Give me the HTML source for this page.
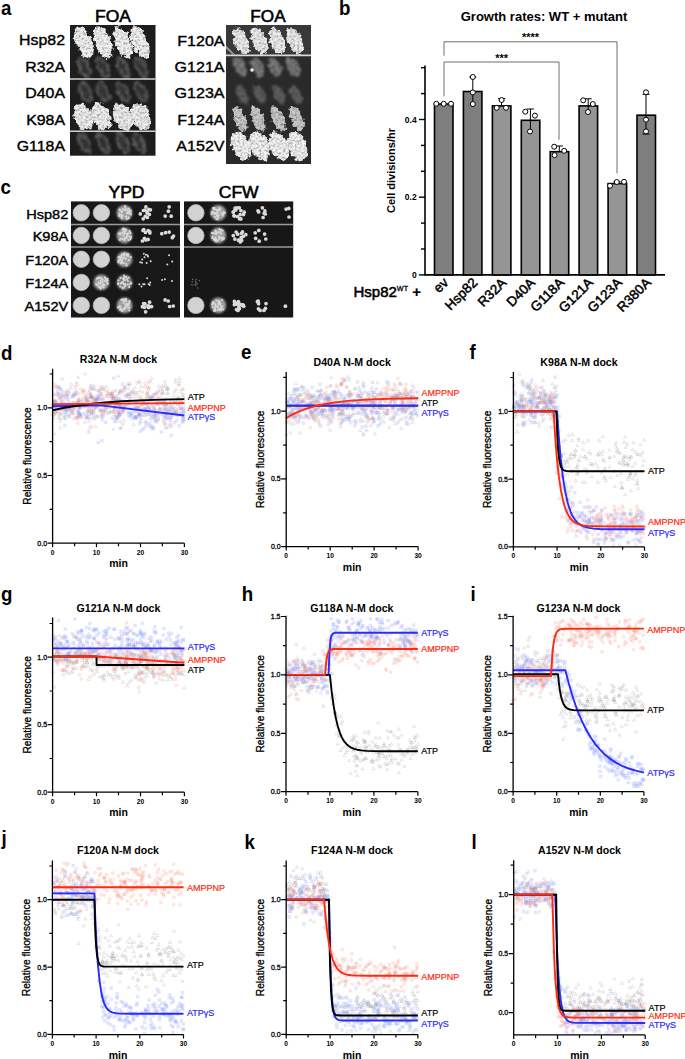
<!DOCTYPE html>
<html><head><meta charset="utf-8"><style>
html,body{margin:0;padding:0;background:#fff;}
svg{display:block;}
text{font-family:"Liberation Sans",sans-serif;}
</style></head><body>
<svg width="685" height="1059" viewBox="0 0 685 1059">
<defs><filter id="bl" x="-20%" y="-20%" width="140%" height="140%"><feGaussianBlur stdDeviation="0.8"/></filter>
<filter id="tex" x="-5%" y="-5%" width="110%" height="110%">
<feTurbulence type="fractalNoise" baseFrequency="0.22" numOctaves="2" seed="4" result="n"/>
<feDisplacementMap in="SourceGraphic" in2="n" scale="7" xChannelSelector="R" yChannelSelector="G" result="d"/>
<feTurbulence type="fractalNoise" baseFrequency="0.42" numOctaves="3" seed="11" result="n2"/>
<feColorMatrix in="n2" type="matrix" values="1.4 0 0 0 0.16  1.4 0 0 0 0.16  1.4 0 0 0 0.16  0 0 0 0 1" result="m"/>
<feComposite in="d" in2="m" operator="arithmetic" k1="1" k2="0" k3="0" k4="0" result="t"/>
<feGaussianBlur in="t" stdDeviation="0.45"/>
</filter>
<filter id="tex2" x="-5%" y="-5%" width="110%" height="110%">
<feTurbulence type="fractalNoise" baseFrequency="0.2" numOctaves="2" seed="8" result="n"/>
<feDisplacementMap in="SourceGraphic" in2="n" scale="6" xChannelSelector="R" yChannelSelector="G" result="d"/>
<feTurbulence type="fractalNoise" baseFrequency="0.55" numOctaves="2" seed="13" result="n2"/>
<feColorMatrix in="n2" type="matrix" values="0 0 0 0 1  0 0 0 0 1  0 0 0 0 1  1.8 0 0 0 -0.3" result="m"/>
<feComposite in="d" in2="m" operator="arithmetic" k1="1" k2="0" k3="0" k4="0" result="t"/>
<feGaussianBlur in="t" stdDeviation="0.9"/>
</filter></defs>
<text transform="translate(1 15) scale(0.96 1)" font-size="19.5" font-weight="bold" text-anchor="start" fill="#000" >a</text>
<text transform="translate(339 14.9) scale(0.96 1)" font-size="19.5" font-weight="bold" text-anchor="start" fill="#000" >b</text>
<text transform="translate(0.5 193.8) scale(0.96 1)" font-size="19.5" font-weight="bold" text-anchor="start" fill="#000" >c</text>
<text transform="translate(1 359.6) scale(0.96 1)" font-size="19.5" font-weight="bold" text-anchor="start" fill="#000" >d</text>
<text transform="translate(241 359.3) scale(0.96 1)" font-size="19.5" font-weight="bold" text-anchor="start" fill="#000" >e</text>
<text transform="translate(469.5 359.3) scale(0.96 1)" font-size="19.5" font-weight="bold" text-anchor="start" fill="#000" >f</text>
<text transform="translate(1 601) scale(0.96 1)" font-size="19.5" font-weight="bold" text-anchor="start" fill="#000" >g</text>
<text transform="translate(241.8 600.8) scale(0.96 1)" font-size="19.5" font-weight="bold" text-anchor="start" fill="#000" >h</text>
<text transform="translate(470.5 600.8) scale(0.96 1)" font-size="19.5" font-weight="bold" text-anchor="start" fill="#000" >i</text>
<text transform="translate(1.5 844.7) scale(0.96 1)" font-size="19.5" font-weight="bold" text-anchor="start" fill="#000" >j</text>
<text transform="translate(244.5 848.5) scale(0.96 1)" font-size="19.5" font-weight="bold" text-anchor="start" fill="#000" >k</text>
<text transform="translate(471.5 848.5) scale(0.96 1)" font-size="19.5" font-weight="bold" text-anchor="start" fill="#000" >l</text>
<rect x="70" y="25" width="85.5" height="130.7" fill="#1d1d1d"/>
<rect x="226" y="25" width="85" height="139" fill="#2a2a2a"/>
<rect x="226" y="25" width="85" height="30.4" fill="#383838"/>
<g filter="url(#tex)">
<ellipse cx="84" cy="42.3" rx="7.8" ry="17" transform="rotate(-22 84 42.3)" fill="#f2f2f2" opacity="1.0"/>
<ellipse cx="103" cy="42.3" rx="7.8" ry="17" transform="rotate(-22 103 42.3)" fill="#f2f2f2" opacity="1.0"/>
<ellipse cx="123" cy="42.3" rx="7.8" ry="17" transform="rotate(-22 123 42.3)" fill="#f2f2f2" opacity="1.0"/>
<ellipse cx="140" cy="42.3" rx="7.8" ry="17" transform="rotate(-22 140 42.3)" fill="#f2f2f2" opacity="1.0"/>
<ellipse cx="83" cy="116.8" rx="9" ry="14.2" transform="rotate(-22 83 116.8)" fill="#eeeeee" opacity="1.0"/>
<ellipse cx="101" cy="116.8" rx="9" ry="14.2" transform="rotate(-22 101 116.8)" fill="#eeeeee" opacity="1.0"/>
<ellipse cx="122.6" cy="116.8" rx="9" ry="14.2" transform="rotate(-22 122.6 116.8)" fill="#eeeeee" opacity="1.0"/>
<ellipse cx="140.6" cy="116.8" rx="9" ry="14.2" transform="rotate(-22 140.6 116.8)" fill="#eeeeee" opacity="1.0"/>
</g><g filter="url(#tex2)">
<ellipse cx="84" cy="67.5" rx="4.5" ry="10.5" transform="rotate(-26 84 67.5)" fill="#404040" stroke="#7a7a7a" stroke-width="2.6"/>
<ellipse cx="103" cy="67.5" rx="4.5" ry="10.5" transform="rotate(-26 103 67.5)" fill="#404040" stroke="#7a7a7a" stroke-width="2.6"/>
<ellipse cx="123" cy="67.5" rx="4.5" ry="10.5" transform="rotate(-26 123 67.5)" fill="#404040" stroke="#7a7a7a" stroke-width="2.6"/>
<ellipse cx="141" cy="67.5" rx="4.5" ry="10.5" transform="rotate(-26 141 67.5)" fill="#404040" stroke="#7a7a7a" stroke-width="2.6"/>
<ellipse cx="85.5" cy="92" rx="4.5" ry="10.5" transform="rotate(-26 85.5 92)" fill="#404040" stroke="#767676" stroke-width="2.6"/>
<ellipse cx="103" cy="92" rx="4.5" ry="10.5" transform="rotate(-26 103 92)" fill="#404040" stroke="#767676" stroke-width="2.6"/>
<ellipse cx="123" cy="92" rx="4.5" ry="10.5" transform="rotate(-26 123 92)" fill="#404040" stroke="#767676" stroke-width="2.6"/>
<ellipse cx="141" cy="92" rx="4.5" ry="10.5" transform="rotate(-26 141 92)" fill="#404040" stroke="#767676" stroke-width="2.6"/>
<ellipse cx="84.5" cy="143" rx="4.5" ry="10.5" transform="rotate(-26 84.5 143)" fill="#404040" stroke="#7a7a7a" stroke-width="2.6"/>
<ellipse cx="103" cy="143" rx="4.5" ry="10.5" transform="rotate(-26 103 143)" fill="#404040" stroke="#7a7a7a" stroke-width="2.6"/>
<ellipse cx="123" cy="143" rx="4.5" ry="10.5" transform="rotate(-26 123 143)" fill="#404040" stroke="#7a7a7a" stroke-width="2.6"/>
<ellipse cx="139" cy="143" rx="4.5" ry="10.5" transform="rotate(-26 139 143)" fill="#404040" stroke="#7a7a7a" stroke-width="2.6"/>
</g>
<g filter="url(#tex)">
<ellipse cx="241" cy="40.8" rx="7" ry="14" transform="rotate(-22 241 40.8)" fill="#ececec" opacity="1.0"/>
<ellipse cx="259.5" cy="40.8" rx="7" ry="14" transform="rotate(-22 259.5 40.8)" fill="#ececec" opacity="1.0"/>
<ellipse cx="277" cy="40.8" rx="7" ry="14" transform="rotate(-22 277 40.8)" fill="#ececec" opacity="1.0"/>
<ellipse cx="295" cy="40.8" rx="7" ry="14" transform="rotate(-22 295 40.8)" fill="#ececec" opacity="1.0"/>
<ellipse cx="240" cy="118.8" rx="6" ry="13.5" transform="rotate(-22 240 118.8)" fill="#c8c8c8" opacity="1.0"/>
<ellipse cx="258" cy="118.8" rx="6" ry="13.5" transform="rotate(-22 258 118.8)" fill="#c8c8c8" opacity="1.0"/>
<ellipse cx="278" cy="118.8" rx="6" ry="13.5" transform="rotate(-22 278 118.8)" fill="#c8c8c8" opacity="1.0"/>
<ellipse cx="297" cy="118.8" rx="6" ry="13.5" transform="rotate(-22 297 118.8)" fill="#c8c8c8" opacity="1.0"/>
<ellipse cx="241" cy="146" rx="9.5" ry="15" transform="rotate(-22 241 146)" fill="#f2f2f2" opacity="1.0"/>
<ellipse cx="259.5" cy="146" rx="9.5" ry="15" transform="rotate(-22 259.5 146)" fill="#f2f2f2" opacity="1.0"/>
<ellipse cx="279" cy="146" rx="9.5" ry="15" transform="rotate(-22 279 146)" fill="#f2f2f2" opacity="1.0"/>
<ellipse cx="297" cy="146" rx="9.5" ry="15" transform="rotate(-22 297 146)" fill="#f2f2f2" opacity="1.0"/>
</g><g filter="url(#tex2)">
<ellipse cx="240.5" cy="67" rx="5.8" ry="11" transform="rotate(-28 240.5 67)" fill="#9a9a9a" opacity="1.0"/>
<ellipse cx="257" cy="67" rx="5.8" ry="11" transform="rotate(-28 257 67)" fill="#9a9a9a" opacity="1.0"/>
<ellipse cx="275" cy="67" rx="5.8" ry="11" transform="rotate(-28 275 67)" fill="#9a9a9a" opacity="1.0"/>
<ellipse cx="293" cy="67" rx="5.8" ry="11" transform="rotate(-28 293 67)" fill="#9a9a9a" opacity="1.0"/>
<ellipse cx="242" cy="94.5" rx="5.2" ry="10.5" transform="rotate(-28 242 94.5)" fill="#767676" opacity="1.0"/>
<ellipse cx="260" cy="94.5" rx="5.2" ry="10.5" transform="rotate(-28 260 94.5)" fill="#767676" opacity="1.0"/>
<ellipse cx="279" cy="94.5" rx="5.2" ry="10.5" transform="rotate(-28 279 94.5)" fill="#767676" opacity="1.0"/>
<ellipse cx="295.6" cy="94.5" rx="5.2" ry="10.5" transform="rotate(-28 295.6 94.5)" fill="#767676" opacity="1.0"/>
</g>
<circle cx="252" cy="70" r="1.8" fill="#eee"/>
<path d="M226,45.5L235,54.6H232.5L226,48.5Z" fill="#9a9a9a"/>
<line x1="70" x2="155.5" y1="79" y2="79" stroke="#d2d2d2" stroke-width="1.6"/>
<line x1="70" x2="155.5" y1="131.2" y2="131.2" stroke="#d2d2d2" stroke-width="1.6"/>
<line x1="226" x2="311" y1="55.4" y2="55.4" stroke="#d8d8d8" stroke-width="1.6"/>
<text transform="translate(65 45.3) scale(1.06 1)" font-size="15" text-anchor="end" fill="#000" stroke="#000" stroke-width="0.4">Hsp82</text>
<text transform="translate(65 71.7) scale(1.06 1)" font-size="15" text-anchor="end" fill="#000" stroke="#000" stroke-width="0.4">R32A</text>
<text transform="translate(65 98.4) scale(1.06 1)" font-size="15" text-anchor="end" fill="#000" stroke="#000" stroke-width="0.4">D40A</text>
<text transform="translate(65 125) scale(1.06 1)" font-size="15" text-anchor="end" fill="#000" stroke="#000" stroke-width="0.4">K98A</text>
<text transform="translate(65 151) scale(1.06 1)" font-size="15" text-anchor="end" fill="#000" stroke="#000" stroke-width="0.4">G118A</text>
<text transform="translate(224.5 45.9) scale(1.07 1)" font-size="15" text-anchor="end" fill="#000" stroke="#000" stroke-width="0.4">F120A</text>
<text transform="translate(224.5 72.4) scale(1.07 1)" font-size="15" text-anchor="end" fill="#000" stroke="#000" stroke-width="0.4">G121A</text>
<text transform="translate(224.5 98.4) scale(1.07 1)" font-size="15" text-anchor="end" fill="#000" stroke="#000" stroke-width="0.4">G123A</text>
<text transform="translate(224.5 124.5) scale(1.07 1)" font-size="15" text-anchor="end" fill="#000" stroke="#000" stroke-width="0.4">F124A</text>
<text transform="translate(224.5 150.7) scale(1.07 1)" font-size="15" text-anchor="end" fill="#000" stroke="#000" stroke-width="0.4">A152V</text>
<text transform="translate(113 21.7) scale(1.06 1)" font-size="16.5" text-anchor="middle" fill="#000" stroke="#000" stroke-width="0.6">FOA</text>
<text transform="translate(268 21.7) scale(1.04 1)" font-size="16.5" text-anchor="middle" fill="#000" stroke="#000" stroke-width="0.6">FOA</text>
<rect x="71" y="201.4" width="109" height="116.1" fill="#181818"/>
<rect x="184" y="201.4" width="109.2" height="116.1" fill="#171717"/>
<line x1="71" x2="180" y1="224.5" y2="224.5" stroke="#9a9a9a" stroke-width="1.4"/>
<line x1="184" x2="293.2" y1="224.5" y2="224.5" stroke="#9a9a9a" stroke-width="1.4"/>
<line x1="71" x2="180" y1="247" y2="247" stroke="#9a9a9a" stroke-width="1.4"/>
<line x1="184" x2="293.2" y1="247" y2="247" stroke="#9a9a9a" stroke-width="1.4"/>
<circle cx="81.3" cy="212.8" r="8.2" fill="#d2d2d2" stroke="#bbb" stroke-width="0.8"/>
<circle cx="195.9" cy="212.8" r="8.2" fill="#d2d2d2" stroke="#bbb" stroke-width="0.8"/>
<circle cx="101.4" cy="212.8" r="8.2" fill="#d2d2d2" stroke="#bbb" stroke-width="0.8"/>
<circle cx="218.3" cy="212.8" r="7.9" fill="#a0a0a0" filter="url(#bl)"/>
<circle cx="213.6" cy="208.1" r="1.1" fill="#d8d8d8"/>
<circle cx="218.8" cy="209.5" r="1.1" fill="#d8d8d8"/>
<circle cx="216.3" cy="219" r="1.1" fill="#d8d8d8"/>
<circle cx="224.6" cy="213" r="1.1" fill="#d8d8d8"/>
<circle cx="219.7" cy="208.2" r="1.1" fill="#d8d8d8"/>
<circle cx="217.1" cy="216.3" r="1.1" fill="#d8d8d8"/>
<circle cx="218.2" cy="217.5" r="1.1" fill="#d8d8d8"/>
<circle cx="213.1" cy="212.7" r="1.1" fill="#d8d8d8"/>
<circle cx="224.5" cy="212.6" r="1.1" fill="#d8d8d8"/>
<circle cx="213.3" cy="208" r="1.1" fill="#d8d8d8"/>
<circle cx="218.9" cy="215.5" r="1.1" fill="#d8d8d8"/>
<circle cx="217.2" cy="211.8" r="1.1" fill="#d8d8d8"/>
<circle cx="223.2" cy="213.9" r="1.1" fill="#d8d8d8"/>
<circle cx="211.7" cy="214.2" r="1.1" fill="#d8d8d8"/>
<circle cx="214.8" cy="209.2" r="1.1" fill="#d8d8d8"/>
<circle cx="214.8" cy="212.9" r="1.1" fill="#d8d8d8"/>
<circle cx="221.4" cy="213" r="1.1" fill="#d8d8d8"/>
<circle cx="217.2" cy="209.9" r="1.1" fill="#d8d8d8"/>
<circle cx="218" cy="213.1" r="1.1" fill="#d8d8d8"/>
<circle cx="219.6" cy="210.4" r="1.1" fill="#d8d8d8"/>
<circle cx="217.6" cy="219.3" r="1.1" fill="#d8d8d8"/>
<circle cx="211.9" cy="212.4" r="1.1" fill="#d8d8d8"/>
<circle cx="214.4" cy="208.2" r="1.1" fill="#d8d8d8"/>
<circle cx="222.6" cy="215.6" r="1.1" fill="#d8d8d8"/>
<circle cx="211.8" cy="212.5" r="1.1" fill="#d8d8d8"/>
<circle cx="214.8" cy="216.9" r="1.1" fill="#d8d8d8"/>
<circle cx="222.4" cy="214.4" r="1.1" fill="#d8d8d8"/>
<circle cx="217.1" cy="215.2" r="1.1" fill="#d8d8d8"/>
<circle cx="220" cy="208.9" r="1.1" fill="#d8d8d8"/>
<circle cx="223.6" cy="212.1" r="1.1" fill="#d8d8d8"/>
<circle cx="213.9" cy="209.4" r="1.1" fill="#d8d8d8"/>
<circle cx="217.1" cy="210.4" r="1.1" fill="#d8d8d8"/>
<circle cx="215.1" cy="214.1" r="1.1" fill="#d8d8d8"/>
<circle cx="216.5" cy="214.1" r="1.1" fill="#d8d8d8"/>
<circle cx="124.5" cy="212.8" r="7.9" fill="#a0a0a0" filter="url(#bl)"/>
<circle cx="127.7" cy="212.1" r="1.1" fill="#d8d8d8"/>
<circle cx="122.7" cy="209.4" r="1.1" fill="#d8d8d8"/>
<circle cx="128.5" cy="208.7" r="1.1" fill="#d8d8d8"/>
<circle cx="128.9" cy="217.5" r="1.1" fill="#d8d8d8"/>
<circle cx="130.8" cy="210.5" r="1.1" fill="#d8d8d8"/>
<circle cx="122.1" cy="211.7" r="1.1" fill="#d8d8d8"/>
<circle cx="126.9" cy="219.1" r="1.1" fill="#d8d8d8"/>
<circle cx="121.7" cy="211.8" r="1.1" fill="#d8d8d8"/>
<circle cx="128.7" cy="209.1" r="1.1" fill="#d8d8d8"/>
<circle cx="120.6" cy="211" r="1.1" fill="#d8d8d8"/>
<circle cx="121.6" cy="214.6" r="1.1" fill="#d8d8d8"/>
<circle cx="130.9" cy="214.4" r="1.1" fill="#d8d8d8"/>
<circle cx="119.4" cy="213.9" r="1.1" fill="#d8d8d8"/>
<circle cx="121.8" cy="218.3" r="1.1" fill="#d8d8d8"/>
<circle cx="128.7" cy="213.5" r="1.1" fill="#d8d8d8"/>
<circle cx="126.9" cy="213.3" r="1.1" fill="#d8d8d8"/>
<circle cx="130.1" cy="211.6" r="1.1" fill="#d8d8d8"/>
<circle cx="119.9" cy="215" r="1.1" fill="#d8d8d8"/>
<circle cx="127.4" cy="209.8" r="1.1" fill="#d8d8d8"/>
<circle cx="119.6" cy="209.7" r="1.1" fill="#d8d8d8"/>
<circle cx="121.4" cy="216.8" r="1.1" fill="#d8d8d8"/>
<circle cx="125.1" cy="206.2" r="1.1" fill="#d8d8d8"/>
<circle cx="128.4" cy="218.3" r="1.1" fill="#d8d8d8"/>
<circle cx="130.6" cy="213" r="1.1" fill="#d8d8d8"/>
<circle cx="125.5" cy="210.4" r="1.1" fill="#d8d8d8"/>
<circle cx="119" cy="215.9" r="1.1" fill="#d8d8d8"/>
<circle cx="130" cy="213.3" r="1.1" fill="#d8d8d8"/>
<circle cx="125.8" cy="208" r="1.1" fill="#d8d8d8"/>
<circle cx="124" cy="209.5" r="1.1" fill="#d8d8d8"/>
<circle cx="125.8" cy="216.8" r="1.1" fill="#d8d8d8"/>
<circle cx="126.3" cy="216.5" r="1.1" fill="#d8d8d8"/>
<circle cx="129.5" cy="211.1" r="1.1" fill="#d8d8d8"/>
<circle cx="122.5" cy="215.9" r="1.1" fill="#d8d8d8"/>
<circle cx="129" cy="211.4" r="1.1" fill="#d8d8d8"/>
<circle cx="244.2" cy="212.2" r="1.85" fill="#dadada"/>
<circle cx="233.4" cy="212" r="1.85" fill="#dadada"/>
<circle cx="239.3" cy="207.8" r="1.85" fill="#dadada"/>
<circle cx="234" cy="215.5" r="1.85" fill="#dadada"/>
<circle cx="234.2" cy="216.1" r="1.85" fill="#dadada"/>
<circle cx="243.5" cy="214.6" r="1.85" fill="#dadada"/>
<circle cx="233.2" cy="212" r="1.85" fill="#dadada"/>
<circle cx="239.5" cy="218.7" r="1.85" fill="#dadada"/>
<circle cx="237" cy="207.8" r="1.85" fill="#dadada"/>
<circle cx="235.1" cy="208.1" r="1.85" fill="#dadada"/>
<circle cx="237.4" cy="216.5" r="1.85" fill="#dadada"/>
<circle cx="240.1" cy="214.7" r="1.85" fill="#dadada"/>
<circle cx="240.9" cy="218.9" r="1.85" fill="#dadada"/>
<circle cx="240.9" cy="210.6" r="1.85" fill="#dadada"/>
<circle cx="235.8" cy="210" r="1.85" fill="#dadada"/>
<circle cx="235.1" cy="209.8" r="1.85" fill="#dadada"/>
<circle cx="143.2" cy="218.8" r="1.85" fill="#dadada"/>
<circle cx="140.3" cy="213.9" r="1.85" fill="#dadada"/>
<circle cx="143.4" cy="210.5" r="1.85" fill="#dadada"/>
<circle cx="149.4" cy="214.4" r="1.85" fill="#dadada"/>
<circle cx="145.9" cy="206.9" r="1.85" fill="#dadada"/>
<circle cx="145.1" cy="210.2" r="1.85" fill="#dadada"/>
<circle cx="150.4" cy="209.8" r="1.85" fill="#dadada"/>
<circle cx="148.8" cy="209.4" r="1.85" fill="#dadada"/>
<circle cx="147.1" cy="211.8" r="1.85" fill="#dadada"/>
<circle cx="147.1" cy="213.1" r="1.85" fill="#dadada"/>
<circle cx="145.3" cy="216.3" r="1.85" fill="#dadada"/>
<circle cx="147.3" cy="217.4" r="1.85" fill="#dadada"/>
<circle cx="265.3" cy="214" r="1.85" fill="#dadada"/>
<circle cx="263.1" cy="217.5" r="1.85" fill="#dadada"/>
<circle cx="264.2" cy="213.3" r="1.85" fill="#dadada"/>
<circle cx="264.9" cy="210.9" r="1.85" fill="#dadada"/>
<circle cx="262.4" cy="207.8" r="1.85" fill="#dadada"/>
<circle cx="258" cy="210.8" r="1.85" fill="#dadada"/>
<circle cx="258.7" cy="211.9" r="1.85" fill="#dadada"/>
<circle cx="169.2" cy="206.8" r="1.85" fill="#dadada"/>
<circle cx="168.4" cy="211.2" r="1.85" fill="#dadada"/>
<circle cx="165.2" cy="216.1" r="1.85" fill="#dadada"/>
<circle cx="171.2" cy="216.2" r="1.85" fill="#dadada"/>
<circle cx="286.1" cy="209.1" r="1.85" fill="#dadada"/>
<circle cx="288.8" cy="208.4" r="1.85" fill="#dadada"/>
<circle cx="289" cy="217" r="1.85" fill="#dadada"/>
<circle cx="81.3" cy="235.5" r="8.2" fill="#d2d2d2" stroke="#bbb" stroke-width="0.8"/>
<circle cx="195.9" cy="235.5" r="8.2" fill="#d2d2d2" stroke="#bbb" stroke-width="0.8"/>
<circle cx="101.4" cy="235.5" r="8.2" fill="#d2d2d2" stroke="#bbb" stroke-width="0.8"/>
<circle cx="218.3" cy="235.5" r="7.9" fill="#a0a0a0" filter="url(#bl)"/>
<circle cx="220.6" cy="233.4" r="1.1" fill="#d8d8d8"/>
<circle cx="213.3" cy="233" r="1.1" fill="#d8d8d8"/>
<circle cx="216.6" cy="234.1" r="1.1" fill="#d8d8d8"/>
<circle cx="215.3" cy="230.8" r="1.1" fill="#d8d8d8"/>
<circle cx="221.1" cy="229.9" r="1.1" fill="#d8d8d8"/>
<circle cx="215.5" cy="240.8" r="1.1" fill="#d8d8d8"/>
<circle cx="222.7" cy="230.6" r="1.1" fill="#d8d8d8"/>
<circle cx="218.9" cy="236.5" r="1.1" fill="#d8d8d8"/>
<circle cx="216.4" cy="232.9" r="1.1" fill="#d8d8d8"/>
<circle cx="212" cy="232.9" r="1.1" fill="#d8d8d8"/>
<circle cx="215.7" cy="237.9" r="1.1" fill="#d8d8d8"/>
<circle cx="212.8" cy="237" r="1.1" fill="#d8d8d8"/>
<circle cx="221.8" cy="238.1" r="1.1" fill="#d8d8d8"/>
<circle cx="222.1" cy="239.7" r="1.1" fill="#d8d8d8"/>
<circle cx="220.4" cy="231.7" r="1.1" fill="#d8d8d8"/>
<circle cx="214.7" cy="239.2" r="1.1" fill="#d8d8d8"/>
<circle cx="219.1" cy="238.9" r="1.1" fill="#d8d8d8"/>
<circle cx="216" cy="239.7" r="1.1" fill="#d8d8d8"/>
<circle cx="223.6" cy="238.5" r="1.1" fill="#d8d8d8"/>
<circle cx="214.9" cy="233.7" r="1.1" fill="#d8d8d8"/>
<circle cx="223.7" cy="238.4" r="1.1" fill="#d8d8d8"/>
<circle cx="220" cy="237.4" r="1.1" fill="#d8d8d8"/>
<circle cx="219.7" cy="237" r="1.1" fill="#d8d8d8"/>
<circle cx="221.3" cy="233.5" r="1.1" fill="#d8d8d8"/>
<circle cx="216.1" cy="241.5" r="1.1" fill="#d8d8d8"/>
<circle cx="216.1" cy="233.4" r="1.1" fill="#d8d8d8"/>
<circle cx="212.3" cy="238.1" r="1.1" fill="#d8d8d8"/>
<circle cx="214.1" cy="239.7" r="1.1" fill="#d8d8d8"/>
<circle cx="223.2" cy="238.9" r="1.1" fill="#d8d8d8"/>
<circle cx="219.3" cy="229.2" r="1.1" fill="#d8d8d8"/>
<circle cx="216.3" cy="231.7" r="1.1" fill="#d8d8d8"/>
<circle cx="222.9" cy="237.5" r="1.1" fill="#d8d8d8"/>
<circle cx="218.4" cy="232.4" r="1.1" fill="#d8d8d8"/>
<circle cx="217.8" cy="240.6" r="1.1" fill="#d8d8d8"/>
<circle cx="124.5" cy="235.5" r="7.9" fill="#a0a0a0" filter="url(#bl)"/>
<circle cx="124.4" cy="228.9" r="1.1" fill="#d8d8d8"/>
<circle cx="126.6" cy="237.6" r="1.1" fill="#d8d8d8"/>
<circle cx="126.2" cy="230.1" r="1.1" fill="#d8d8d8"/>
<circle cx="123.2" cy="228.6" r="1.1" fill="#d8d8d8"/>
<circle cx="130.5" cy="233.1" r="1.1" fill="#d8d8d8"/>
<circle cx="125.2" cy="231.2" r="1.1" fill="#d8d8d8"/>
<circle cx="122.6" cy="233.2" r="1.1" fill="#d8d8d8"/>
<circle cx="124.8" cy="229.4" r="1.1" fill="#d8d8d8"/>
<circle cx="123.7" cy="230.9" r="1.1" fill="#d8d8d8"/>
<circle cx="121.2" cy="238.6" r="1.1" fill="#d8d8d8"/>
<circle cx="130.8" cy="236.8" r="1.1" fill="#d8d8d8"/>
<circle cx="120.3" cy="234.4" r="1.1" fill="#d8d8d8"/>
<circle cx="118.8" cy="233.7" r="1.1" fill="#d8d8d8"/>
<circle cx="119.8" cy="239.8" r="1.1" fill="#d8d8d8"/>
<circle cx="128.3" cy="233.4" r="1.1" fill="#d8d8d8"/>
<circle cx="128.5" cy="240.1" r="1.1" fill="#d8d8d8"/>
<circle cx="127.2" cy="235.4" r="1.1" fill="#d8d8d8"/>
<circle cx="123" cy="229.3" r="1.1" fill="#d8d8d8"/>
<circle cx="126.7" cy="234.3" r="1.1" fill="#d8d8d8"/>
<circle cx="130.3" cy="239.3" r="1.1" fill="#d8d8d8"/>
<circle cx="126.7" cy="237.5" r="1.1" fill="#d8d8d8"/>
<circle cx="120.3" cy="233.4" r="1.1" fill="#d8d8d8"/>
<circle cx="124.5" cy="232.4" r="1.1" fill="#d8d8d8"/>
<circle cx="127.3" cy="233.8" r="1.1" fill="#d8d8d8"/>
<circle cx="124.7" cy="233.7" r="1.1" fill="#d8d8d8"/>
<circle cx="123.3" cy="235.7" r="1.1" fill="#d8d8d8"/>
<circle cx="123" cy="239.1" r="1.1" fill="#d8d8d8"/>
<circle cx="123.6" cy="230.9" r="1.1" fill="#d8d8d8"/>
<circle cx="131" cy="237.9" r="1.1" fill="#d8d8d8"/>
<circle cx="129.6" cy="231.2" r="1.1" fill="#d8d8d8"/>
<circle cx="124.6" cy="239.9" r="1.1" fill="#d8d8d8"/>
<circle cx="124.9" cy="237.9" r="1.1" fill="#d8d8d8"/>
<circle cx="129.4" cy="236.5" r="1.1" fill="#d8d8d8"/>
<circle cx="126.6" cy="237.6" r="1.1" fill="#d8d8d8"/>
<circle cx="242.5" cy="231.9" r="1.85" fill="#dadada"/>
<circle cx="241.7" cy="240.4" r="1.85" fill="#dadada"/>
<circle cx="239" cy="240.3" r="1.85" fill="#dadada"/>
<circle cx="238.5" cy="240.2" r="1.85" fill="#dadada"/>
<circle cx="236.1" cy="232" r="1.85" fill="#dadada"/>
<circle cx="234.9" cy="239.1" r="1.85" fill="#dadada"/>
<circle cx="241.6" cy="233.3" r="1.85" fill="#dadada"/>
<circle cx="241.2" cy="237.4" r="1.85" fill="#dadada"/>
<circle cx="245.8" cy="234.7" r="1.85" fill="#dadada"/>
<circle cx="240.3" cy="241.9" r="1.85" fill="#dadada"/>
<circle cx="240.7" cy="240.1" r="1.85" fill="#dadada"/>
<circle cx="233.3" cy="235.6" r="1.85" fill="#dadada"/>
<circle cx="243.2" cy="236.5" r="1.85" fill="#dadada"/>
<circle cx="237.7" cy="234.2" r="1.85" fill="#dadada"/>
<circle cx="145.8" cy="240" r="1.85" fill="#dadada"/>
<circle cx="149.6" cy="231.6" r="1.85" fill="#dadada"/>
<circle cx="148.1" cy="230.5" r="1.85" fill="#dadada"/>
<circle cx="143.8" cy="229.7" r="1.85" fill="#dadada"/>
<circle cx="143" cy="230.4" r="1.85" fill="#dadada"/>
<circle cx="144.5" cy="238.3" r="1.85" fill="#dadada"/>
<circle cx="145.5" cy="232.5" r="1.85" fill="#dadada"/>
<circle cx="149.9" cy="233" r="1.85" fill="#dadada"/>
<circle cx="142.4" cy="241" r="1.85" fill="#dadada"/>
<circle cx="148.1" cy="239.4" r="1.85" fill="#dadada"/>
<circle cx="265.8" cy="239" r="1.85" fill="#dadada"/>
<circle cx="255.2" cy="232.8" r="1.85" fill="#dadada"/>
<circle cx="259.2" cy="241.2" r="1.85" fill="#dadada"/>
<circle cx="258.8" cy="230.4" r="1.85" fill="#dadada"/>
<circle cx="264.6" cy="234.1" r="1.85" fill="#dadada"/>
<circle cx="255.7" cy="238.3" r="1.85" fill="#dadada"/>
<circle cx="169.2" cy="232.1" r="1.85" fill="#dadada"/>
<circle cx="165.6" cy="232.7" r="1.85" fill="#dadada"/>
<circle cx="161.8" cy="233.7" r="1.85" fill="#dadada"/>
<circle cx="172.3" cy="237.7" r="1.85" fill="#dadada"/>
<circle cx="173.5" cy="236.1" r="1.85" fill="#dadada"/>
<circle cx="81.3" cy="259.3" r="8.2" fill="#d2d2d2" stroke="#bbb" stroke-width="0.8"/>
<circle cx="101.4" cy="259.3" r="8.2" fill="#d2d2d2" stroke="#bbb" stroke-width="0.8"/>
<circle cx="124.5" cy="259.3" r="7.9" fill="#a0a0a0" filter="url(#bl)"/>
<circle cx="120.1" cy="260.2" r="1.1" fill="#d8d8d8"/>
<circle cx="123.6" cy="254.3" r="1.1" fill="#d8d8d8"/>
<circle cx="124.3" cy="257.3" r="1.1" fill="#d8d8d8"/>
<circle cx="119.7" cy="257.3" r="1.1" fill="#d8d8d8"/>
<circle cx="125.8" cy="258.7" r="1.1" fill="#d8d8d8"/>
<circle cx="119.2" cy="260.9" r="1.1" fill="#d8d8d8"/>
<circle cx="122.7" cy="258.7" r="1.1" fill="#d8d8d8"/>
<circle cx="121.7" cy="257.5" r="1.1" fill="#d8d8d8"/>
<circle cx="126.7" cy="265.5" r="1.1" fill="#d8d8d8"/>
<circle cx="126" cy="263.8" r="1.1" fill="#d8d8d8"/>
<circle cx="124.5" cy="253.4" r="1.1" fill="#d8d8d8"/>
<circle cx="118.6" cy="257.2" r="1.1" fill="#d8d8d8"/>
<circle cx="119.1" cy="260.5" r="1.1" fill="#d8d8d8"/>
<circle cx="126.9" cy="254.1" r="1.1" fill="#d8d8d8"/>
<circle cx="121.7" cy="255.8" r="1.1" fill="#d8d8d8"/>
<circle cx="120.4" cy="257.7" r="1.1" fill="#d8d8d8"/>
<circle cx="124.3" cy="255" r="1.1" fill="#d8d8d8"/>
<circle cx="118.6" cy="260.6" r="1.1" fill="#d8d8d8"/>
<circle cx="120.4" cy="259.2" r="1.1" fill="#d8d8d8"/>
<circle cx="126.5" cy="255.5" r="1.1" fill="#d8d8d8"/>
<circle cx="128" cy="254.2" r="1.1" fill="#d8d8d8"/>
<circle cx="118.9" cy="261.2" r="1.1" fill="#d8d8d8"/>
<circle cx="128.8" cy="260.2" r="1.1" fill="#d8d8d8"/>
<circle cx="127.9" cy="255.2" r="1.1" fill="#d8d8d8"/>
<circle cx="119.2" cy="257.3" r="1.1" fill="#d8d8d8"/>
<circle cx="122.1" cy="254.5" r="1.1" fill="#d8d8d8"/>
<circle cx="121.9" cy="260.7" r="1.1" fill="#d8d8d8"/>
<circle cx="123.5" cy="263" r="1.1" fill="#d8d8d8"/>
<circle cx="118.2" cy="262.3" r="1.1" fill="#d8d8d8"/>
<circle cx="121.7" cy="263" r="1.1" fill="#d8d8d8"/>
<circle cx="120.8" cy="263.2" r="1.1" fill="#d8d8d8"/>
<circle cx="130.7" cy="257.2" r="1.1" fill="#d8d8d8"/>
<circle cx="121.9" cy="261.8" r="1.1" fill="#d8d8d8"/>
<circle cx="128.2" cy="256" r="1.1" fill="#d8d8d8"/>
<circle cx="144.5" cy="257.2" r="1.0" fill="#dadada"/>
<circle cx="148" cy="256.4" r="1.0" fill="#dadada"/>
<circle cx="142.2" cy="259.4" r="1.0" fill="#dadada"/>
<circle cx="140.2" cy="262.2" r="1.0" fill="#dadada"/>
<circle cx="147.5" cy="255.2" r="1.0" fill="#dadada"/>
<circle cx="145.9" cy="254.8" r="1.0" fill="#dadada"/>
<circle cx="142" cy="262.8" r="1.0" fill="#dadada"/>
<circle cx="146.6" cy="263" r="1.0" fill="#dadada"/>
<circle cx="143.8" cy="253.8" r="1.0" fill="#dadada"/>
<circle cx="150.7" cy="261.3" r="1.0" fill="#dadada"/>
<circle cx="169" cy="255.2" r="1.0" fill="#dadada"/>
<circle cx="172.2" cy="261.4" r="1.0" fill="#dadada"/>
<circle cx="167.3" cy="264.6" r="1.0" fill="#dadada"/>
<circle cx="81.3" cy="282.4" r="8.2" fill="#d2d2d2" stroke="#bbb" stroke-width="0.8"/>
<circle cx="193.2" cy="285.1" r="0.7" fill="#777"/>
<circle cx="195.8" cy="285.3" r="0.7" fill="#777"/>
<circle cx="192.2" cy="281.8" r="0.7" fill="#777"/>
<circle cx="197.6" cy="287.9" r="0.7" fill="#777"/>
<circle cx="195.5" cy="284.2" r="0.7" fill="#777"/>
<circle cx="195.9" cy="282.8" r="0.7" fill="#777"/>
<circle cx="191.8" cy="284.6" r="0.7" fill="#777"/>
<circle cx="195.6" cy="281.3" r="0.7" fill="#777"/>
<circle cx="197.2" cy="283.9" r="0.7" fill="#777"/>
<circle cx="196.2" cy="279.5" r="0.7" fill="#777"/>
<circle cx="199.4" cy="280.6" r="0.7" fill="#777"/>
<circle cx="192.6" cy="279.2" r="0.7" fill="#777"/>
<circle cx="101.4" cy="282.4" r="7.9" fill="#a0a0a0" filter="url(#bl)"/>
<circle cx="101.4" cy="278.3" r="1.1" fill="#d8d8d8"/>
<circle cx="101.2" cy="287" r="1.1" fill="#d8d8d8"/>
<circle cx="98.8" cy="282.6" r="1.1" fill="#d8d8d8"/>
<circle cx="96.2" cy="284.4" r="1.1" fill="#d8d8d8"/>
<circle cx="103.1" cy="284.4" r="1.1" fill="#d8d8d8"/>
<circle cx="103.1" cy="285.7" r="1.1" fill="#d8d8d8"/>
<circle cx="102.5" cy="282.1" r="1.1" fill="#d8d8d8"/>
<circle cx="102.6" cy="285" r="1.1" fill="#d8d8d8"/>
<circle cx="100.6" cy="282.5" r="1.1" fill="#d8d8d8"/>
<circle cx="98.7" cy="283.1" r="1.1" fill="#d8d8d8"/>
<circle cx="100.6" cy="288.6" r="1.1" fill="#d8d8d8"/>
<circle cx="103.6" cy="287.4" r="1.1" fill="#d8d8d8"/>
<circle cx="97.6" cy="284.9" r="1.1" fill="#d8d8d8"/>
<circle cx="102.5" cy="279.8" r="1.1" fill="#d8d8d8"/>
<circle cx="107.3" cy="279.3" r="1.1" fill="#d8d8d8"/>
<circle cx="100.6" cy="281" r="1.1" fill="#d8d8d8"/>
<circle cx="98.6" cy="277.8" r="1.1" fill="#d8d8d8"/>
<circle cx="101.8" cy="279.2" r="1.1" fill="#d8d8d8"/>
<circle cx="107.7" cy="280.5" r="1.1" fill="#d8d8d8"/>
<circle cx="104.4" cy="285" r="1.1" fill="#d8d8d8"/>
<circle cx="107.6" cy="283.7" r="1.1" fill="#d8d8d8"/>
<circle cx="107.4" cy="278.8" r="1.1" fill="#d8d8d8"/>
<circle cx="97" cy="278.7" r="1.1" fill="#d8d8d8"/>
<circle cx="99.1" cy="277.6" r="1.1" fill="#d8d8d8"/>
<circle cx="106.6" cy="280.8" r="1.1" fill="#d8d8d8"/>
<circle cx="98.8" cy="286.7" r="1.1" fill="#d8d8d8"/>
<circle cx="107.3" cy="283.1" r="1.1" fill="#d8d8d8"/>
<circle cx="99.8" cy="278.1" r="1.1" fill="#d8d8d8"/>
<circle cx="105" cy="277.5" r="1.1" fill="#d8d8d8"/>
<circle cx="100.4" cy="284.1" r="1.1" fill="#d8d8d8"/>
<circle cx="103.4" cy="284.6" r="1.1" fill="#d8d8d8"/>
<circle cx="99.8" cy="286.8" r="1.1" fill="#d8d8d8"/>
<circle cx="104.7" cy="280.8" r="1.1" fill="#d8d8d8"/>
<circle cx="106" cy="279" r="1.1" fill="#d8d8d8"/>
<circle cx="124.5" cy="282.4" r="7.9" fill="#808080" filter="url(#bl)"/>
<circle cx="127.2" cy="278.9" r="1.1" fill="#d8d8d8"/>
<circle cx="130.7" cy="282.5" r="1.1" fill="#d8d8d8"/>
<circle cx="124.6" cy="285" r="1.1" fill="#d8d8d8"/>
<circle cx="126.3" cy="276.9" r="1.1" fill="#d8d8d8"/>
<circle cx="125.3" cy="285.9" r="1.1" fill="#d8d8d8"/>
<circle cx="127.9" cy="281" r="1.1" fill="#d8d8d8"/>
<circle cx="123.8" cy="280" r="1.1" fill="#d8d8d8"/>
<circle cx="125.4" cy="280.2" r="1.1" fill="#d8d8d8"/>
<circle cx="123.2" cy="282.3" r="1.1" fill="#d8d8d8"/>
<circle cx="118.4" cy="280.4" r="1.1" fill="#d8d8d8"/>
<circle cx="127.7" cy="284.3" r="1.1" fill="#d8d8d8"/>
<circle cx="125" cy="277" r="1.1" fill="#d8d8d8"/>
<circle cx="122.4" cy="287.5" r="1.1" fill="#d8d8d8"/>
<circle cx="118.3" cy="284.2" r="1.1" fill="#d8d8d8"/>
<circle cx="122.9" cy="288.3" r="1.1" fill="#d8d8d8"/>
<circle cx="120.5" cy="277.9" r="1.1" fill="#d8d8d8"/>
<circle cx="120.2" cy="286.5" r="1.1" fill="#d8d8d8"/>
<circle cx="123.1" cy="278.3" r="1.1" fill="#d8d8d8"/>
<circle cx="131.3" cy="283.5" r="1.1" fill="#d8d8d8"/>
<circle cx="123.8" cy="279.3" r="1.1" fill="#d8d8d8"/>
<circle cx="124" cy="278.7" r="1.1" fill="#d8d8d8"/>
<circle cx="118.1" cy="283.7" r="1.1" fill="#d8d8d8"/>
<circle cx="120.9" cy="283.6" r="1.1" fill="#d8d8d8"/>
<circle cx="123.8" cy="284.2" r="1.1" fill="#d8d8d8"/>
<circle cx="125.2" cy="286" r="1.1" fill="#d8d8d8"/>
<circle cx="125.3" cy="284" r="1.1" fill="#d8d8d8"/>
<circle cx="121.3" cy="283.1" r="1.1" fill="#d8d8d8"/>
<circle cx="124" cy="275.7" r="1.1" fill="#d8d8d8"/>
<circle cx="123.7" cy="287.6" r="1.1" fill="#d8d8d8"/>
<circle cx="122.6" cy="282.3" r="1.1" fill="#d8d8d8"/>
<circle cx="129.2" cy="287.1" r="1.1" fill="#d8d8d8"/>
<circle cx="118.3" cy="283.4" r="1.1" fill="#d8d8d8"/>
<circle cx="129.4" cy="284.6" r="1.1" fill="#d8d8d8"/>
<circle cx="128.8" cy="277.5" r="1.1" fill="#d8d8d8"/>
<circle cx="150.2" cy="282.6" r="1.0" fill="#dadada"/>
<circle cx="141.5" cy="286.6" r="1.0" fill="#dadada"/>
<circle cx="148.6" cy="284" r="1.0" fill="#dadada"/>
<circle cx="147.1" cy="278.2" r="1.0" fill="#dadada"/>
<circle cx="139.3" cy="284.3" r="1.0" fill="#dadada"/>
<circle cx="144.6" cy="284.2" r="1.0" fill="#dadada"/>
<circle cx="143.2" cy="284.2" r="1.0" fill="#dadada"/>
<circle cx="149.7" cy="284.9" r="1.0" fill="#dadada"/>
<circle cx="172" cy="280.9" r="1.0" fill="#dadada"/>
<circle cx="164.9" cy="279.3" r="1.0" fill="#dadada"/>
<circle cx="162.1" cy="280" r="1.0" fill="#dadada"/>
<circle cx="81.3" cy="305.4" r="8.2" fill="#d2d2d2" stroke="#bbb" stroke-width="0.8"/>
<circle cx="195.9" cy="305.4" r="8.2" fill="#d2d2d2" stroke="#bbb" stroke-width="0.8"/>
<circle cx="101.4" cy="305.4" r="8.2" fill="#d2d2d2" stroke="#bbb" stroke-width="0.8"/>
<circle cx="218.3" cy="305.4" r="7.9" fill="#a0a0a0" filter="url(#bl)"/>
<circle cx="213" cy="302.1" r="1.1" fill="#d8d8d8"/>
<circle cx="215.3" cy="304.4" r="1.1" fill="#d8d8d8"/>
<circle cx="214" cy="303" r="1.1" fill="#d8d8d8"/>
<circle cx="221.1" cy="310.2" r="1.1" fill="#d8d8d8"/>
<circle cx="219.3" cy="303" r="1.1" fill="#d8d8d8"/>
<circle cx="212.5" cy="303.7" r="1.1" fill="#d8d8d8"/>
<circle cx="215.3" cy="307.5" r="1.1" fill="#d8d8d8"/>
<circle cx="214.7" cy="309.1" r="1.1" fill="#d8d8d8"/>
<circle cx="216.3" cy="300.6" r="1.1" fill="#d8d8d8"/>
<circle cx="223.3" cy="309.3" r="1.1" fill="#d8d8d8"/>
<circle cx="220.3" cy="304.4" r="1.1" fill="#d8d8d8"/>
<circle cx="218.3" cy="308.3" r="1.1" fill="#d8d8d8"/>
<circle cx="222.2" cy="300" r="1.1" fill="#d8d8d8"/>
<circle cx="222.2" cy="306.5" r="1.1" fill="#d8d8d8"/>
<circle cx="220" cy="309.9" r="1.1" fill="#d8d8d8"/>
<circle cx="219.9" cy="304.5" r="1.1" fill="#d8d8d8"/>
<circle cx="220.6" cy="309.7" r="1.1" fill="#d8d8d8"/>
<circle cx="212.3" cy="304.5" r="1.1" fill="#d8d8d8"/>
<circle cx="215.9" cy="306.4" r="1.1" fill="#d8d8d8"/>
<circle cx="214.1" cy="310.9" r="1.1" fill="#d8d8d8"/>
<circle cx="218.3" cy="303" r="1.1" fill="#d8d8d8"/>
<circle cx="219.7" cy="301.8" r="1.1" fill="#d8d8d8"/>
<circle cx="218.5" cy="304.6" r="1.1" fill="#d8d8d8"/>
<circle cx="220.2" cy="303.4" r="1.1" fill="#d8d8d8"/>
<circle cx="212.8" cy="307" r="1.1" fill="#d8d8d8"/>
<circle cx="215.5" cy="305.3" r="1.1" fill="#d8d8d8"/>
<circle cx="220.7" cy="308.3" r="1.1" fill="#d8d8d8"/>
<circle cx="221.4" cy="306.5" r="1.1" fill="#d8d8d8"/>
<circle cx="221.6" cy="308.9" r="1.1" fill="#d8d8d8"/>
<circle cx="215" cy="309.6" r="1.1" fill="#d8d8d8"/>
<circle cx="218.1" cy="306.7" r="1.1" fill="#d8d8d8"/>
<circle cx="215.3" cy="310.7" r="1.1" fill="#d8d8d8"/>
<circle cx="218.1" cy="309.8" r="1.1" fill="#d8d8d8"/>
<circle cx="218.4" cy="300.9" r="1.1" fill="#d8d8d8"/>
<circle cx="124.5" cy="305.4" r="7.9" fill="#a0a0a0" filter="url(#bl)"/>
<circle cx="129.6" cy="301" r="1.1" fill="#d8d8d8"/>
<circle cx="122.3" cy="311" r="1.1" fill="#d8d8d8"/>
<circle cx="124.5" cy="308" r="1.1" fill="#d8d8d8"/>
<circle cx="119.5" cy="307.5" r="1.1" fill="#d8d8d8"/>
<circle cx="127" cy="304.3" r="1.1" fill="#d8d8d8"/>
<circle cx="123.4" cy="300.7" r="1.1" fill="#d8d8d8"/>
<circle cx="129.2" cy="310.5" r="1.1" fill="#d8d8d8"/>
<circle cx="123.7" cy="303" r="1.1" fill="#d8d8d8"/>
<circle cx="126.4" cy="304.1" r="1.1" fill="#d8d8d8"/>
<circle cx="127.9" cy="307.6" r="1.1" fill="#d8d8d8"/>
<circle cx="125.7" cy="304.9" r="1.1" fill="#d8d8d8"/>
<circle cx="129.3" cy="302.7" r="1.1" fill="#d8d8d8"/>
<circle cx="129.3" cy="307.6" r="1.1" fill="#d8d8d8"/>
<circle cx="119.4" cy="306.8" r="1.1" fill="#d8d8d8"/>
<circle cx="124" cy="299.7" r="1.1" fill="#d8d8d8"/>
<circle cx="127.3" cy="305.3" r="1.1" fill="#d8d8d8"/>
<circle cx="126.2" cy="301.3" r="1.1" fill="#d8d8d8"/>
<circle cx="125.9" cy="298.9" r="1.1" fill="#d8d8d8"/>
<circle cx="128.1" cy="305.2" r="1.1" fill="#d8d8d8"/>
<circle cx="118" cy="307.4" r="1.1" fill="#d8d8d8"/>
<circle cx="128.5" cy="304" r="1.1" fill="#d8d8d8"/>
<circle cx="128.6" cy="303.8" r="1.1" fill="#d8d8d8"/>
<circle cx="120.2" cy="309.7" r="1.1" fill="#d8d8d8"/>
<circle cx="119.9" cy="306.2" r="1.1" fill="#d8d8d8"/>
<circle cx="121" cy="308.4" r="1.1" fill="#d8d8d8"/>
<circle cx="125.6" cy="306.7" r="1.1" fill="#d8d8d8"/>
<circle cx="124.6" cy="300.1" r="1.1" fill="#d8d8d8"/>
<circle cx="121.5" cy="299.9" r="1.1" fill="#d8d8d8"/>
<circle cx="124.9" cy="308.8" r="1.1" fill="#d8d8d8"/>
<circle cx="123.8" cy="309.2" r="1.1" fill="#d8d8d8"/>
<circle cx="124.8" cy="301.1" r="1.1" fill="#d8d8d8"/>
<circle cx="122" cy="310.4" r="1.1" fill="#d8d8d8"/>
<circle cx="125.4" cy="307.5" r="1.1" fill="#d8d8d8"/>
<circle cx="122.5" cy="299.6" r="1.1" fill="#d8d8d8"/>
<circle cx="238" cy="310.4" r="1.85" fill="#dadada"/>
<circle cx="243.7" cy="306.3" r="1.85" fill="#dadada"/>
<circle cx="236.4" cy="303.8" r="1.85" fill="#dadada"/>
<circle cx="236.5" cy="309.6" r="1.85" fill="#dadada"/>
<circle cx="237.1" cy="303.9" r="1.85" fill="#dadada"/>
<circle cx="238.9" cy="303.2" r="1.85" fill="#dadada"/>
<circle cx="242.6" cy="304.8" r="1.85" fill="#dadada"/>
<circle cx="239.4" cy="308.6" r="1.85" fill="#dadada"/>
<circle cx="243.2" cy="305.2" r="1.85" fill="#dadada"/>
<circle cx="234.4" cy="301.4" r="1.85" fill="#dadada"/>
<circle cx="241.4" cy="304.8" r="1.85" fill="#dadada"/>
<circle cx="234.4" cy="304.7" r="1.85" fill="#dadada"/>
<circle cx="238.3" cy="301.6" r="1.85" fill="#dadada"/>
<circle cx="238.8" cy="306.7" r="1.85" fill="#dadada"/>
<circle cx="150.2" cy="306.5" r="1.85" fill="#dadada"/>
<circle cx="148.2" cy="306.9" r="1.85" fill="#dadada"/>
<circle cx="144.3" cy="307.3" r="1.85" fill="#dadada"/>
<circle cx="151.6" cy="306.6" r="1.85" fill="#dadada"/>
<circle cx="142.4" cy="306.7" r="1.85" fill="#dadada"/>
<circle cx="145" cy="303.9" r="1.85" fill="#dadada"/>
<circle cx="145.6" cy="311.8" r="1.85" fill="#dadada"/>
<circle cx="149.6" cy="302.2" r="1.85" fill="#dadada"/>
<circle cx="148.6" cy="307.5" r="1.85" fill="#dadada"/>
<circle cx="148.7" cy="306" r="1.85" fill="#dadada"/>
<circle cx="148" cy="305.8" r="1.85" fill="#dadada"/>
<circle cx="143.7" cy="303.6" r="1.85" fill="#dadada"/>
<circle cx="263.9" cy="310.5" r="1.85" fill="#dadada"/>
<circle cx="258.4" cy="308.8" r="1.85" fill="#dadada"/>
<circle cx="265.4" cy="308.4" r="1.85" fill="#dadada"/>
<circle cx="258.2" cy="301" r="1.85" fill="#dadada"/>
<circle cx="258.6" cy="303.7" r="1.85" fill="#dadada"/>
<circle cx="260.1" cy="310.4" r="1.85" fill="#dadada"/>
<circle cx="266" cy="303.6" r="1.85" fill="#dadada"/>
<circle cx="257.4" cy="301.7" r="1.85" fill="#dadada"/>
<circle cx="173.3" cy="306" r="1.85" fill="#dadada"/>
<circle cx="169.7" cy="306.5" r="1.85" fill="#dadada"/>
<circle cx="165.1" cy="299.9" r="1.85" fill="#dadada"/>
<circle cx="168.2" cy="301" r="1.85" fill="#dadada"/>
<circle cx="285.4" cy="306.2" r="1.85" fill="#dadada"/>
<text transform="translate(68.3 218.6) scale(1.08 1)" font-size="13.5" text-anchor="end" fill="#000" stroke="#000" stroke-width="0.4">Hsp82</text>
<text transform="translate(68.3 241.1) scale(1.08 1)" font-size="13.5" text-anchor="end" fill="#000" stroke="#000" stroke-width="0.4">K98A</text>
<text transform="translate(68.3 264.7) scale(1.08 1)" font-size="13.5" text-anchor="end" fill="#000" stroke="#000" stroke-width="0.4">F120A</text>
<text transform="translate(68.3 287.7) scale(1.08 1)" font-size="13.5" text-anchor="end" fill="#000" stroke="#000" stroke-width="0.4">F124A</text>
<text transform="translate(68.3 310.7) scale(1.08 1)" font-size="13.5" text-anchor="end" fill="#000" stroke="#000" stroke-width="0.4">A152V</text>
<text transform="translate(126.5 197.5) scale(1.03 1)" font-size="17" text-anchor="middle" fill="#000" stroke="#000" stroke-width="0.6">YPD</text>
<text transform="translate(238.7 197.5) scale(1.03 1)" font-size="17" text-anchor="middle" fill="#000" stroke="#000" stroke-width="0.6">CFW</text>
<text x="544" y="20.5" font-size="13" font-weight="bold" text-anchor="middle" fill="#000" >Growth rates: WT + mutant</text>
<line x1="425" x2="425" y1="65.5" y2="274.9" stroke="#000" stroke-width="1.6"/>
<line x1="424.2" x2="665" y1="274.9" y2="274.9" stroke="#000" stroke-width="1.6"/>
<line x1="419" x2="425" y1="274.9" y2="274.9" stroke="#000" stroke-width="1.4"/>
<line x1="421" x2="425" y1="249" y2="249" stroke="#000" stroke-width="1.4"/>
<line x1="421" x2="425" y1="223.1" y2="223.1" stroke="#000" stroke-width="1.4"/>
<line x1="419" x2="425" y1="197.2" y2="197.2" stroke="#000" stroke-width="1.4"/>
<line x1="421" x2="425" y1="171.3" y2="171.3" stroke="#000" stroke-width="1.4"/>
<line x1="421" x2="425" y1="145.4" y2="145.4" stroke="#000" stroke-width="1.4"/>
<line x1="419" x2="425" y1="119.5" y2="119.5" stroke="#000" stroke-width="1.4"/>
<line x1="421" x2="425" y1="93.6" y2="93.6" stroke="#000" stroke-width="1.4"/>
<line x1="421" x2="425" y1="67.7" y2="67.7" stroke="#000" stroke-width="1.4"/>
<text x="416.7" y="277.9" font-size="8.5" font-weight="bold" text-anchor="end" fill="#000" >0</text>
<text x="416.7" y="200.2" font-size="8.5" font-weight="bold" text-anchor="end" fill="#000" >0.2</text>
<text x="416.7" y="122.5" font-size="8.5" font-weight="bold" text-anchor="end" fill="#000" >0.4</text>
<text transform="translate(394.5 170.5) rotate(-90)" font-size="11" font-weight="bold" text-anchor="middle">Cell divisions/hr</text>
<rect x="434.5" y="104" width="18.5" height="170.9" fill="#7e7e7e" stroke="#000" stroke-width="1.6"/>
<rect x="463.4" y="91.5" width="18.5" height="183.4" fill="#7e7e7e" stroke="#000" stroke-width="1.6"/>
<rect x="492.4" y="105.9" width="18.5" height="169" fill="#959595" stroke="#000" stroke-width="1.6"/>
<rect x="521.3" y="120.3" width="18.5" height="154.6" fill="#959595" stroke="#000" stroke-width="1.6"/>
<rect x="550.2" y="151.7" width="18.5" height="123.2" fill="#959595" stroke="#000" stroke-width="1.6"/>
<rect x="579.1" y="105.9" width="18.5" height="169" fill="#959595" stroke="#000" stroke-width="1.6"/>
<rect x="608.1" y="183.6" width="18.5" height="91.3" fill="#959595" stroke="#000" stroke-width="1.6"/>
<rect x="637" y="115.2" width="18.5" height="159.7" fill="#7e7e7e" stroke="#000" stroke-width="1.6"/>
<polyline points="444,55.7 444,41.8 617,41.8 617,173.4" fill="none" stroke="#5e5e5e" stroke-width="0.9"/>
<polyline points="444,96.4 444,62 559,62 559,139.7" fill="none" stroke="#5e5e5e" stroke-width="0.9"/>
<text x="530.5" y="41.2" font-size="11" font-weight="bold" text-anchor="middle" fill="#000" >****</text>
<text x="501.7" y="62.3" font-size="11" font-weight="bold" text-anchor="middle" fill="#000" >***</text>
<line x1="472.8" x2="472.8" y1="77" y2="104.1" stroke="#000" stroke-width="1"/>
<line x1="469.3" x2="476.3" y1="77" y2="77" stroke="#000" stroke-width="1"/>
<line x1="501.6" x2="501.6" y1="98.5" y2="106" stroke="#000" stroke-width="1"/>
<line x1="498.1" x2="505.1" y1="98.5" y2="98.5" stroke="#000" stroke-width="1"/>
<line x1="530.4" x2="530.4" y1="109" y2="131" stroke="#000" stroke-width="1"/>
<line x1="526.9" x2="533.9" y1="109" y2="109" stroke="#000" stroke-width="1"/>
<line x1="559.3" x2="559.3" y1="146" y2="152" stroke="#000" stroke-width="1"/>
<line x1="555.8" x2="562.8" y1="146" y2="146" stroke="#000" stroke-width="1"/>
<line x1="588.2" x2="588.2" y1="98.8" y2="112" stroke="#000" stroke-width="1"/>
<line x1="584.7" x2="591.7" y1="98.8" y2="98.8" stroke="#000" stroke-width="1"/>
<line x1="617" x2="617" y1="181.8" y2="184" stroke="#000" stroke-width="1"/>
<line x1="613.5" x2="620.5" y1="181.8" y2="181.8" stroke="#000" stroke-width="1"/>
<line x1="646" x2="646" y1="94.3" y2="134" stroke="#000" stroke-width="1"/>
<line x1="642.5" x2="649.5" y1="94.3" y2="94.3" stroke="#000" stroke-width="1"/>
<line x1="642.5" x2="649.5" y1="134" y2="134" stroke="#000" stroke-width="1"/>
<circle cx="436.3" cy="103.8" r="2.5" fill="#fff" stroke="#000" stroke-width="1"/>
<circle cx="443.7" cy="103.8" r="2.5" fill="#fff" stroke="#000" stroke-width="1"/>
<circle cx="451" cy="103.8" r="2.5" fill="#fff" stroke="#000" stroke-width="1"/>
<circle cx="472.8" cy="77" r="2.5" fill="#fff" stroke="#000" stroke-width="1"/>
<circle cx="472.8" cy="92.4" r="2.5" fill="#fff" stroke="#000" stroke-width="1"/>
<circle cx="472.8" cy="104.1" r="2.5" fill="#fff" stroke="#000" stroke-width="1"/>
<circle cx="501.6" cy="100" r="2.5" fill="#fff" stroke="#000" stroke-width="1"/>
<circle cx="496.7" cy="107.8" r="2.5" fill="#fff" stroke="#000" stroke-width="1"/>
<circle cx="506" cy="107.8" r="2.5" fill="#fff" stroke="#000" stroke-width="1"/>
<circle cx="525.3" cy="111.7" r="2.5" fill="#fff" stroke="#000" stroke-width="1"/>
<circle cx="534.9" cy="115.6" r="2.5" fill="#fff" stroke="#000" stroke-width="1"/>
<circle cx="530" cy="131.5" r="2.5" fill="#fff" stroke="#000" stroke-width="1"/>
<circle cx="554.2" cy="146.7" r="2.5" fill="#fff" stroke="#000" stroke-width="1"/>
<circle cx="564.2" cy="150.8" r="2.5" fill="#fff" stroke="#000" stroke-width="1"/>
<circle cx="554.6" cy="155.2" r="2.5" fill="#fff" stroke="#000" stroke-width="1"/>
<circle cx="583.2" cy="100.3" r="2.5" fill="#fff" stroke="#000" stroke-width="1"/>
<circle cx="592.8" cy="104" r="2.5" fill="#fff" stroke="#000" stroke-width="1"/>
<circle cx="588" cy="112" r="2.5" fill="#fff" stroke="#000" stroke-width="1"/>
<circle cx="610" cy="185.8" r="2.5" fill="#fff" stroke="#000" stroke-width="1"/>
<circle cx="616.8" cy="182" r="2.5" fill="#fff" stroke="#000" stroke-width="1"/>
<circle cx="624" cy="181.8" r="2.5" fill="#fff" stroke="#000" stroke-width="1"/>
<circle cx="646" cy="92.3" r="2.5" fill="#fff" stroke="#000" stroke-width="1"/>
<circle cx="646" cy="119.7" r="2.5" fill="#fff" stroke="#000" stroke-width="1"/>
<circle cx="646" cy="131.4" r="2.5" fill="#fff" stroke="#000" stroke-width="1"/>
<text transform="translate(449.2 283.5) rotate(-45)" font-size="13.5" text-anchor="end" stroke="#000" stroke-width="0.5">ev</text>
<text transform="translate(478.2 283.5) rotate(-45)" font-size="13.5" text-anchor="end" stroke="#000" stroke-width="0.5">Hsp82</text>
<text transform="translate(507.1 283.5) rotate(-45)" font-size="13.5" text-anchor="end" stroke="#000" stroke-width="0.5">R32A</text>
<text transform="translate(536 283.5) rotate(-45)" font-size="13.5" text-anchor="end" stroke="#000" stroke-width="0.5">D40A</text>
<text transform="translate(565 283.5) rotate(-45)" font-size="13.5" text-anchor="end" stroke="#000" stroke-width="0.5">G118A</text>
<text transform="translate(593.9 283.5) rotate(-45)" font-size="13.5" text-anchor="end" stroke="#000" stroke-width="0.5">G121A</text>
<text transform="translate(622.8 283.5) rotate(-45)" font-size="13.5" text-anchor="end" stroke="#000" stroke-width="0.5">G123A</text>
<text transform="translate(651.8 283.5) rotate(-45)" font-size="13.5" text-anchor="end" stroke="#000" stroke-width="0.5">R380A</text>
<text x="353.5" y="296.8" font-size="15" stroke="#000" stroke-width="0.55">Hsp82<tspan font-size="7.2" dy="-5.5" stroke-width="0.3">WT</tspan><tspan dy="5.5" font-weight="bold" stroke-width="0.2"> +</tspan></text>
<defs><marker id="mt" markerUnits="userSpaceOnUse" markerWidth="6" markerHeight="6" viewBox="-3 -3 6 6" overflow="visible"><path d="M0,-1.8L1.6,1H-1.6Z" fill="none" stroke="#5a5a5a" stroke-opacity=".21" stroke-width=".65"/></marker><marker id="mc" markerUnits="userSpaceOnUse" markerWidth="6" markerHeight="6" viewBox="-3 -3 6 6" overflow="visible"><circle r="1.55" fill="#ff7a66" fill-opacity=".16" stroke="#e8604a" stroke-opacity=".16" stroke-width=".6"/></marker><marker id="ms" markerUnits="userSpaceOnUse" markerWidth="6" markerHeight="6" viewBox="-3 -3 6 6" overflow="visible"><rect x="-1.75" y="-1.75" width="3.5" height="3.5" fill="#7590ff" fill-opacity=".21"/></marker></defs>
<polyline points="164.8,404.8 181.5,408 84.8,422.4 166.7,409.5 105.6,396.7 93.6,403.2 119.2,412.5 53.7,414 110.9,401.7 78.9,400 146.5,406.5 118.8,404.2 167.1,419.1 170.8,411.8 94.3,386 89.6,427.8 176.4,402.9 119,399.1 65.3,411.7 58.6,417.7 183.1,399.7 128.9,401 59.8,409.6 120,421.8 119,403.1 110,411.4 178,405.1 177.6,396.7 69.1,400 72.6,396.7 106.3,407.8 162.5,389.6 134.8,387.9 148.8,387.7 128.5,385.9 80.3,406.8 160.4,401.5 54.4,400.9 144.7,415 78.2,403.3 114.7,407.6 181.1,403.1 123.6,420.1 60.1,418.3 109.1,402.4 139.6,390.8 60.1,397.9 85.9,405.4 55,411.7 123.8,410.2 102.9,398.4 119,404.2 91.6,397.3 139.2,381.4 75.4,406.3 172.1,415.5 179.1,408.5 117.6,417.4 113.9,414.8 165.9,385.3 90.8,401.5 158.4,416.2 90.5,396.9 147.5,386.4 96.6,407.2 132,408.1 174.6,402.9 59.8,405.6 159,392.7 124,388.4 102.6,389.6 98.8,390.3 61.7,393.5 86.7,397.3 134.7,417.2 65.5,409 140.8,396.9 179.4,403.3 181.9,389.2 169.8,403.3 158.9,409.7 76.1,390.2 180.5,391.9 79.3,403 167.1,389.4 168.3,387.9 134.6,396.9 121.3,428 79,412.8 121.1,406.3 90.9,414.6 69.2,404.8 69.5,394 158.2,404.9 174.2,411.6 71.3,384.6 54.3,414.7 87.3,417.7 70.3,404.2 77.5,401 129.5,408.5 108.3,393.7 109.2,407.5 79.7,415.3 140.2,398.4 90.8,395.6 105.2,409.4 113.7,398.3 171.8,400.3 85.1,374 147.3,407.7 93.4,388.7 170.5,399.9 104.5,404 119.2,393.7 168.2,389.7 141.3,386.6 65,404.1 70.6,413.2 183.2,404.9 56.4,403.9 92.3,397.5 179,384 54.6,405.3 73.9,394.7 80.7,388.8 64,406.1 114.8,417.9 130.7,413.6 94.6,419.1 66.9,390.1 159.5,408.8 158.6,386.3 126.7,394.7 70.8,388.1 124,390.3 135.6,401.7 109,404.4 166.4,398.5 104,400.7 119.9,407.2 67.6,407.6 126.9,383.6 153.6,418.3 149,397.2 86.5,414.3 183.3,397 147.5,391 108.4,402.9 107.3,394 155.3,417 75.8,393.9 136.9,407 147.3,393.3 120.6,399.4 167.7,427.4 114.4,410 113.9,399.5 90.1,387.2 173.8,396.2 94.3,400.8 144.2,415.5 106.5,386.9 175.9,379.7 177.5,398.9 56.6,411.7 183.7,416.6 132.3,391.2 62.3,378.9 118.1,393.8 59.1,395.1 124.9,395.3 77,416.4 101.1,388.4 92.8,417.1 132,403 161,396.6 176,389.7 95.9,398.9 127.7,396.8 53.4,418.3 101.6,416.8 179.2,398.5 68.3,414.8 167.2,413.6 138.6,414.1 91.3,409.2 155.2,419.9 90.7,418.6 170.5,417.1 63.5,406 68.3,402.7 151.4,378.2 111.8,418.2 72,413.8 120.3,391.5 91.7,406.2 125,404.7 150.6,381.4 165.5,403.1 60.4,421.1 130.7,415.1 182.2,395.5 113.2,398.6 154,414.7 65.4,418.3 167.7,393.6 129.3,394.6 169.7,406.3 156.3,393 167.2,393.2 60.2,427.9 146.9,403.5 78.6,401 87.6,410.5 95.4,426.6 130.5,403.9 135.3,392.4 175.4,382.1 54.3,433.6 78.1,377.3 100.3,415.2 160.4,389.3 125.1,387.8 120.1,390.8 152.8,398.3 138.9,413 90.8,397.2 64.1,415.6 113.5,429.2 131.4,393.1 59.6,389 110.6,412 103.3,386.8 129.4,383.7 130,384 178,399.4 97.2,416.3 106.4,404.4 133.5,424.5 169.4,417.8 145.7,399.1 114.7,412.5 160,401.4 116.6,402.9 179.6,378.2 89.8,390 69.4,407.4 162,386.5 91.8,412.3 164.3,403.2 132.9,390.8 119.7,414.9 64.1,410.9 156.2,414.1 61.3,407.1 179.8,381.5 168.2,407.6 92.5,401.3 69.5,416.6 169.3,411.8 115.8,415.1 69.1,391.2 118.3,376 85.1,399.4 106.3,410.2 137,392.9 173.2,402.9 158.2,391" fill="none" stroke="none" marker-start="url(#mt)" marker-mid="url(#mt)" marker-end="url(#mt)"/>
<polyline points="73.6,413.4 57.8,411.6 177,411.8 97.1,399.5 77.6,423.2 66,392.3 138.5,408 113.4,411.1 54.1,400.9 146.9,393.6 86.4,400.6 155.5,393.3 117,402.3 123.2,391.9 112.9,391.8 141.7,404.4 183.1,389.4 157.8,401.7 61.7,403.2 117.8,412.3 83.5,406.6 66.1,396.7 78.3,416.4 85.3,397.7 179.1,399.8 150.8,400.7 165,424.1 144.7,404.4 94.2,397.7 104.1,411 110.7,402.8 91.3,426.4 108.1,397.3 154.2,409.6 62.6,395.8 89,421.3 115.7,397.1 141.7,405.7 137.7,395.8 148.1,412.1 66.5,409.9 76.4,382.7 93.3,411.7 89.7,410.5 152.2,405.9 183.5,412.8 142.6,392.1 57,387.8 91.8,410.5 158.4,419.6 174.4,392 131,393 98.6,396 99.4,392.8 136.1,411.7 166.5,404.8 97.5,416.9 77.7,417.4 53,394.8 70.7,410.4 164.8,381.6 134.9,402.8 183.2,409.1 61.8,396.5 100.8,386.7 157.5,398.7 139.7,415 61.4,400.6 105.5,390.7 136.6,408.1 143.2,410.7 112.1,394 77.4,402.6 179.9,413.5 114.1,407.2 147.1,410.5 123.1,400.8 63.2,403 83.8,393 60.9,397.3 77.7,418.8 79,400.1 107.3,395.2 95,399.5 100.4,394 160.3,408.5 55.4,413.1 66.2,395.2 159.1,413.4 123,424 110.4,394 87.8,410.7 124.1,406.5 81.8,417.2 165.7,415.8 161.2,414.2 95,407.2 55.8,400.6 169.6,425 92,396.7 139.2,414.6 165.7,413.3 157.8,396.9 166.3,403.9 117.1,418.2 163.6,385.7 113.4,411.8 87.4,401.5 116,401.7 96.8,390.4 153.7,407.6 162.2,393.7 71.2,411 74.3,393.3 103.2,411 113.7,407.1 178.6,385.1 176.7,400.1 180,402.1 148.8,382.1 141.9,400 88.2,411.6 101.7,396.8 53,415.3 162.4,392.5 89,392.4 63,409.5 94.2,409.8 95.2,402.1 148,403.2 53.4,413.4 82.9,398.5 170.7,422.5 165.3,407.3 135.5,407.3 126.3,406.1 81.9,401 167.9,414.8 152.9,397.7 120.2,405.3 73.8,410.1 81,416.9 102.6,414.9 96.2,400.4 60.6,413.2 106.2,403.1 111.7,393.6 90.4,394 103.2,388.9 96.4,406.6 102.3,414 134.2,393.8 118.1,400.7 78.6,393.3 157.4,403.2 120.2,392.3 113,395.6 146.6,396.6 151.7,398.6 164.5,399.5 159.5,401.1 140.8,401.3 147.6,394 73.3,408.8 144.8,386.9 86.1,404.9 86.6,394.5 68.4,404.9 104.9,406.1 55.2,384.9 139.2,406.4 151.2,415.4 154.8,410.1 69.6,407 137.1,383 163.1,401.3 57.3,395.2 78.1,413.4 87.9,400.5 113.5,397.3 75.3,386.9 123.6,410.2 97.9,398.1 138.9,400.6 122.6,413.3 143,403.6 85.1,406.4 145.8,425.4 149.4,397.7 147.7,398.2 61.6,408.2 177.3,415.8 128.6,389.5 88.5,401.3 109.8,394 120.8,390.2 120.8,408.5 85.3,396.2 87.5,406.1 100.5,404.3 155.5,404.1 110.3,403.7 57.7,393.5 112.2,402.5 79.1,405.4 54.2,406.8 181.4,399.9 91.3,412.3 123.4,408.3 99.8,404.3 59.6,409.4 171.3,404.3 175.9,408.9 77.2,384.9 107.7,391.1 101.8,399.5 74.6,404.5 139.8,382.7 155.7,400.2 152.7,404.1 141.6,400.5 54.9,401.2 82.9,390.5 120.4,403.8 145.2,383.5 103.5,412.1 111.8,397.1 163.4,412.7 55.7,386.9 88,407 90.8,404.4 183.4,394.3 82.6,392 58.8,414.6 107.5,407 138.2,416.7 72.8,402.7 163.3,404.2 78.5,407.2 145.4,409.9 73.9,407.6 168.8,410.3 79.1,398.9 149,389 163.1,421.5 86.2,405 64.8,408 129.8,398.8 118.4,412.6 115.8,405 155.6,413.2 113.6,397 118.1,402.7 116.8,405.1 112.5,400.1 106.1,406 73.8,418.7 91.5,398.2 87.5,401.1 85.3,405.3 155.8,394 67.6,392.5 79.7,414.3 122,411 93.8,389.1 84.3,390.4 101.8,410.7 118.8,414.8 141.5,409.5 180.7,407.8" fill="none" stroke="none" marker-start="url(#mc)" marker-mid="url(#mc)" marker-end="url(#mc)"/>
<polyline points="144,400.9 135.2,417.8 96.9,406.8 64.8,425.5 79.1,407.4 155.8,411.2 136.2,416.9 157.7,419.6 58.5,387 171.3,426.2 103,416.4 174.7,422.6 131,396.9 124.7,387 160.4,409.3 135,416.9 141.5,414.7 73.4,395.1 132.3,418.5 99.6,390.7 62.6,391.7 70.2,405.3 115.8,400.7 87.2,398.1 153.5,396 68.7,416.7 54.4,394.3 184,419.3 93.8,413.3 119.8,406.7 80.3,408 80.1,415.8 105.6,422.3 156.7,421.8 57.7,391.5 162.9,393 183.1,408.8 126.3,396.5 100,410.7 83.4,406.5 76.7,403 95.2,416.5 164.8,423.2 53,405.3 156.2,415.4 140.6,421.1 55.1,402.3 61.8,408.8 149.5,401 141.3,410.4 93.9,408.6 166.1,412 80.3,407.5 108.9,413.2 67.8,410.1 137.7,402.3 64.1,399.5 76.3,392.8 153.6,429 118.5,411.6 139.8,414.4 149.3,409.6 132.5,413.9 78.7,411 144.7,402.8 67.9,404.2 88.2,417.5 111.7,393.2 67.7,395.9 66.6,411.9 138.6,401.6 150.4,418.9 101.5,394.1 104,408.1 80,414 121.3,411.7 129.1,416.7 175.6,412.5 57.9,404.4 172.4,413.7 183.2,421 98.2,442.6 148.3,410.2 161.3,432 138.4,407.5 90.7,394.1 134.7,406.8 168.2,417.5 66.7,407.9 115.9,408.6 55.6,411.8 164,419 155.2,421.4 58.7,394.1 150.9,411.7 143.7,400.9 69.2,408.5 121.8,407.3 143.5,412.3 96.8,400.8 119,399.3 181.2,412.7 136.4,416.6 118.8,415.6 61.3,389.3 68.6,408.9 164.7,416.1 150.5,396.6 162.7,401.9 128.8,403.4 128.5,412.9 122.5,384.2 149.5,407.3 96.1,400 118.1,409.3 114.5,421.5 139.8,423.7 81.1,401.7 55.9,402.3 64.3,408.5 76.2,417.8 165.6,427.9 147.1,414.4 151.4,426.4 111.1,397.6 66.1,394.4 113.9,378.3 166.3,404.4 119.7,413.8 135.9,418.6 101.9,440.7 72.4,412 135.2,411.4 116.5,397.5 98.2,399.3 86.7,399.7 144.3,408.5 94.5,398.8 128.5,394.1 86.8,416.5 151.9,416.3 102,419.7 115.7,390.8 174.8,401.2 147.3,403.4 149.6,423.5 97.3,403.7 163.3,415.4 103.4,405 182.8,417.3 170.7,408.6 139.5,414.1 162.2,404.2 124.3,405.9 149.2,414.3 69,407.1 182.9,419.8 158.1,404.1 71.4,408.7 84.6,402.7 128.4,412.8 153.1,426.9 72.2,396.7 179.2,425.7 98.2,398.6 183.7,411.2 151.8,428.4 116.6,417 100.4,410.6 65.3,414.4 64.2,418.1 135.6,402.1 154.5,414.4 172.2,410.1 100.7,409.8 176.2,411.4 91.7,413.2 176.5,414.8 173.7,408.3 73,405.5 166,418 145.3,421.9 145.2,409.1 163.4,409.5 123.3,410.8 119.4,415.5 101,400 166.6,388.2 171.4,417 73.8,402.5 154.4,408.1 88.9,431.7 76.8,404.6 78.6,413 128.2,394.7 89.5,408.2 84.5,413.6 65.6,408.3 95.4,403.8 154.6,417.6 55.4,406.8 116.2,421.1 132,411.5 59.1,398.3 91.3,385.6 172.1,406.9 183.6,412.7 164.7,401.1 75,395.5 153.3,394.9 112,395.8 75.1,407.1 116,404.7 174.2,412.5 168.2,410.5 104.2,403.9 60.9,414.1 171.3,435.3 182.6,422.1 120,428.4 82.3,405.1 124.3,408.3 144.4,427.7 116.2,400.3 99.1,396.6 85.3,404.7 91.7,388.7 59.2,387.2 86.2,417.9 178.2,404.3 53.7,401.8 148.5,407 156.6,402.7 105.9,413.4 131,415.1 81.7,414.2 140.6,417.9 145.9,411.9 149.4,426.1 117.4,418.1 180.5,409.2 166.8,414.1 128,404.9 142.5,429.7 88.8,413.6 177,420.3 137.6,409.6 170.5,419.8 90.6,396.1 182.1,415.8 66.5,405.9 122.5,408 67.2,398.9 77.6,410.6 153.3,400.4 61.3,401.5 103,404.2 77.9,405.4 164.7,407.9 63.5,395.8 97,395.9 165.4,409.4 143.1,401.7 145.3,409.6 183.2,402.7 55.7,406.5 140.2,431.3 150.8,397.9 151.2,410.4 146.7,422.9" fill="none" stroke="none" marker-start="url(#ms)" marker-mid="url(#ms)" marker-end="url(#ms)"/>
<polyline points="52.6,406.3 100.9,405.4 184.4,415.5" fill="none" stroke="#2b2bff" stroke-width="1.9" stroke-linejoin="round"/>
<polyline points="52.6,410.2 64.3,407.8 76.8,405.7 90.5,404 105.4,402.5 121.7,401.3 140,400.4 160.7,399.6 184.4,399.1" fill="none" stroke="#000" stroke-width="1.9" stroke-linejoin="round"/>
<polyline points="52.6,404.1 184.4,403.1" fill="none" stroke="#ff2a12" stroke-width="1.9" stroke-linejoin="round"/>
<path d="M52.6,368.7V543.2H184.4" fill="none" stroke="#000" stroke-width="1.3"/>
<path d="M47.6,543.2H52.6M47.6,475.5H52.6M47.6,407.8H52.6M49.6,509.4H52.6M49.6,441.7H52.6M49.6,374H52.6M52.6,543.2v4M74.6,543.2v3M96.5,543.2v4M118.5,543.2v3M140.5,543.2v4M162.4,543.2v3M184.4,543.2v4" stroke="#000" stroke-width="1.2" fill="none"/>
<text x="47.1" y="545.6" font-size="7" text-anchor="end" fill="#000" stroke="#000" stroke-width="0.3">0.0</text>
<text x="47.1" y="477.9" font-size="7" text-anchor="end" fill="#000" stroke="#000" stroke-width="0.3">0.5</text>
<text x="47.1" y="410.2" font-size="7" text-anchor="end" fill="#000" stroke="#000" stroke-width="0.3">1.0</text>
<text x="52.6" y="554.7" font-size="6.6" font-weight="bold" text-anchor="middle" fill="#000" >0</text>
<text x="96.5" y="554.7" font-size="6.6" font-weight="bold" text-anchor="middle" fill="#000" >10</text>
<text x="140.5" y="554.7" font-size="6.6" font-weight="bold" text-anchor="middle" fill="#000" >20</text>
<text x="184.4" y="554.7" font-size="6.6" font-weight="bold" text-anchor="middle" fill="#000" >30</text>
<text x="118.5" y="363" font-size="10.6" font-weight="bold" text-anchor="middle" fill="#000" >R32A N-M dock</text>
<text x="118.5" y="567.1" font-size="10.5" font-weight="bold" text-anchor="middle" fill="#000" >min</text>
<text transform="translate(30.6 456) rotate(-90)" font-size="10.2" text-anchor="middle" stroke="#000" stroke-width="0.3">Relative fluorescence</text>
<text x="187.8" y="400.3" font-size="9" text-anchor="start" fill="#000" stroke="#000" stroke-width="0.2">ATP</text>
<text x="187.8" y="410.5" font-size="9" text-anchor="start" fill="#ff2a12" stroke="#ff2a12" stroke-width="0.2">AMPPNP</text>
<text x="187.8" y="420" font-size="9" text-anchor="start" fill="#2b2bff" stroke="#2b2bff" stroke-width="0.2">ATP&#947;S</text>
<polyline points="304.9,405.2 412.3,385.3 316.4,413 368.3,393 321.1,390.7 393.9,389.4 312.7,414.6 341.7,383.8 315.2,404.4 399.7,408.4 367.9,408.1 369.4,399.1 327.7,405.1 309.5,407.6 399.3,391.7 387.1,413.5 383.1,416.9 417.7,397.1 360,398 309.8,393.8 366.6,417.3 324.1,393.9 353.9,400.4 346.8,386.6 360.5,419.2 407.7,403.3 393.1,408.7 341,422.9 394,413.4 399.7,393.4 388.3,410.7 358.9,413.5 404.8,396.2 351.1,394.9 300.2,395 322.1,414.2 372.9,406.3 336.2,394.5 342,412.8 339.3,413.8 311.5,396.7 298.5,388.7 292.7,418.1 374.9,433.8 329,421.4 346.5,416.6 409.6,407.1 368.9,399 393.1,407.2 386.8,413.2 412,404 295,416.1 336.9,406.2 411.5,412.6 347.5,376.6 411.2,396.8 310.6,414.7 294.1,416.4 404.3,410.4 340.4,423.5 353.2,413.6 409.7,413.6 315.1,396.1 413.9,410.3 338.5,414.2 318.8,420.2 317,418.4 354.6,406.4 347.8,408 403.1,393.4 292.9,412.5 292,394.2 306.4,402.9 366.1,405.7 389.3,427.4 349.5,419.6 367.2,397.6 371,390.5 288.7,403.4 318.7,397.4 417.8,410.1 329.8,409.7 411.1,412.8 351.1,395.1 315.6,401.9 286.5,408.2 314.9,409.2 328.6,399.6 344.1,402.1 345.2,414.7 358.5,387.1 348.7,402.9 290.5,405.5 321.4,389.6 413.1,394.6 289.8,406.6 383,399.8 349,417.2 379.5,412.6 330.1,430.1 335,392.4 354.4,426.2 406.2,398.3 329.5,414.6 297.5,416.3 291.2,407.8 402.5,402.8 327.6,399 302,386.5 364.9,401.8 397.7,396.1 365.3,412.1 306.2,397.9 339.7,404 321.4,410.7 288.4,406.7 413.6,406.3 346.8,403.6 304,401.3 402.9,411.2 416.1,413.7 393.8,397.6 319.7,424 311.3,412.3 355.5,388.8 363.2,435 402.1,413.2 413.8,398.2 406.3,423.5 331.3,377.5 363.4,433.7 302.5,390.1 354.6,388.8 295.5,395.7 300.9,408 302.3,401.8 326,415.4 327,396.9 379.2,417.8 296.2,408.6 300.9,394.9 372.8,417.7 374.9,409.6 379.9,403.9 381.2,420.2 373.6,393 359.1,402 384,422.1 297,406.2 314.1,414 384,412.8 311.6,404.8 356.2,413.3 320.5,395.2 343.1,413.3 396.2,395 373.3,406.1 344.9,396.4 322.3,411.5 392.4,411.1 372.9,418.1 344.2,399.4 400.9,395.5 377.5,382.7 415.5,391.7 373.8,402.9 404.9,407.9 358.8,401.4 379.9,405.9 397.3,389.8 298.1,395.4 348.8,414.7 366.1,413.1 293.8,390.8 390.3,402.3 380.6,408.2 409.7,392.8 335.3,409.8 348.1,408.7 406.5,410.6 340.5,426.9 396.3,396.3 341.8,418.7 330.8,411.8 322.8,413.7 314.4,397.8 343.1,406.4 307.5,405.5 395.4,423.8 414.7,406.6 299.1,421.6 293.4,402.3 286.7,401.7 409.1,405.8 295.9,383.5 375.9,399.9 326.3,399.2 312.3,404.1 318.7,407.7 377.2,395.2 288.6,393.7 400.3,419.7 361.1,394.2 317.3,400.1 313.7,395.2 372.6,400.6 369.2,419.1 328.2,418.4 330.3,385.9 347.3,402.9 406.3,421 357.2,401.9 397,409.6 370.7,425.6 360.3,430.5 350.8,423 376,402.7 351,406.2 382,408.3 310.2,402.6 328.7,399.1 401.4,428.4 338.3,408.9 397.4,414.6 409.9,419 362.5,411.6 299.6,407 386,408.5 374,421.4 324.6,410.9 400,383.8 349.9,417.1 293.7,423.9 295.2,402.7 316.3,399.2 366.6,400.6 393.7,417.8 299.3,394.8 289.1,414.2 368.3,417.9 340.2,412.2 344.5,406.8 394.5,397.9 407.4,398.9 413.8,405.9 389,395.5 286.6,404.8 306.1,395.9 363.7,420.9 412.2,422.7 296.9,397.2 354.1,420.7 338.5,408.9 339.9,406.7 321.6,410.9 321.9,410.6 317.6,390.6 299.8,433 359.3,396.1 345,380.8 380.2,405.4 370.6,405.9 411.9,397.8 331,385.8 402.6,418.5 337,404.7 373.4,407.7 392.4,399.6 338.5,403.9 345.1,398.5" fill="none" stroke="none" marker-start="url(#mt)" marker-mid="url(#mt)" marker-end="url(#mt)"/>
<polyline points="409.3,408.9 287,414.1 293.3,413.3 299.2,419.1 403.8,402.1 336.8,387.3 377.4,408.2 379.3,407.7 343.4,403.5 382.8,405.5 347,405.1 357.7,395.1 326.7,387.3 286.5,434.8 364.5,399.9 321.2,404.4 322.5,405.3 402.1,400.2 333.9,405.8 299.7,401.8 369.4,403.8 357.2,401.4 293.8,413.9 332.2,401.8 366.8,401.2 323.1,395 416.3,398.3 391.6,397 352.7,401 407,407.8 290.8,423.3 315.8,416 406.9,396.5 353.3,407.2 308.7,418.1 361.4,397.6 382.5,393.9 365.8,416.3 292.3,398.7 291,415 339.9,402.8 288.3,406.7 297.3,411.6 371,405.1 344,380.5 297.5,422.4 401.8,399.3 334.8,394.4 402.7,408.5 366.6,400.5 368.1,395.8 342.1,378.8 374.8,407.6 318.3,405.9 320.2,398.8 401.6,397.6 313.1,418.2 337.1,398.3 384.4,397.8 329.7,399 334.5,391.8 406.1,388.7 313.4,402.8 318,402.6 403.2,408.8 322.5,405.8 329.8,401.1 402.5,402.2 328.6,402.5 417.7,406 394.5,384 397.9,378.1 316,409.7 314.8,402.5 385.5,401 395.3,386.6 315.8,401.9 313.4,406 318.3,407.6 304.4,408.3 341.8,411 352.5,394.1 369.1,406.2 293.5,409 311.6,406 301.6,400.1 321.8,404.9 310.7,397.8 409.7,407 335.4,396.6 304.5,411.6 374.1,397.4 414.5,397.5 391,389.8 371.7,418.5 336.1,399.2 339.4,416 326.1,392.4 392.5,417.3 392.2,408.1 350.8,416.5 399.9,382.9 372.2,411.5 376.6,398 321.7,409.8 318.1,422.6 316.2,409.2 406.6,392 391.8,400.4 404.8,389.4 394.7,402 392.4,398.5 343.7,405 387.2,395.5 308.2,390.2 372.7,395.8 291.8,413.1 413.6,404.1 402.2,405.6 308,394.4 387.6,409.3 394.8,407.2 291.7,415.9 360.9,403.9 341.6,383 367.8,421.9 403.1,395 381.6,392.2 314.1,417.1 359.4,406.1 360.3,395.8 287.7,401.8 303.6,418.5 333.6,417.6 309.7,398.5 317.5,391.2 375.4,402.3 413,419.2 346.6,387.3 371.4,401.2 386.6,388.1 375,399.6 372.9,402.8 286.4,422.3 401,384.5 307.5,394.9 310,427.9 353.4,409.3 363.6,382.9 385.9,402.3 324.8,417 410.9,398.2 369.1,400.5 397.6,399.4 349.1,405.4 295.6,416 287.8,421.5 370.7,396.2 342.4,409.2 344.3,404 329.2,404.7 309.7,395.4 348.7,397.3 319.8,406.2 404,393.3 309.8,403.9 413.8,387.9 399.7,393.6 336.8,385.2 388.1,386 362.8,400.2 347.7,404.9 393.3,390.2 395.8,393.6 312.8,407.8 405.7,412.3 290.4,433 286.9,414.4 350,393.4 325.9,396.3 342,413.7 349.4,391 348,406 406,394.7 407.3,394.4 331.9,410.5 324.1,409.8 372.5,418.9 312.4,415.7 339,419 380.9,394.8 287,417.1 388,390.1 383,395.5 337.3,408.1 318.9,402.1 357.4,403.8 325.2,398.2 394.5,395.6 364.1,409.1 326.7,403.7 392.7,398.1 366.3,402.5 303.6,401.3 340.8,385.4 350.8,404.1 410.8,401.6 328.5,424.7 345.4,402.4 415,402.3 342.4,422 395.3,395.8 299,406 338.1,409 310.4,411.1 402.8,407.5 359.1,392.8 315,420.7 298.4,414.8 341.7,383.1 298.9,411.1 350.2,396.3 382.3,400.3 327.1,414.8 308.3,408.5 333.9,398.7 308.1,417.9 397.5,395.3 298.9,399.8 383.9,388.7 330.2,418.1 382.3,408.1 387.9,414 304,399.5 386,393 410.9,391.6 361,408.2 371.3,410.4 328.8,402.7 309.2,406.9 384.4,406.9 394.4,397.2 313.4,400.6 301.2,408.5 332.7,412.6 368.8,419.5 334.4,405 413.4,396.7 390.6,401.1 407.1,402.4 365.3,406.2 385.9,392 411.6,398.7 290.9,414.2 362,409 310.9,413.3 391.1,397.1 316.9,415.3 384,410.8 330.1,406.3 372.1,387.9 375.8,397.3 406.1,384.5 401.3,399.7 344,404.3 377.1,412.3 310.3,413 299.1,397.9 380.4,395.9 405.8,391.4" fill="none" stroke="none" marker-start="url(#mc)" marker-mid="url(#mc)" marker-end="url(#mc)"/>
<polyline points="341.5,405.2 303.4,423.1 329.8,405.9 303.8,393.5 320.1,384.3 362.5,393.5 325.6,398.7 374.2,405.1 405.1,411.7 362.2,407.3 290,399.4 412.8,413.6 312.3,396.2 331.9,415.6 355.7,423.7 367.8,415.9 331.3,422.6 344.3,419.6 368.9,394.2 346.5,407.7 323.6,403.4 340.4,393.9 337,392.9 324.7,410.8 365.4,392.2 353.8,401.7 340.5,405.6 379.8,401.2 393.4,420.1 371.8,413.6 331.2,406.7 409.8,399.5 299.9,409.4 392.5,406.9 341.8,395.8 338.5,391.3 397.4,397.9 372.6,392.8 414.7,409.8 402,408.8 301.5,402.4 352.6,408.7 387.5,410.8 297.1,388.9 357.8,407.7 417.2,415.5 317.7,400.7 301.6,387 324.4,404.8 331.6,393.1 323.9,410.1 343.2,410.6 396.1,412.7 354.4,407.1 363.9,387 300.6,417.4 294.7,389 411.6,415.9 332,408 411.2,397.2 330.5,399.2 370.6,402.8 373.5,422.4 298.1,402 295.6,416 344.5,379.6 303,407.8 325.2,403.7 312,417.3 327.5,410.5 346.3,418.8 327.3,395.7 330.4,408.3 350.3,399.9 376.3,412.6 291.7,410.7 417.8,392.6 343,415.5 408,423.9 287.2,401.5 293.8,417.2 299.3,410.1 406.6,396.4 340.5,414 397.8,396.7 377.8,412.6 297.8,390.5 333.9,392.2 329.9,410.4 346,407.8 385.6,414.1 297.2,403.6 408.4,394 349.1,420.3 334.5,396.3 378.2,419.1 322.7,414.4 380.2,423.8 341.1,384.3 349.3,405.1 311.1,403.2 313,412.5 399.8,394.8 362.2,427 341.9,405.4 388.4,383.2 406.5,409.5 307.2,405.5 417.8,398.8 288.1,413.9 367.2,405.4 321,395.9 319.5,403.7 351.4,401.9 365.9,409.2 343.8,402.4 380.4,405.1 411.6,390.9 308.5,398.3 317.5,408.1 366.6,430.5 340.3,398.4 327.8,398 352.7,415 378.1,425.9 406.1,417.2 410.3,396.2 394.3,416.5 331.9,410.3 402.8,403.4 379.8,393.2 309.2,405.8 411.9,406.7 318.8,411.2 376.2,389.1 377.8,394.8 406,406.6 374.1,419.8 415.9,413.7 294.1,399.8 291.1,413 312,396.6 362.1,402 342.1,402.7 297.1,399 312.8,400.6 362.6,414.3 339.3,409 386.9,381.9 347.8,417.9 402,410.5 386.3,394.8 351.4,407.3 333.4,413.9 314.4,419.1 324.7,400.2 333,395.3 333.9,391.4 309.8,405.1 348.6,395 301,416.1 400.8,403.9 358.8,412.5 298.7,403.9 329.4,398 319.9,394.8 306.8,415.7 349.6,392.8 310.4,410.5 306.2,416.1 378.8,407.4 342.9,420.5 374.9,405.6 348.2,402.7 352.7,407.7 327.2,400.2 342.4,408.8 349.6,405.6 331.4,420.3 395.2,405.2 318.7,414.3 315.3,410.2 331.6,406.6 389.8,403.7 398,422.4 360.7,421.5 333.8,408.7 371.8,400.8 395.2,402 318.2,396.6 374.3,392.4 379.8,400.6 337.7,405.9 305.3,416.1 366.3,415.3 313.9,410.4 334.7,402.9 358,403.4 413.2,405.6 305.5,407.2 295.9,399.2 357.3,403.5 410.6,402.6 292.3,402.5 370.9,411.2 289.8,416.1 358.9,400.7 301.9,401.4 373.1,407.9 333.8,409.9 372.5,382.5 320.3,413.4 296.1,407.9 310.2,403 322.3,417.4 307.9,404.5 312.4,387.4 358,396.2 343.9,399.2 395.1,399.6 351.8,404.5 357.4,395.9 379.9,407.2 398.8,409.9 363.3,404.6 291.1,396.5 346.8,402.3 290.5,398.8 366,426.2 294.8,393.5 357.4,381.9 306,392.1 399.1,408.9 298.6,414.3 373.2,402.8 379,415.7 322.5,398.3 364.4,411 329.7,395.9 320.4,391.8 320.5,426.3 288.3,402.7 375,412.7 295.7,420 312.2,411.9 297.7,407.9 392.3,395.2 356,421.1 347.8,395 363.1,385.2 392.8,399.6 368.5,400.1 353.9,405.8 327.5,417.6 354.4,400.2 416.4,401.7 361.4,398.2 349.1,379.6 403.4,398.3 293.4,401.3 294.5,389.8 390.3,419.3 410.5,417.3 292.9,409.5 289.4,412.3 287.5,398.6 362.3,408.9 304.4,388 360.2,390.2 373.8,397.8" fill="none" stroke="none" marker-start="url(#ms)" marker-mid="url(#ms)" marker-end="url(#ms)"/>
<polyline points="286.2,405.6 418.1,405.6" fill="none" stroke="#000" stroke-width="1.9" stroke-linejoin="round"/>
<polyline points="286.2,405.6 418.1,405.6" fill="none" stroke="#2b2bff" stroke-width="1.9" stroke-linejoin="round"/>
<polyline points="286.2,418.1 290.9,415.4 295.9,412.9 301.1,410.7 306.7,408.7 312.5,406.9 318.7,405.4 325.4,404 332.5,402.8 348.1,400.9 366.6,399.6 389.1,398.7 418.1,398.2" fill="none" stroke="#ff2a12" stroke-width="1.9" stroke-linejoin="round"/>
<path d="M286.2,372V546.6H418.1" fill="none" stroke="#000" stroke-width="1.3"/>
<path d="M281.2,546.6H286.2M281.2,478.9H286.2M281.2,411.2H286.2M283.2,512.8H286.2M283.2,445.1H286.2M283.2,377.4H286.2M286.2,546.6v4M308.2,546.6v3M330.2,546.6v4M352.2,546.6v3M374.1,546.6v4M396.1,546.6v3M418.1,546.6v4" stroke="#000" stroke-width="1.2" fill="none"/>
<text x="280.7" y="549" font-size="7" text-anchor="end" fill="#000" stroke="#000" stroke-width="0.3">0.0</text>
<text x="280.7" y="481.3" font-size="7" text-anchor="end" fill="#000" stroke="#000" stroke-width="0.3">0.5</text>
<text x="280.7" y="413.6" font-size="7" text-anchor="end" fill="#000" stroke="#000" stroke-width="0.3">1.0</text>
<text x="286.2" y="558.1" font-size="6.6" font-weight="bold" text-anchor="middle" fill="#000" >0</text>
<text x="330.2" y="558.1" font-size="6.6" font-weight="bold" text-anchor="middle" fill="#000" >10</text>
<text x="374.1" y="558.1" font-size="6.6" font-weight="bold" text-anchor="middle" fill="#000" >20</text>
<text x="418.1" y="558.1" font-size="6.6" font-weight="bold" text-anchor="middle" fill="#000" >30</text>
<text x="352.2" y="366.4" font-size="10.6" font-weight="bold" text-anchor="middle" fill="#000" >D40A N-M dock</text>
<text x="352.2" y="570.5" font-size="10.5" font-weight="bold" text-anchor="middle" fill="#000" >min</text>
<text transform="translate(264.2 459.3) rotate(-90)" font-size="10.2" text-anchor="middle" stroke="#000" stroke-width="0.3">Relative fluorescence</text>
<text x="421.5" y="395.8" font-size="9" text-anchor="start" fill="#ff2a12" stroke="#ff2a12" stroke-width="0.2">AMPPNP</text>
<text x="421.5" y="406.3" font-size="9" text-anchor="start" fill="#000" stroke="#000" stroke-width="0.2">ATP</text>
<text x="421.5" y="416" font-size="9" text-anchor="start" fill="#2b2bff" stroke="#2b2bff" stroke-width="0.2">ATP&#947;S</text>
<polyline points="567.5,474.2 623.3,460.4 539,426.1 576.8,473.4 585.3,482.3 617.4,475.5 517.3,404.2 560.9,455.4 575.7,450.3 590.6,454 531.9,388.2 584.7,456.6 604.3,469.5 609.5,450.2 542.8,408.5 571.2,471.2 552.5,384 564.2,453.5 561,456.8 637.3,454.6 515.2,391.9 637.6,480.4 517.7,403.7 523.6,416.9 540.4,401.1 551,410.8 625.8,447.3 623.7,457.5 635.9,473.7 564.5,463.4 515.5,417.3 595.4,463.3 631.3,457.1 527.5,399.4 621.9,487.3 513.6,406.7 609.4,457.6 578.1,460.1 632.5,449.7 628.1,479.5 519.5,396.2 578.7,471.7 545.1,400.2 571,458.9 522.1,394.2 560.7,465.6 567,461.4 513.9,416.8 575.6,481 630.7,457.1 521.4,403.3 637.3,483.5 577.5,474.2 541,402.4 640.4,444.9 575.5,451.1 570.7,454.1 562.8,484 628.9,465 530.4,396.8 541,397.8 550.5,397.6 521.6,405.5 624.1,442.4 577.5,445.8 592.3,465 629.5,475.8 578.3,438.8 549.6,409.4 583,449.3 579,440.6 552.6,414.1 543.8,399.1 560.3,461.7 609.8,457.6 535.1,398.7 644,440.1 544.2,395.4 549.1,402.7 529.5,388.9 564.8,466.7 562.2,466.1 602.8,436.6 630.9,473.8 545.9,408.6 619.5,463.3 553.8,415.5 566.7,489.4 530.2,389.8 630.4,473.4 562.3,468.4 605.3,468.4 516.9,414.6 604.8,476.9 543.1,400.7 572.6,434.6 601.7,454.9 535.8,393.5 582.5,482.2 623,464.1 534.8,417.1 574.7,454.4 537.5,405.4 532.2,402.2 577.6,464.9 573.3,470.9 597.8,482.4 625.9,456.8 606,480.7 557.5,446.2 577.1,467.5 601.7,472.4 623.4,460.7 602.9,451.5 579.3,460.8 530.9,400.2 627.2,463.6 550.3,392.2 566.5,486.2 629.4,459.4 540.6,414 633.2,478.9 543.4,402.6 524.8,407.4 580.7,456.7 617.7,450.4 566.2,492 623.9,464.7 565.4,439.6 620.3,453.3 528.2,385 550.6,401.4 529.5,420.1 610.4,477.6 575,455.2 599.4,452.2 544.7,411.6 609.7,467.1 643.6,460.7 523.8,424 555.2,406.9 627.4,444.1 625,437.2 627.7,465.2 543.1,380.3 587.2,470.2 524.7,412.5 569.9,491.1 588.9,452.2 547.3,407.2 568.7,435.3 561.4,456.4 524.5,400.3 522.4,424.6 615.8,445.6 513.8,407.1 642.7,465.8 631,490.7 642.8,452.5 616.4,451.8 513.7,410 528.6,401.5 555.2,397.8 537.2,390.9 521.3,401.3 633.6,442.8 632.7,466.8 614,471.2 546.6,408.3 625.1,494.7 620.8,473.6 555.8,390.3 530.1,399.4 531.2,412.6 567,459.4 622.5,488.4 523.4,406.1 569.7,457.4 559.9,447.1 630.4,473.2 533.5,391.5 599.3,441 555.7,407.8 598.2,454.8 621.2,482.8 621.5,487.7 624.2,456.3 551.8,402.1 549.6,400.1 529.5,409.7 546.9,406.1 529,392.7 616.2,442.8 519.6,405.2 538.5,422.7 617,448.2 614.1,456.4 641,455.4 563.7,460.6 519.3,374.2 619.4,462.8 550.9,396.3 614.8,486.3 515.9,409.6 518,410.9 591.8,464.1 603.1,459.5 587.1,472.9 583.2,442.6 591.7,476.7 530.6,408 521.7,399.6 559.2,467 585.2,456.8 546,394.8 536.9,406.1 571.9,440.5 567.1,462.6 548.6,399.1 634.9,475.5 637,484.2 519.5,410.2 576.3,467.7 544.6,408.1 557.5,421.8 517.1,431.6 523.9,416.4 517.8,424.8 529.9,386.2 598.5,470.6 523.7,408.8 629.6,477.2 618.6,452.8 548.7,407.6 604.1,461 638.2,488.6 528.6,388.3 586.8,458.9 574.4,457 554.1,387.5 551.1,404.9 524.7,404.6 598.2,455 539.3,397.3 568.8,466.7 635.1,463.2 559.1,456.8 554.9,393.8 635.6,452.3 589.9,463.7 588.2,440.8 542.6,421.3 597.5,466.6 563.1,441.5 584.7,468.9 565.5,482.9 524,385.5 628.5,457.1 604.1,478.3 639,454.2 553.6,415 550.3,418.9 531.2,404.4 553.5,408.4 556,415.9 537.5,407 548.1,414.8 551.9,401.8 625.9,464 571.9,454.6" fill="none" stroke="none" marker-start="url(#mt)" marker-mid="url(#mt)" marker-end="url(#mt)"/>
<polyline points="545.4,393.9 539.5,397 637.1,525.1 538.9,403 622.4,505.9 553.6,415.1 587.6,520.1 554.2,402.7 557.9,461.6 635.6,544.5 632.4,520 536.3,407.2 608.4,524.9 531.7,392.6 552.6,398.5 522.7,406 598.3,514.6 608.6,519.3 611.2,522.7 614.9,520.7 565.2,502.6 536.6,406.7 514,407.9 571.1,516.3 635.8,533.5 572.2,530.5 594.1,510.4 633.6,526.2 626.5,524 610.4,525.1 591.1,523.2 543.8,403 611.6,523.1 568.2,520.4 606,514.3 542.7,410.3 636.7,513.3 534.9,422.8 617.1,534.6 630.1,513.7 533.3,404.8 626.8,530.6 597.9,519.9 592.5,534.2 546.7,402.5 556.5,472.8 544.2,407.9 571.3,523.3 598.3,518.2 608.9,514.9 605.9,532.4 558.9,457.3 557.5,467.2 613.5,544.7 542.5,387.6 567.5,511.9 549.6,409.8 641.2,531.4 515.6,414.4 630.4,510 614,524.6 556.9,437.3 602.6,525.8 561.9,516.4 596.9,515.1 569.2,517.6 633.4,526.2 573.4,502.8 619.9,526.5 588.9,511.5 562.2,494.3 640.1,531.4 539,398.1 632.5,529.9 642,511.3 624.7,514 593.4,522.9 595,517.4 635.1,518 570.2,518.2 621.5,514.7 615,526.1 626,517.5 571.2,526.2 598.9,522.7 525.5,399.1 522.9,411.3 527.5,407.5 609.8,529.2 560,474.1 632.5,531.1 523.8,398.8 536,387.8 623,520.1 568.3,528.7 542.3,401.9 615.8,513.1 544.1,406.1 641,512.5 549.4,396.9 626,519.4 576.3,523.1 636,528.9 552.2,405.8 634.7,523.1 553.1,397.9 572.2,513.3 596.3,526.6 586.1,522.3 601.3,519.7 604.6,540.1 548.5,411 514.5,411.3 608.2,525.7 592.1,526.2 587.3,525.7 578.4,530.2 635.1,516.8 552.3,400.3 633,540.3 535.4,403 604.4,535 636.8,506.3 533.6,407.8 614.4,527.6 549.2,402.3 521.1,405.1 569.9,515.5 605,507.9 550.6,400.8 638,515.1 513.7,391.7 548.5,413 558.2,450.6 562,486.1 552.7,393.4 516.2,411.9 540.9,394.8 547.7,398.9 601.6,529 562.9,473.7 608.1,517.8 571.4,519.1 558.1,464.7 534.2,393.8 543.3,391.6 631.6,517.7 573.1,505.9 554.5,408.8 542,415.6 628.3,528.5 605.7,533.1 604.4,522.6 618.9,508.9 545,396.4 609.2,534.2 522.8,406.1 600.6,513.1 555.6,445.6 600.2,524.5 543.1,400 559.7,498.4 601.3,515.6 636.6,520.1 558.1,460.9 535.6,413 529.7,410.9 601.4,529.6 630.6,521 515.6,402.4 558.6,470.1 535.5,384.9 638.6,510.3 530.7,410.4 522.4,409.7 614.1,506.1 644.4,526.8 614.8,509.6 528.4,386.8 566.9,514.9 581.6,524.9 631.2,522.7 612.2,532.3 521.3,413 572.8,522.1 615.5,514.9 584.6,527.3 600.8,525.6 640.2,528.3 641.7,537.4 623.1,508.5 553.7,417.3 534.3,397.4 535.4,417.2 597.4,517.3 614.7,510.9 626,532.3 633.2,521.5 551.1,414.4 557.2,453.7 539.1,402.2 584.7,520.5 637.5,509.7 612.7,518.8 570.7,502.1 534.3,396.6 623.9,535.8 630.9,520.9 614.1,518.6 551.7,417.8 564.6,489.6 589.9,522.5 633.7,519.8 545.2,412.2 568.4,511.8 521.3,400 513.8,406.4 545.3,402.3 619.5,545.1 601.9,509.7 575.9,531.5 567.1,532.1 548.1,412.8 613.8,532.1 577.3,515.4 522.6,412.4 595.6,520.6 643.6,533.3 522.9,380.7 644.1,518.1 526.4,383.2 553.7,421.3 641.4,516.9 640.8,533.3 537.6,397.2 607.8,516.7 593.7,539.6 565.6,517.8 616.1,535.4 596.6,538.8 542.9,410.5 577.7,530.8 606.4,538.3 594.9,522.5 584.6,517.2 610.1,537 531.1,408.8 519,403.1 517.7,405.5 594.8,530.6 570.4,507.2 623,515 640.8,516.7 528.1,405.3 563.1,477.6 568.4,494.8 585,526.9 632.6,524.9 592.1,511.3 553.4,411.3 600.3,519.5 556.5,450.8 586.2,530.1 526.3,405.5 587.3,539.1 576.1,525.9 598,543.8 587.7,500" fill="none" stroke="none" marker-start="url(#mc)" marker-mid="url(#mc)" marker-end="url(#mc)"/>
<polyline points="557.4,410.3 618.7,525.4 598.3,539.4 528.9,393.7 543.8,419.1 619.7,531.6 619.7,535.1 523.1,407.4 581.8,513.7 606.9,533.4 556.1,397.2 521.6,395.8 568.1,520 636,539.3 609.1,530.7 541.4,409.7 624.1,523.3 551.4,395.5 548.6,395.2 536.6,405.1 566.5,510 560.6,455.1 550.8,409.1 628,520.5 613.2,527.5 578,512.4 639.6,531.3 601.7,510.8 621.5,537.6 596.6,520.8 604.3,542.8 615,518.6 612.7,539.8 627.9,525.6 558,433.3 561,464.2 545.8,401.4 634.3,527.8 631.9,530.8 571.4,487.4 566,492.9 530.8,413.8 641.3,516.6 601.5,517.5 639.7,513.4 596.3,506.8 580.8,532.5 611.6,515.1 629.7,514.3 624.2,526.6 558.8,431.6 637.3,532.8 579.8,502.3 582.2,528.9 622.5,523.5 522.4,397 513.6,385.6 525.3,422.4 570.6,508.3 561.6,454.9 639.1,540.9 644.1,527.1 531,382.9 622.8,512.4 580.2,516.1 561.8,467.5 614.7,522.4 514,406.6 574.7,517.4 546.4,405.6 552.8,413.8 568.3,499.7 578.4,524.1 582.2,526.5 609.7,527.5 621.8,518.2 639.5,524.1 601.1,539.4 547.1,404.7 589.3,520.2 570.9,514.7 544.2,390.8 557,394.9 543.4,414 584,520.4 522.1,381.8 584.6,507.2 567.4,499.5 514.3,393.6 549.6,410.6 640.7,542.3 589.4,519.3 521.9,400.6 589.1,519.7 605.7,526.8 531.1,399.7 566.2,499.4 541.4,398.1 584.5,515.1 621.2,527.2 544.8,394.5 531.7,422.5 531.6,411.8 593.9,510.3 522.5,384.2 582.4,520.5 619.6,527.7 613.9,540.3 601.3,522.4 514.8,394.8 570,523.4 545.3,397.2 580.9,517.1 533.3,398.5 531.1,415.5 638.1,520.8 628.8,542.8 526.2,387.2 621.9,525.1 522.1,415.9 557.8,406.9 643.7,514.1 636.7,533.7 574.7,492.7 605.4,537.4 563.6,476 624.7,513.8 554.8,427.9 540.4,392.4 532.3,404 596.1,526.3 586.5,536.4 631.8,523 532.6,415.3 618.9,537.1 637.1,531.5 611.3,539.9 528.5,386.2 533.5,417.7 524.9,411.5 557.2,414.6 612.9,526.5 532.4,394.7 572.3,503.7 519.2,406.6 602.3,530.6 526.3,402.9 617.4,517.7 593.7,518.4 538.4,408.9 559.2,416.2 582.1,512.7 586.4,521.8 549,399.6 568.1,507.1 616.5,537.4 626.7,530.2 624.7,529 587.9,531.8 627.8,542.4 531.8,406.7 642.4,520.4 519.3,408.6 631.3,526.4 564.5,487.6 617,527.9 638.9,539.9 534.9,422 598.5,521.8 514,412 600.5,521.1 521.5,407.8 600.9,519.6 516.9,406.9 566.3,510.6 627,527.6 553.6,406.8 640.5,519.5 575.2,522.2 537.3,407.5 636.1,517.3 533.8,390.6 591.3,517.4 637,515.4 636.7,521.7 586.2,516.3 541.2,393.8 579,516.8 551.7,402.6 554.6,401.7 555,377.2 539.9,403.1 518.5,405.8 611.8,530.5 515.1,403.6 588.5,522.5 561.5,476.1 589.5,522.2 576.2,535.9 615.3,523.8 588.4,523.6 631.2,514.1 590.1,507.4 628.3,522.6 626.7,532.6 606.1,539.2 556.6,411.9 577.2,519.1 523.8,425.7 608.5,525.7 598.1,526.4 620.7,519.6 524.5,406.9 530.2,402.2 598.1,534.2 609.4,531.6 523.1,422.5 517.4,401.9 556,386.5 557.9,420.7 520.2,399.3 526.2,413.9 540.1,387.8 515.3,411.6 532.8,394.6 516.8,402.1 561.9,477.4 611.5,515.4 600.1,526.2 592.6,523.9 574.7,511.8 538,403.5 519.7,407.4 537.7,398.2 637.6,531 620.1,525.9 588.1,532.3 593.8,542.1 611.1,533.9 621.2,532 545.1,403.1 618.6,513.8 598.4,544.6 549.8,401.9 551.1,427.2 535.9,414.6 585.2,529.8 535.2,401.6 529.1,402.4 550.3,404.5 534.9,412 532.1,379.9 609.3,528.3 554.6,412.6 587.5,506.8 554.7,396.6 642.5,530.6 591,512.7 531.7,401.6" fill="none" stroke="none" marker-start="url(#ms)" marker-mid="url(#ms)" marker-end="url(#ms)"/>
<polyline points="513.4,411.4 557,411.4 558.8,436.9 560.7,458.7 562.8,476.6 565.1,490.9 567.6,502.4 569,507.1 570.5,511.3 572,514.9 573.8,518 575.7,520.7 577.8,522.9 580.9,525.1 584.4,526.7 588.6,527.9 593.8,528.6 599.7,529 607.8,529.2 644.5,529.3" fill="none" stroke="#2b2bff" stroke-width="1.9" stroke-linejoin="round"/>
<polyline points="513.4,411.4 556.4,411.4 557.5,440 558.1,449.2 558.9,457.2 559.8,462.7 560.9,466.6 562.2,469 563,469.8 563.9,470.4 566.3,471 570.6,471.2 644.5,471.2" fill="none" stroke="#000" stroke-width="1.9" stroke-linejoin="round"/>
<polyline points="513.4,411.4 553.6,411.4 555.2,436.7 556.9,458.3 558.8,476.2 560.9,490.4 563.3,501.6 564.6,506.2 566,510.3 567.5,513.6 569.2,516.6 570.9,519 572.8,521 575.7,523 579,524.4 583.1,525.4 588.2,526 602,526.4 644.5,526.5" fill="none" stroke="#ff2a12" stroke-width="1.9" stroke-linejoin="round"/>
<path d="M513.4,372V546.8H644.5" fill="none" stroke="#000" stroke-width="1.3"/>
<path d="M508.4,546.8H513.4M508.4,479.1H513.4M508.4,411.4H513.4M510.4,512.9H513.4M510.4,445.2H513.4M510.4,377.5H513.4M513.4,546.8v4M535.2,546.8v3M557.1,546.8v4M578.9,546.8v3M600.8,546.8v4M622.6,546.8v3M644.5,546.8v4" stroke="#000" stroke-width="1.2" fill="none"/>
<text x="507.9" y="549.2" font-size="7" text-anchor="end" fill="#000" stroke="#000" stroke-width="0.3">0.0</text>
<text x="507.9" y="481.5" font-size="7" text-anchor="end" fill="#000" stroke="#000" stroke-width="0.3">0.5</text>
<text x="507.9" y="413.8" font-size="7" text-anchor="end" fill="#000" stroke="#000" stroke-width="0.3">1.0</text>
<text x="513.4" y="558.3" font-size="6.6" font-weight="bold" text-anchor="middle" fill="#000" >0</text>
<text x="557.1" y="558.3" font-size="6.6" font-weight="bold" text-anchor="middle" fill="#000" >10</text>
<text x="600.8" y="558.3" font-size="6.6" font-weight="bold" text-anchor="middle" fill="#000" >20</text>
<text x="644.5" y="558.3" font-size="6.6" font-weight="bold" text-anchor="middle" fill="#000" >30</text>
<text x="579" y="366.4" font-size="10.6" font-weight="bold" text-anchor="middle" fill="#000" >K98A N-M dock</text>
<text x="579" y="570.7" font-size="10.5" font-weight="bold" text-anchor="middle" fill="#000" >min</text>
<text transform="translate(491.4 459.4) rotate(-90)" font-size="10.2" text-anchor="middle" stroke="#000" stroke-width="0.3">Relative fluorescence</text>
<text x="647.9" y="474" font-size="9" text-anchor="start" fill="#000" stroke="#000" stroke-width="0.2">ATP</text>
<text x="647.9" y="525.3" font-size="9" text-anchor="start" fill="#ff2a12" stroke="#ff2a12" stroke-width="0.2">AMPPNP</text>
<text x="647.9" y="536" font-size="9" text-anchor="start" fill="#2b2bff" stroke="#2b2bff" stroke-width="0.2">ATP&#947;S</text>
<polyline points="179.7,658.5 120,655.4 141.6,655.9 149.3,657.9 54.4,687.1 83.3,665.4 123.8,667.5 60.2,654 72.5,671.3 151.8,651 141.4,661.6 70.9,661.8 68.1,654.4 163.7,667.7 114.9,671.6 94.3,651.2 147.4,668.8 140.8,677.8 183.6,670.5 66.2,657 153.9,674.7 113.2,652.5 85.3,666.2 118.3,647.8 55.3,647.5 69,664.8 66.9,654.7 143.8,653.3 146,666.2 84.7,667.2 93.1,654.9 154.4,645.6 103.7,678.5 98.5,659.2 177.2,664.3 124.3,665.5 123.5,668.1 133.1,667.4 58,646.1 105.2,658.8 156.5,673.8 138.4,649.7 169.9,676.6 93.5,649.6 115.3,662.6 83.5,644.5 77,652.5 64.6,645.9 78.8,656.1 74.2,646.7 110.5,661.1 106.8,644.1 153.3,670.9 155.2,653.1 123.9,660 139.1,662.7 114.3,669.7 93.5,651.6 119,678.3 135.8,677.3 178.4,657.6 160.2,679 61.4,642.3 137,666.9 64.6,653.5 134.6,663.6 164.5,660.4 144.7,667 68.3,659.3 108.4,665.5 78.3,645.9 139.7,653.6 146.2,652.3 149.7,660.9 99.6,666.2 131.4,680.2 80,649.7 175.1,656.4 176.3,668.1 56.6,648.2 126.9,652.1 147.2,663.4 83,645.8 57,652.9 52.9,672.2 145.8,668.8 54.2,659.7 103.5,659.3 157.8,672.5 59.5,659.9 145.7,673.4 109.4,664.7 103.9,663.6 116.4,655.1 99,656.8 166.2,662.7 140.9,662 103.7,663.3 68.5,654.7 119.1,649.7 184.3,687.8 170.1,666 61.6,652.8 99.5,653.6 114.5,674.6 106,661 67.4,647.7 77.2,660 123.1,682.3 147.6,667.7 147,675.6 141.2,658.1 141.4,672.3 53.7,639 81.3,654.5 97,671.9 86.4,660.6 103.8,674.6 105.2,660.6 97.4,650.2 54,657.8 166.6,655.6 178.7,673.2 133.7,661.4 88.5,634 111.9,677.6 172.8,652.7 131.6,653.2 144.4,682.1 144.9,677.9 181.9,673.5 138.9,655.1 66.9,659.9 119.2,665.9 174.1,657.6 69.7,654.7 59.3,653.7 59.2,658.8 61.8,645.2 74.2,663.2 154.2,648.5 131.6,667.5 149,671.9 125.9,658.2 99.2,660.1 156.3,683 75,653.7 100,677.1 107.3,672.2 142.3,656.9 152.9,672.5 127.3,661 132.7,667.9 89.6,637.6 130.8,665.2 163.7,675.4 110.5,674.8 151.7,672.9 119.6,663.2 120.2,664.4 132.7,655.2 71,654.3 81,654.7 75.7,652.8 123.1,665.6 140.8,661.6 145.8,657 80.1,648.5 96.6,669.6 71.8,672.6 138.8,672 108,661.8 88.6,679.4 82.2,660.4 177.7,660.2 116.1,669.8 183.2,675 94.9,639.4 81,642.9 146.9,666.9 172.8,652 74.2,643.7 166.2,675.1 130,639.1 171.8,673.3 177.3,667 108.9,674.8 176.6,663.7 76.4,668.4 111.1,664.6 111,654.3 84.9,654 116.4,667 151.8,649.9 66.9,664.5 116,655.4 121.9,667.4 78.5,654 137.2,664.2 85.9,654.8 127.8,665 127.9,671.9 151.3,669.9 175.8,660.4 174.6,665.6 118.8,675.6 87.2,662.7 84.5,662.6 156.3,665.1 152.8,662.9 157.2,663.7 162.4,670.8 127.1,664.5 170.9,677.6 139.2,691.9 135.8,665.2 162.9,680.3 138.5,673.6 153.8,676.1 175.1,658.7 104.7,676.1 151.6,662.1 91.9,660.8 116.7,676.4 167.7,679.6 180.9,660.4 177.5,661.1 152.4,657.5 164.4,647.5 169.2,662.2 133,662.1 84.7,657.5 54.9,655.3 152.9,668.1 152.8,673.3 148.9,646 129,682.4 139.3,662.5 147.3,660.7 122.7,663.5 139.4,674 82.2,658.2 123,669.3 135.4,675.1 127.5,665.4 86.5,660.3 69.3,661.7 138.9,658.5 67.4,666.5 157.3,660.8 76.6,662.3 154.3,661 99.5,664.4 171.4,662.7 82.3,665.8 73.4,663.8 141.6,673.1 154.6,663.4 98.7,658 114.8,654.9 139.8,669.8 91.5,655.8 103.9,680.3 127.2,686 92.5,664.8 71.8,662.9 172.3,679.8 68.8,673.4 182.7,660.1 163.9,672.7" fill="none" stroke="none" marker-start="url(#mt)" marker-mid="url(#mt)" marker-end="url(#mt)"/>
<polyline points="178.1,663.8 116.6,665.6 137,667 88.4,652.8 144.1,659 148,645.2 130.7,666.3 166.3,666.3 114.8,667.6 54.6,643.9 173,673.7 127.4,651.8 133.7,646 131.5,660.6 58,650 90.5,676.7 64.4,660.4 138.2,675.2 165.2,660 139.7,659.7 159.8,668.4 96.4,648 56.7,653.5 106.6,662.4 74.8,661.6 92.8,670.5 84.1,658.5 76.4,637 143.2,666.7 131.4,655.3 161,666.5 182.3,655.3 83.9,652.7 176.2,664.6 153.8,677.5 126.8,663.7 180.8,651.5 120.1,660.7 56.3,650.9 69.1,661.3 93.8,674.2 144.4,656.2 127.2,655.9 142.6,665.4 55.1,660.2 85.3,654.1 125.7,664.4 138.8,656.5 109.5,659.6 81.4,678.8 93.4,658.1 152.9,666.3 147.2,668.1 85.2,653 177.9,667.1 58.4,651.7 83.5,646.5 110.4,656.4 158.6,675.6 127.1,665.7 141.6,651.4 178,664.9 101,664.6 76.5,657.6 106.6,652.7 126.9,656.5 70.3,650.7 57.7,664.4 148.3,663 182.9,665.2 175.3,662.5 102.2,676.7 112.5,660.1 161.8,673.9 182.4,649.8 99.5,642.4 178,646.8 144.7,652.6 72,661.2 112,648.8 53,658.6 106.3,651.7 121.5,666.9 157.8,666.5 96.2,652.4 138.2,643.1 140,660 121.7,637.4 133.4,633.6 113.2,669.8 133.1,659.5 113.3,666.8 172.8,663.4 67.5,661.7 166.5,662.3 150.8,651.5 54.1,647.9 147.4,657.8 100.4,656.9 119.4,657.2 120.8,657.2 149.5,655.1 116.7,658.1 136.4,654.8 81.5,668.9 61.9,649.3 140.7,643.5 182.9,661.1 62.8,669.9 172.6,649.4 103.3,660.2 138.7,687.6 87.7,658.7 143.7,654.3 110,654 157.4,649.4 89.1,650.9 96.5,655.5 135,677.8 66.5,667.1 181.1,661 132.6,652.9 180.7,672.2 76.1,662.4 146,655.8 79.2,674.5 63.5,674.8 111,659.8 114.7,655.6 126.2,663.2 114.1,679.3 78.4,656.4 142.5,672.3 87.7,650.5 90.9,657.6 155.6,658.3 142.5,653.9 148.4,665.2 174.1,654.4 165,649.9 81.5,652.9 181.2,650.2 121.1,664.2 126.2,650.2 89.3,654.1 103.7,666.4 126,659.5 57,661.6 147.5,665.4 98.6,656 143.8,650 149.1,663.3 134.1,658.1 62.4,670.4 126.8,657.8 99.3,646 146.8,652.6 146.3,655.7 118.8,663.1 149,669.5 71.5,657.5 160.2,673.6 180.3,674.1 171.3,653.1 159.6,669.7 106,640.5 175.5,675.6 126.7,654.7 81,667.6 124.1,656.9 164.7,671.2 142,659.5 162.4,662.7 57.2,660.9 180.4,657.8 174.2,648 118.9,663.7 174.3,653.9 76.6,655.8 100.7,657.2 74.9,636.1 140.9,680.1 173.5,668.4 175.4,679.2 63.1,659.6 153.9,662.8 126.3,623.1 81.7,653.4 170.5,645.1 122.3,646.3 58.1,660.8 102.1,652.5 142.5,644.3 164.7,659.8 78.8,654.7 130.6,654.3 64,670.7 172.8,669.6 53.9,653.5 180.6,657.5 127.1,667.4 151.7,663.6 140.8,660.9 119.2,659.7 110.3,651.1 80,655.6 90.4,655.1 65,669.9 87.9,666.5 138.8,656.6 125.3,673.6 127.4,656.3 122.3,664.7 177.2,670 164.6,655.4 87.4,663 126,666.8 180.3,668.9 87.9,656.1 145,634.3 138,679.5 140.8,660 125.9,661 150.2,651.6 102.1,660.6 176.1,685.5 127.3,646.4 97.2,667 136.8,660.1 142.9,672.8 173.8,672.5 136.4,664.2 121.5,650.4 99.1,649 108.7,663.2 90.4,652 134.3,662.9 166.1,660.6 130.7,657.7 79.4,650.9 57.4,662.5 168.3,663.1 91.5,654.7 143.4,659.2 177.2,670 176.5,646.3 125.7,663.2 172.9,655.1 105.7,655.5 176.6,651 142.1,680.5 63.2,637.5 159.6,663.2 73.8,668.4 184,661.8 59.1,635.6 152.4,656 72.7,668.4 123.8,663.1 101.6,644.6 168,675 88.7,658.5 147.5,663.2 176.5,642.1 61.1,659.5 146.7,648 63.7,663.2 155.2,668.5 165.5,652.3 71,651" fill="none" stroke="none" marker-start="url(#mc)" marker-mid="url(#mc)" marker-end="url(#mc)"/>
<polyline points="81.7,630.5 81.2,630.6 127.6,643.7 92.2,651.3 89.2,648.2 121.6,643.7 54.8,639 166.4,648.4 59.4,642.8 106.8,634.1 182.9,639.9 74.7,619 58.5,620.5 116.6,655.5 135.7,649.4 103,657.2 81.6,655.7 143.7,637.6 130.3,653.9 98.3,654.4 133.7,646.2 163.3,634.9 120.4,647.1 103.7,647.1 133.7,633.6 119.2,638.3 65.6,638.5 171.6,633.3 69,654.1 150.5,641.1 109.7,650.1 155.9,632.5 121.5,634.7 160.8,654.4 114.5,629.1 85.2,655.7 154.1,630.9 161.7,641.2 118.8,652.6 175,655.2 145.8,646.6 175.5,643.6 78.4,650.9 176.9,637.4 153.8,658.2 176.8,643.4 98.7,643.3 125.9,663.2 170.5,640.1 141.2,656.8 90.7,669.9 90.7,649.9 177.3,645.8 141.1,633.7 59.6,648.5 86.7,627.7 126,628.1 77.6,631.7 114,629.3 140.6,639.6 63.7,649.3 86,636.5 168.7,633.1 58,640.8 67.3,646 160.7,660 141.7,636.2 114.7,639.6 165.8,657.2 80.1,642.3 53.3,635.7 159.7,644.5 136.6,635 97,635.3 129,659.1 63.3,646.6 93.8,638.2 127.5,633.6 163.9,628.3 94.3,663.8 60.6,644.1 64.2,635.7 93,630.3 135.1,625.4 145.5,653.3 144.2,647.3 167.9,654.6 142.5,634.6 141,657.5 130.9,630.7 140.4,633.4 148.9,638.2 181.2,666.5 76.3,650.6 137.4,635.4 69,658.5 79.8,645.9 174.7,644.5 105.9,633.9 127.3,640.3 80.5,640.4 119.8,648.1 55.8,643.3 129.1,644.8 178.4,635.6 143.2,645.3 140.3,632.3 125.7,661.5 94.8,630.6 154.6,645.2 103.8,631.3 97,642.5 124.7,634.2 181.1,627.4 149.3,649.3 141.5,642.5 69.5,645.2 159.1,641.1 108.3,660.6 135.4,645.2 126.5,646 156.1,651.8 56.8,645.4 65.5,659.8 89.7,628.5 79.3,638.6 142.4,623.3 68,652.7 64.8,655.8 122.4,640.4 61.3,661.2 157.3,641 96,650.9 92.5,647 131.3,640.7 181.2,642.9 89.9,623.5 82.4,636.6 101.1,657.2 155.3,632.9 175.6,657.7 72.9,642.5 56.5,656.7 92.9,652.2 94.9,629.4 151.1,649.3 142.3,650.3 151.1,649.4 104.4,646.7 109.1,628 176.7,656 59,656.6 55.4,637.2 54.8,660.4 160.3,647.3 120.8,631.4 144.2,643.4 138.7,648.6 159.7,651 122.4,653.2 95.9,649.8 67.4,642 106.8,630.2 78.3,633.2 174.7,649.5 153.2,651.3 90.1,636.1 120,662.9 114.5,648.2 132.3,647 177.4,655.4 88.9,654.1 133.5,639.8 119.1,661.2 178.4,653.3 81.3,650.5 138,642.7 64.6,658.2 124.3,632 179.1,646.9 147.4,646.4 56.7,647.5 182.3,650.8 123.7,654.1 129,631.4 177.2,641.5 129.7,644.8 81.7,633.1 109.2,651.3 151.3,637 104.8,643.5 74.8,653.2 103.9,635.6 66.2,659.7 65.8,636.8 68.6,653.2 119.7,639.4 95,629.1 76.3,637.7 150,650.2 133.2,644.1 160.6,647.7 73.8,656.3 134.4,655.6 87.3,643.4 117.9,638.1 111.4,662.6 129.5,644.6 127.8,638.5 173.6,642.7 134.9,654.5 98.9,632.9 157.3,656.8 73.9,637 154.8,626.9 128.6,665.6 86.9,641.2 151.8,640.6 67.6,641.5 57.3,652.1 88.4,647.3 119.1,658.8 135.7,642.6 94,638.3 128.9,651 181.8,653.8 184.2,649 147.6,644.1 92.4,643.4 115.4,645.1 159.1,643.3 169.5,657.9 178,673 103.7,637.5 97.1,629 96.9,659.1 156.1,651.1 178.8,640.9 126.8,633.9 111,637.2 140.4,630.5 108.2,644.6 127.7,639.7 77.4,639.7 65.7,648.6 106,631.3 88,637.5 72.6,633.7 179.8,648.2 144.4,633.2 103.8,655.2 183.3,639.9 66.7,671.7 98.6,654.8 169.1,636.3 180.2,648.9 157.1,642.3 77.1,661.2 127.3,627.7 62,637.8 61,644.4 166.4,639.7 52.9,640.6 65.4,629.1 66.5,641.8 146.4,659.7 135.4,646.8 81.1,630.5 106.7,638.1 178,648.5" fill="none" stroke="none" marker-start="url(#ms)" marker-mid="url(#ms)" marker-end="url(#ms)"/>
<polyline points="52.6,648.4 184.4,648.4" fill="none" stroke="#2b2bff" stroke-width="1.9" stroke-linejoin="round"/>
<polyline points="52.6,656.5 96.5,656.5 96.6,665 184.4,665" fill="none" stroke="#000" stroke-width="1.9" stroke-linejoin="round"/>
<polyline points="52.6,656.5 96.5,656.5 184.4,662.7" fill="none" stroke="#ff2a12" stroke-width="1.9" stroke-linejoin="round"/>
<path d="M52.6,617.6V792.2H184.4" fill="none" stroke="#000" stroke-width="1.3"/>
<path d="M47.6,792.2H52.6M47.6,724.7H52.6M47.6,657.2H52.6M49.6,758.5H52.6M49.6,691H52.6M49.6,623.5H52.6M52.6,792.2v4M74.6,792.2v3M96.5,792.2v4M118.5,792.2v3M140.5,792.2v4M162.4,792.2v3M184.4,792.2v4" stroke="#000" stroke-width="1.2" fill="none"/>
<text x="47.1" y="794.6" font-size="7" text-anchor="end" fill="#000" stroke="#000" stroke-width="0.3">0.0</text>
<text x="47.1" y="727.1" font-size="7" text-anchor="end" fill="#000" stroke="#000" stroke-width="0.3">0.5</text>
<text x="47.1" y="659.6" font-size="7" text-anchor="end" fill="#000" stroke="#000" stroke-width="0.3">1.0</text>
<text x="52.6" y="803.7" font-size="6.6" font-weight="bold" text-anchor="middle" fill="#000" >0</text>
<text x="96.5" y="803.7" font-size="6.6" font-weight="bold" text-anchor="middle" fill="#000" >10</text>
<text x="140.5" y="803.7" font-size="6.6" font-weight="bold" text-anchor="middle" fill="#000" >20</text>
<text x="184.4" y="803.7" font-size="6.6" font-weight="bold" text-anchor="middle" fill="#000" >30</text>
<text x="118.5" y="612" font-size="10.6" font-weight="bold" text-anchor="middle" fill="#000" >G121A N-M dock</text>
<text x="118.5" y="816.1" font-size="10.5" font-weight="bold" text-anchor="middle" fill="#000" >min</text>
<text transform="translate(30.6 704.9) rotate(-90)" font-size="10.2" text-anchor="middle" stroke="#000" stroke-width="0.3">Relative fluorescence</text>
<text x="187.8" y="649.7" font-size="9" text-anchor="start" fill="#2b2bff" stroke="#2b2bff" stroke-width="0.2">ATP&#947;S</text>
<text x="187.8" y="662.8" font-size="9" text-anchor="start" fill="#ff2a12" stroke="#ff2a12" stroke-width="0.2">AMPPNP</text>
<text x="187.8" y="673.4" font-size="9" text-anchor="start" fill="#000" stroke="#000" stroke-width="0.2">ATP</text>
<polyline points="376.3,747 385,756.8 311.7,663.6 415.7,750.5 360.2,752 293.5,673.5 356.8,745.9 288.4,674.6 415.1,753.5 373.8,752.5 336,714.2 391.4,762.4 390.7,751.3 378.4,752.4 317,679.7 298.3,667.7 398.9,764 403.1,754.9 331.6,699 337,717.9 339.2,735.4 322.5,674.4 409.7,747.5 356.1,765.2 379.5,746.8 365.8,758.2 297.8,677.4 295.5,676 305.5,667 351.5,740.6 368.8,733.7 417.3,749.6 404.8,756 383.4,756.2 336.6,715.2 331.4,673.8 377.9,747.9 331.6,696.5 386.9,748.6 382.1,748.7 301.8,674.6 392,758.6 298.3,699.8 327.9,680.2 414.6,741 371.9,749 398.9,773 408.2,751.2 320.9,693 390.9,731.7 335.1,712.8 294.5,686.7 300.1,667.1 302.6,682.6 369.3,745.5 370.6,750.8 397.7,762.9 324.9,668.4 386.5,764.4 321.2,661.7 327.4,674.3 372.5,761.2 337.8,744.1 417.6,735.4 327.7,660.7 317.3,687.2 401.9,735.1 401.1,749.6 307.5,677.1 330.5,681.6 353.3,751.2 294.7,660.9 334.9,712.1 387.6,769.4 387.3,730.7 305.6,666.2 326,685.6 321.4,678.4 376.3,760.1 303.4,674.4 416,747.4 301.3,672.6 355.7,755.2 378.7,759.1 411,743 367,751.9 398.8,729.2 356,757.4 315.1,667.2 341.5,736.2 366,758.3 356,736.1 389.2,750.1 357.1,758.5 336.5,724.7 353.9,738.8 354.5,761 287.3,661.4 329.3,668.2 361.5,753.2 379.9,737.9 342.4,721.2 384.4,745.4 352.4,746.5 334.7,694.6 318,660.2 391.2,760.4 407.6,753.3 382.2,753.4 315.1,678.9 379.1,765.9 352.6,739.4 407.9,750.5 286.8,673.9 387.9,737.4 347.5,750.6 398.8,751.8 365.9,748.1 287,679.2 377.2,752.3 356.3,742 317.5,675 302.1,661.8 338.5,736.3 360,748.3 349.1,760.4 288.2,676.1 305.5,681.8 375.8,737.7 358,742.6 383.9,746.2 340.7,716.6 319.9,660.6 391.2,744.2 314.8,681.7 294,689.2 334.6,712.3 345.5,746.6 313.6,681.3 412,754.2 316.5,691.3 302.1,660.2 373.2,762.4 304.9,681.6 322.9,669.3 340.6,750.7 322.1,665.8 372.2,741.8 304.5,678 370.9,761.8 301.3,679.6 362.5,768.9 415.1,737.5 389.8,750.7 410.8,758.6 358,758.9 306.9,669.2 334.8,698.3 388.4,763.9 303.4,680.6 373.6,768.6 328.5,668.2 407,749.7 332.2,673.6 328.5,676.1 321.9,679.2 357.2,756.8 411.6,742.8 357.2,765.9 383.8,743.8 354.6,746.6 296.9,679.9 363.3,759.6 364.4,740.2 364.6,732.2 325.4,679.3 321.2,669.6 329.4,657.5 290.1,681.1 307.2,677.4 323.8,687.1 353.5,750.1 406.2,752.1 378.4,755.4 354,756.2 380.5,767 344.6,755.3 292.2,684.6 376.5,744.8 379,756.3 372.4,759.6 398.4,744.7 389.1,745.7 395.3,758.8 292.1,681.2 417.8,744.7 363.6,747 364.2,759.1 366.9,748.5 321.6,675.2 325.9,663.8 401.6,760 365.2,742 412.6,747 313.5,685 363.2,740.1 365.1,741.7 290.9,688.1 368.5,731.1 336.7,733.6 342.7,748.2 310.5,678.1 364.4,743 374.8,745.3 403.6,752.2 397,737.6 415.2,747.2 414.7,737.3 378.4,722.9 323,673 357.2,775.6 297,679.5 360.7,761.2 326.3,674 356.7,748.6 384.9,763.6 294,686.5 401.5,753.9 291,676.9 350.6,773.6 314.8,665.1 291.1,674.6 349.3,746.6 320.5,671.9 296.5,685.3 394.7,751.8 318.4,664.4 409.7,740.4 366.3,746.2 332.8,703.5 294,683.2 398.8,737.9 300.3,669.6 388.3,755.6 355.7,771.5 346.1,752.5 296.6,694.6 341.4,723.8 288.2,673 386.6,758.9 379.2,754 303.9,648.3 353.2,736.1 309.5,688.7 379.9,752.6 310.9,687.5 308.8,692.6 323.5,673.1 414.1,726.5 393.9,735.2 339.2,730.4 390.7,755.1 333.7,704.3 310.7,664.3 404.3,766.3 290.8,694.2 390.6,731.9 412.5,748.4 297.1,658.3 399.3,748.8" fill="none" stroke="none" marker-start="url(#mt)" marker-mid="url(#mt)" marker-end="url(#mt)"/>
<polyline points="329.1,649.9 351.1,624.5 322.8,665.6 330.4,640.1 346.7,652.3 341.8,643.2 324.2,654.1 326.2,658 327.1,646.2 311.2,663.2 362.8,642.9 298.2,660.3 318.7,672.5 308.5,670.1 379.2,654.4 322.9,650.7 299.1,671.9 394.3,647.7 343.7,636.1 392,653.1 328.3,652 331.7,656.1 359.7,648.5 295.2,678.2 414.8,643.8 303.6,675.8 406.4,654.1 372.9,651.4 386.8,649.8 313.7,679.3 403.6,640.2 356.7,642.6 340.5,647.4 311.4,685.4 308.6,670 399.7,660.3 413.8,647 341.1,648.3 381.4,654 378.1,656.2 351.1,655 349.3,630.2 358.9,651.1 331.7,650.9 384.3,640.1 341.1,644.9 352.5,639.2 310,685.7 414.6,658.5 296.3,644.6 380.5,649.1 373.1,651.3 331.4,647.7 414.8,639.8 290.8,685.4 322,672.1 330.5,649.7 370.6,642.7 363.8,647.2 379.8,653.5 399.5,656.5 288.6,696.6 359.9,639.9 338.9,662 376.9,652.4 355.5,633.7 331.9,652.8 286.9,669.1 327,658.4 344.8,642.4 330.4,649.3 336,653.3 371.8,636.6 330.2,652 398.2,660.8 333.6,651.8 343.3,643.9 343.1,658.7 405.1,641.7 365.7,641.8 413.2,629.7 286.6,680.4 412,642.8 311.7,689.7 404.3,652.5 291.8,673.7 398.9,645.1 369.4,649.2 376.4,649.5 337.6,654.2 337.2,652.7 306.7,671.9 304.5,669.6 368.3,643 331.1,640.3 289.8,664 308.3,690.8 308.4,679.3 311.5,676.1 345.9,654.5 406,639.3 362.7,642 383.6,649.7 299.9,673.6 377.3,637.4 400.1,651.8 417.2,651.6 379.9,640.6 366.1,644.5 412.9,636 303,671.3 390.5,642 380.9,653.6 381.7,657.1 332.8,649 296.5,698.4 304.7,671 375.3,640 327.1,655 411.1,650.7 302.1,664.9 393.4,649.1 348.9,640 324.8,655 319.6,668.2 332.6,640.5 334.5,644.4 315.8,672.4 314.9,672.2 414,648.1 341.6,639 368.1,663.2 378.6,651.1 329.8,644.1 409.3,656.3 324.7,675.6 311.3,680.9 291.9,670.7 320.7,666.9 294.1,661.7 368.7,644.2 361.9,655.1 289,672.4 411.3,643.6 382.1,636.1 358.5,667.9 410.6,645.4 355.9,665 309.2,668.3 388.8,644.7 411.9,644.3 293.9,666.7 352.4,645.3 315.9,680.4 405.2,645.6 298.6,663.9 392.4,649.8 313.2,674.4 370.6,659.5 377.2,638.4 386.3,653.2 293,681.3 349.7,652.7 302.6,682.3 302.7,676.9 307.3,663.3 305.5,667.6 409.3,636 359.9,635.5 319.5,682.6 350,644.4 293.2,661.3 314.5,654.2 368.7,661.3 377.6,661.4 367.2,644.5 415.8,651.7 415.2,657.6 396,645.3 347.4,655.8 385.8,669 318.9,674.9 400,647.6 318.1,669 416.6,640.4 287.8,673 391,650.9 352,654.7 393.6,663.4 354.7,652.7 395.9,639.9 379.4,642.9 370.3,630.5 411.4,650.1 301.5,690.6 408.1,641.4 354.8,639.5 379.3,659.2 374.1,663.2 337.7,647.4 355.5,642.4 414.3,658.8 350.4,651.8 406.9,655.7 287.1,685.3 361.7,660.5 376.9,647.5 338.1,652.1 296.7,680.7 390.4,672.1 385.3,633.2 336.3,657.2 298.9,676 396.7,659 388.3,645.4 396,662.3 394,648 320.7,676.4 368.4,640.6 347.4,658.6 337.5,654.6 340.1,650.9 374.8,630.1 417.6,662 348.3,646.2 334.3,654.7 368.8,646.1 369,643 339.7,647.6 371.2,646.5 372.6,646.4 384.4,654.1 308,676.7 372,663.6 341.1,652 401.9,655.7 367.5,651.1 392.9,642.3 392.8,645.5 314.1,670.6 296.2,665 386.1,670.1 293.3,671 411,649.1 377,649.8 341.8,660.5 374.4,644 303.4,664.6 370.1,639.7 407.3,649.7 286,669.1 409.7,640.7 327,640.4 338.3,638 409.9,647.6 391,648.1 336.7,647.4 415.2,646.9 290.3,679.3 373.1,642 353.2,655.1 403,656.1 288.5,671.7 328.4,657.1 349.1,651.1 295.7,693.4 371.1,641.8 397.8,649 405.5,650.1 305,670.7" fill="none" stroke="none" marker-start="url(#mc)" marker-mid="url(#mc)" marker-end="url(#mc)"/>
<polyline points="357.3,630.1 356.8,637.4 363.4,636.6 358.9,622.5 375.7,638.8 412.1,652.1 296.9,667.7 316.9,675.9 286.8,673.9 294.8,663.7 312.6,674.5 404.9,645.3 327.6,693.4 365.3,633.5 327.3,685.9 416.2,630.3 311.4,687 338.1,636.3 334.8,646.9 314.2,678.5 295.7,679.3 337.5,627.5 312.6,662.7 289.1,676.9 402.8,641 331.2,618.7 287.5,671.8 367.2,627.3 349,627.3 376.9,619.4 333.5,624.1 304.5,668.8 370.3,625.8 338.5,641 401.6,638.7 329.1,662.3 315.3,674.3 310.5,675 319.8,672.3 317.4,674.9 354.8,637 335.1,648.2 413.8,625.2 312.9,669.7 410,641.2 330.3,637.8 349.7,629.3 412.5,632.3 388.9,650.1 410.8,644.2 357,638.6 327.9,660.1 375,641 376.3,636.2 291.5,685.5 300.1,679.7 410.8,629.8 381.1,652.3 394.5,659.4 310.8,669 414.5,632.7 325.7,680.8 304.5,666.1 333.4,624.5 332.3,654 293.7,676.7 397.6,622.6 400.7,639.2 312,678.1 358.6,624.1 400.8,635.5 335.8,644.2 353.1,639.4 318.2,687.5 347.7,627.8 327.2,691.2 394.7,623.6 307,690.5 290.3,674.7 404.8,646.7 308.7,678.1 358.4,623.4 379.5,622.5 329.1,648.6 408.5,633.8 330.6,639.3 312,673 294.6,669.4 404.6,636.7 314.5,664.9 404.3,629.9 346.2,622.3 409,628.5 297.5,668.8 398.8,639.8 415.1,636.9 379.7,645 303.6,677.9 417.5,634.6 391.6,625.2 313.7,686.9 297.4,676.3 303.1,663.4 288,665.4 364.1,656.5 339.2,635.4 297.3,661.4 351,655.6 402.2,625.8 298.1,683.7 370.2,637.3 308.2,673.1 353.3,650.4 331.2,635.3 322.4,681.2 287.6,682.2 362.3,626.4 377.2,629.8 310.4,670 415.7,633.5 288.6,681.9 311.8,672.7 370.6,618.8 303.7,673.4 320.4,666.8 352.2,635.1 400,648.4 327.8,669.7 372.7,627.9 289.1,672.7 403.4,643.4 374.6,643.7 405,635.2 313.7,674.3 351.5,644.4 384.1,643 289.3,670 396.9,623.4 379.3,638.3 389.9,639.6 307.4,682 360.8,628.5 305.8,675.8 303.4,665.8 338.5,622.1 321.9,688.6 334.6,634.1 376.3,636.9 304,678.4 307.4,686.6 371.7,636.7 403.9,643.2 374.6,629.9 410.6,632.7 323.3,688.5 332.7,650.1 335.1,637.7 333.3,627.6 321.4,670.6 390.5,633.7 323.4,706.2 340.9,637.7 348.3,640 417.4,636.2 329.4,664.8 377.1,637.2 329.2,664.5 337.1,626.5 288.8,677.1 355,633.6 330.5,641.9 320.9,673.5 324.6,679.1 286.3,675.4 382.3,623.5 358.2,625.3 369.9,630.2 361.1,620.6 336.2,631 346.5,642.3 348.8,649.5 407,639.6 331.9,635.8 306.1,671.5 297,665.2 330.5,646.4 361.5,640.7 362.8,625.9 382,622.1 372.9,637.6 297,672.1 337.4,620.2 334.8,630.3 300.9,675.8 363.6,652.6 388.1,620.7 291.7,669.2 355.9,631.9 301.8,679.6 388.4,644.8 359.6,634 294.7,676.3 354,622.8 317.8,686.6 313.3,661.8 374,632.8 339.3,622 408.4,642.2 406.8,629.9 398.5,621.7 340.1,632 405.3,646.9 295.5,678.4 388.3,628.1 333.3,646.8 400.1,646.6 289.9,673.1 361.8,642 295.2,668.9 324.8,686.3 360.5,650.3 304.3,682.5 377.5,619.1 353.6,641.2 315.5,675.3 356.9,630.8 344.8,642 290.4,665.1 379.5,631.4 380.2,628.9 406,648.9 410.1,649.5 334.8,659 370.8,634.9 366.1,635.2 292.9,668.5 381.4,619.2 321.9,677.6 342,635.6 367.8,628.9 352.5,618.8 322.9,683 401.1,627.2 298.4,677.6 365.5,636.2 310.4,667.6 407.9,640.5 409.5,643.1 380.1,626.9 402.6,633.3 387,635.5 372.2,634.3 384.6,628.4 406.1,636.5 314.6,668.1 382.2,629.2 309.6,661.4 346.8,621.2 330.8,630.9 369.6,635 370.2,632 405,638.6" fill="none" stroke="none" marker-start="url(#ms)" marker-mid="url(#ms)" marker-end="url(#ms)"/>
<polyline points="286,674.9 328.6,674.9 329.4,653.3 330.4,641.2 331,637.6 331.7,635.3 332.6,633.9 333.9,633.1 335.5,632.8 338.7,632.7 417.8,632.7" fill="none" stroke="#2b2bff" stroke-width="1.9" stroke-linejoin="round"/>
<polyline points="286,674.9 329.9,674.9 331.7,691.9 333.6,705.7 335.6,717.1 337.9,726.7 340.4,734.2 341.7,737.1 343.2,739.9 344.8,742.2 346.6,744.2 348.4,745.8 350.5,747.3 353.5,748.7 357,749.7 361.2,750.4 366.3,750.9 380.3,751.2 417.8,751.3" fill="none" stroke="#000" stroke-width="1.9" stroke-linejoin="round"/>
<polyline points="286,674.9 325.1,674.9 326.1,662.8 326.7,658.2 327.4,654.8 328.2,652.5 329.2,650.8 330.4,649.8 332,649.3 334.2,649 338.1,649 417.8,649" fill="none" stroke="#ff2a12" stroke-width="1.9" stroke-linejoin="round"/>
<path d="M286,615.8V791.7H417.9" fill="none" stroke="#000" stroke-width="1.3"/>
<path d="M281,791.7H286M281,733.3H286M281,674.9H286M281,616.5H286M283,762.5H286M283,704.1H286M283,645.7H286M286,791.7v4M308,791.7v3M329.9,791.7v4M351.9,791.7v3M373.9,791.7v4M395.9,791.7v3M417.9,791.7v4" stroke="#000" stroke-width="1.2" fill="none"/>
<text x="280.5" y="794.1" font-size="7" text-anchor="end" fill="#000" stroke="#000" stroke-width="0.3">0.0</text>
<text x="280.5" y="735.7" font-size="7" text-anchor="end" fill="#000" stroke="#000" stroke-width="0.3">0.5</text>
<text x="280.5" y="677.3" font-size="7" text-anchor="end" fill="#000" stroke="#000" stroke-width="0.3">1.0</text>
<text x="280.5" y="618.9" font-size="7" text-anchor="end" fill="#000" stroke="#000" stroke-width="0.3">1.5</text>
<text x="286" y="803.2" font-size="6.6" font-weight="bold" text-anchor="middle" fill="#000" >0</text>
<text x="329.9" y="803.2" font-size="6.6" font-weight="bold" text-anchor="middle" fill="#000" >10</text>
<text x="373.9" y="803.2" font-size="6.6" font-weight="bold" text-anchor="middle" fill="#000" >20</text>
<text x="417.9" y="803.2" font-size="6.6" font-weight="bold" text-anchor="middle" fill="#000" >30</text>
<text x="351.9" y="612" font-size="10.6" font-weight="bold" text-anchor="middle" fill="#000" >G118A N-M dock</text>
<text x="351.9" y="815.6" font-size="10.5" font-weight="bold" text-anchor="middle" fill="#000" >min</text>
<text transform="translate(264 703.8) rotate(-90)" font-size="10.2" text-anchor="middle" stroke="#000" stroke-width="0.3">Relative fluorescence</text>
<text x="421.2" y="636" font-size="9" text-anchor="start" fill="#2b2bff" stroke="#2b2bff" stroke-width="0.2">ATP&#947;S</text>
<text x="421.2" y="652.3" font-size="9" text-anchor="start" fill="#ff2a12" stroke="#ff2a12" stroke-width="0.2">AMPPNP</text>
<text x="421.2" y="753.9" font-size="9" text-anchor="start" fill="#000" stroke="#000" stroke-width="0.2">ATP</text>
<polyline points="566.5,696.1 520.9,667.1 605.1,697 537,684.6 603.3,706.4 586.8,711.2 603.6,705.9 605,707.5 615.9,714.4 575.7,710.9 587.7,696.2 545.9,677.2 578.6,721.3 524.8,664 638,695.9 634.6,710.1 522.7,669.3 514.5,680.4 564.8,705 582,694.3 575.8,697.7 557.2,669.1 594.5,710.1 565.5,722.2 566.2,700.6 517.3,665.5 590.7,694.9 524,647.7 625.4,702.6 575.5,695.8 559.5,696.9 599.6,693.1 628.9,697 535.2,655.1 565.6,695.9 640.4,701.7 626.1,690 564.3,709.4 560.5,682.9 619.8,694.5 524.1,679.6 528.6,683.8 587.8,701.9 587.4,705.4 587.6,699.9 613.2,699.5 628.4,715.6 565.4,699.4 555.7,657.8 624.2,710.9 545.1,673.8 627.6,719.7 605.6,697.5 623.8,684.6 596.4,722.4 527,661.9 606.6,696.5 578,713.1 537.1,674.8 526.5,682.5 547.5,679.5 529.5,668.7 530.8,663.1 623.4,705.4 637.4,697 643.2,704.4 586.3,720 587.1,690.2 520.9,657 528.6,678.6 613.9,686.5 587.8,701.4 587.2,705.2 611.6,684.9 619.5,735.1 606,725 514.5,662.4 584.2,709.5 622.4,717.4 620.3,689.5 637.2,701.1 581,721.2 581.4,714.1 516.3,660.8 580.2,686.3 586.9,729.4 633.2,703.8 628.8,711 521.3,690.3 531.7,672.3 563.1,717.6 615.1,712.7 534.8,652 614.3,700.7 590.6,697.7 627.9,699.7 557.9,666.3 565.7,692.3 521,683.6 580.9,710.6 614.4,696.8 580.2,714.8 581.3,711.5 632.8,692.8 613.4,689 554.2,677.2 636.7,715.8 607.9,699.8 552.5,667.2 540.7,677.9 601.5,699.7 579.4,700.1 591.4,705.5 530,636.8 613.3,691 625.7,697.2 568,693.2 552.9,636.5 640.6,693.9 640.6,714.6 529.4,666.6 583.8,705.6 570.2,712.1 549.8,667.3 581,703.5 600.5,707.1 561.1,698.1 553.3,660.8 626,724.6 599.1,697 553,670.1 533.5,667.1 563.4,726.9 635.9,687.2 621.8,726.2 540.6,680.1 592.4,699.1 513.8,677.1 631.8,711.1 636.3,731.9 541.4,675.2 557.9,667.8 552.5,662.4 537.4,673.5 602.5,703.9 562.4,692.2 513.8,677.9 541.8,678.8 599.6,684 604.9,716.1 515.3,656.1 585,705.6 596.6,689.5 596.4,713.7 598.3,700.5 615.2,702.6 556.9,672.8 624.4,702.8 570.9,714.5 521,671.1 598.3,710.9 557.9,661.5 596.2,707.4 561.9,711.7 578.2,710.6 585.7,707.5 605.7,716.7 551.9,654.9 600.7,701.7 543.6,660.5 616.6,715.1 543.4,674.7 522.5,658.6 518.1,686.6 591.4,702.2 555.4,669.1 588.3,712.1 553.7,669.1 570.6,718 626.9,703.8 633.9,720.3 518.7,684.8 637.1,690.3 579.1,714.4 609.8,730.6 634.7,695.2 537.7,679 563.1,739.4 629.1,707 581,695.7 630.5,702.3 622.7,686.6 643.7,707.8 599.5,699.5 521.9,681.7 631.2,704.5 537.3,652.6 533.6,664.4 561.4,691.9 540.2,692.8 531.3,674.5 596.6,721.2 632.1,697.4 547.6,678.6 562,692 597,717.9 552.3,648.5 577.6,719.8 632.5,704.8 528.4,639.9 583,703.9 541,680.2 614.2,699.3 540.3,658.7 619.1,696.3 565.8,725.9 634.8,703.9 560.6,714.6 577.6,684.4 527.1,669.3 549.4,675.4 567.5,696.7 629.9,700.7 589.8,720 619,687.6 624.7,709.1 524.9,690.4 554.3,654 622,688.7 611.9,691.9 586.9,700 565.9,713.6 578.3,695.5 515,648.7 529.9,660.7 559.6,666.2 531.4,679.1 543.2,658.4 618.6,695.5 613.6,723.5 608.7,725.1 587.2,714.6 633.7,705.4 543.1,664.9 594.3,708.9 568.1,705.6 636.3,707.6 558,669.3 544.3,663.3 613.6,700.6 619.1,706.9 607.1,703.3 615.6,711.5 538.2,660.9 592.2,712.1 583.4,687.3 632.1,706.6 565.1,699.2 545.2,678.9 553.3,674.1 580.1,704.3 641.7,706.1 604.4,713.5 607.3,719.7 574.2,705.6 565,700.5 634.9,699.9 572,691.4 529.5,673.7 615.1,729.4" fill="none" stroke="none" marker-start="url(#mt)" marker-mid="url(#mt)" marker-end="url(#mt)"/>
<polyline points="579.2,635.7 608.5,637.1 557.3,628.4 574.8,634.6 517.7,684.3 602.3,637.3 535,675 547,658 542.5,673.2 607,619.2 565.3,627.4 643.1,649 617.7,628.3 633.9,638.4 603,642.5 543.2,684.2 555.5,622.9 560.7,644.9 539.6,680.4 574.1,621.9 616.6,625.9 581.4,645.5 534.8,676.2 608.9,635.6 639.3,633 575.2,625.2 531.6,680 608.6,634 583.6,619.4 618.8,646.6 592.3,634.5 627.1,627.5 515,685.6 598.2,636.6 591.8,642.2 615,630.1 541.7,680.4 589.7,624.9 548,666.9 611.8,631 523.5,678.4 533.7,673.2 636.7,630.9 609.6,641.4 546.1,666.5 553.9,642 569.9,624.9 543.6,686.5 531.4,668.1 540.8,670.3 610.9,643.4 607,631.1 609.3,631.9 552.7,651.4 542.2,677.3 593.8,627.3 643.3,635.3 563.9,629.7 541.7,681 579.6,630.6 537.9,667.1 558.5,637 609.3,625.9 544.8,682.7 571.7,634.5 597.3,633.4 533.9,665.1 532,681.7 639.3,621.4 626.6,643.5 628.8,632.7 588,623.9 579.1,625.7 527.3,683.7 544.5,685.5 527.8,668.1 582.7,641.9 570.1,626.7 535.7,679.7 526,675.5 531.6,662.6 514.8,668.4 542.6,686.7 618.1,628.8 599.1,631 580.7,632.3 542.6,664.3 574.3,645.7 514.4,672.8 555.6,636.1 575.8,637.7 525.1,661.1 589,641.9 571,631.2 520.2,674.7 532.4,693.5 577,643.3 630.4,639.5 520.5,668.9 586.6,623.7 550.3,670.5 563.9,629.6 633.7,649.7 595.5,629.7 550.3,679.7 572.2,621.8 641.5,620.4 568.8,625.6 582.4,624.7 573.1,640 532.8,674.8 639.7,641.7 543.1,668 541.8,685.3 527.5,677.2 636.3,638.3 632.8,635.4 596.4,627.7 582.2,636.2 589.1,629.7 561.5,640.2 629.5,619.9 586,636.9 625,623.1 601.9,651.7 600.9,639.7 614.6,633.2 619.5,621.8 602.5,635.5 555.1,635.9 547.5,681.5 538.7,670.8 625.1,641.6 576.6,624.6 513.1,700.3 591.5,647.2 633.3,630.1 635.9,639 536.2,666.7 580.5,622.2 605.8,635.1 597.2,626.4 560,628.1 518,689.3 629.9,626.6 614.9,633.1 626.4,620.9 563.5,620.8 545.5,680.8 623.5,636.6 598.7,630 600.4,626.1 517.6,678.9 527.1,676.4 613.7,626.5 628.7,628 559.3,622.9 627.2,629.6 536.5,682.9 588.9,646.3 558.8,626.2 582.9,634.4 538.8,678.4 563.2,634.2 573.5,644.7 588.9,634.9 539.9,697.2 592.3,635 540.8,683 544.7,671.8 527.4,677.3 548.6,674.2 587.4,625.5 571.5,637.9 599.3,633.5 527.5,678.5 585.8,631 640.6,648.1 629,624.9 552.4,665.1 528.1,646.4 595.8,632.1 586.8,623.2 575.1,636.3 607.3,633.9 574,642 615,640.5 550.8,693.5 555.9,627 632.4,641.3 588.8,628.5 638,628.9 521.1,681 634.1,631.2 520.6,676.3 610.9,635.8 588.8,631.2 529,675.1 552.7,662.1 575.9,642.5 586.1,638.8 576.9,630.6 516.7,663.9 643.2,619.3 559.2,630.1 607.6,623.7 634.6,630.6 640.5,622.3 537.1,674.5 629.8,628.3 580.2,634.1 598.8,631.7 545.3,659.6 531.9,685.7 588.9,631.6 631.2,636.7 567.9,623.6 605.4,634.3 515.6,699 635.3,626.5 527.8,670.4 542.1,689.8 586.7,633.7 636,632.2 530.7,695.1 552,656 519.1,671.9 524.6,673.6 569.4,640.7 588.4,637.7 579.9,637.1 519.3,671.6 569.2,640 571.2,619.3 635.4,628.5 555.9,655.2 596,617.4 576.9,630.4 614.9,636.4 592.1,630.9 642.9,647.2 596.4,630.1 557.8,654.7 568.1,640.4 625.1,620.2 561.3,621.5 634.3,634.6 570.7,640 636.5,623.8 532.8,676.1 615.7,630 571.3,626.4 542.8,684.8 590.3,625 520.9,693.6 539.2,663.2 623.9,645.1 581.6,637.1 557.3,640.1 532,669.5" fill="none" stroke="none" marker-start="url(#mc)" marker-mid="url(#mc)" marker-end="url(#mc)"/>
<polyline points="603.5,755.8 586.4,730.5 555.6,673.5 617.3,770.1 530.3,680 589.2,734 527.2,676 610.6,758.9 578.8,729.2 596,737 535.4,678.9 567.5,672.6 599.5,756.4 570.8,689.5 607.7,761.7 524.2,664.6 560,670.3 527.2,659.7 609.7,756.4 564.7,664.6 610.9,748.9 612,769.5 518,659.4 594.3,745.7 618.3,779.9 632.9,769.4 524.7,672.1 525.2,656.2 571.1,699.4 611.2,762.7 527.7,668.4 606.3,755 515,678.7 610.4,750.7 569.3,675 536.1,670.4 599.8,766.3 606.6,758 594.4,744.9 546.2,664.3 536.9,672.8 520.9,680.3 535,671.5 560.2,678.1 557.3,655.5 522.2,676.3 623.6,775.5 537.5,670.7 523.6,680.7 540.4,674.1 570.9,695.6 594.8,751 523.7,672.5 532.9,659.9 516.6,666.7 565.2,681.6 643.8,779.7 615.3,759.5 624.6,775.9 632.6,772.6 542,670.6 597.8,746.2 567.6,684.1 560.6,671.5 612.3,771 586.6,731.1 594.5,754.3 548.5,655.8 636.1,774.5 598.9,753.9 595.5,741.2 612.5,764.7 632.6,772.6 536.1,670.8 547.6,676.4 640.3,783.1 601.3,760.4 629.3,762.7 556.5,675.6 642.2,779.2 569.5,693.4 618.3,761.6 632.3,756.6 580.7,729.7 567.6,678 578.2,714.9 530,672.9 522.5,666.1 636.7,785.1 598.4,744.4 524.1,668.5 590.2,748.7 545.6,657 623,762.6 560.1,660.6 515.4,682.5 600.1,755.6 643.2,780.3 609.5,756.6 638.9,763.7 526.5,686.3 551.2,670.2 614.6,766.4 573.6,694.6 536.4,670.7 557.9,681 550.4,672 605.1,766.9 614.2,771.6 609.3,761.3 600.5,757.7 610.9,760.5 633.8,786.4 547.6,650.9 549.5,659.8 641.5,769.6 628.3,782.7 600,771.3 616.9,773.9 597.2,751.9 553.4,651.7 587,724 545,674.7 526,660.2 557.4,660.1 618.9,767.6 531.3,660.2 519.1,667.6 543.9,675.8 615.7,775.8 628.6,773 548.9,662 638.7,786.3 575.6,722.4 602.9,751.6 600.4,776.4 571.2,680.4 623.1,773.5 630.5,766.5 574.8,691 552.4,682.5 635.6,783 604.6,739.1 560.7,672.7 534.5,671.4 564.7,668.4 571.2,686.5 619.5,757 604.9,757.1 579.8,722.7 631.9,773.4 589.6,736.7 626.1,760.1 521.5,669.2 523.5,655.1 625.5,778 609.3,757.2 547,655.7 528.9,659.6 522.5,667.6 554.9,677.7 628.9,778.1 538.2,671.7 545.7,667.7 621.9,771.3 537.3,682.5 544.4,676.5 610.7,758.4 625.1,763.7 636.3,786.1 519,673.4 556.2,684.3 593,749.1 556.5,640.7 610,761.7 542.6,673.2 592.2,748.2 534.3,680.5 532.8,685.9 617.4,767.3 595.2,749.8 587.3,723.1 562.3,684 601.2,750.8 637.7,763.5 562.1,686.7 519.3,664.8 546.8,683.8 615.2,761.3 552,658 611.8,763.5 539.8,667.9 591.1,747.5 560.9,667.9 582.8,717.1 562.1,671.9 590.7,742.2 609.8,758.8 604.8,751.1 569.4,702.9 517.9,669.8 621.3,774.7 527.1,666.2 562.7,661.7 616.3,763.7 641.2,764.7 608.1,769.1 528,673.8 639.3,783.4 519.3,669.8 517.9,669.5 609.3,763.4 633.3,783.6 596.9,750.2 627.6,775.3 597.8,745.7 524.2,672.6 594.1,736.3 613.3,762.6 577.7,730.2 606,760.5 574.3,717.2 526.5,662.2 625.9,758.9 540.1,670.6 539.9,666.6 530,682.4 558.4,689.1 565.7,679.6 539.1,672.5 534.4,683 572.1,697.7 514.7,667.7 577.4,708.5 527.1,657.4 530.6,663.6 528.8,673.4 623.8,769.2 619.8,763.2 641.9,784.4 618.5,756.4 579.3,711 564.6,672.2 589.6,744.6 595.5,716 642.4,768.8 556.9,662.5 631.3,757.8 637.5,766.4 638,773 594.9,741.2 593.5,752.8 643.4,770 567.2,694.1 614.6,761.7 523.6,665.6 544.3,683.4 579,701.8 609.4,771.3 536.5,661.5 620.3,772.8 588.3,734.4 530.9,675.8 518.2,649.4 565.2,661.6 620.6,753.4 640.8,768.8 612.5,758 542.5,669" fill="none" stroke="none" marker-start="url(#ms)" marker-mid="url(#ms)" marker-end="url(#ms)"/>
<polyline points="513.1,670.3 565.4,670.3 568.6,682.7 571.9,694.2 575.4,704.8 578.9,714.2 582.7,722.8 586.7,730.7 590.9,737.8 595.3,744.1 600,749.6 604.9,754.6 610.2,758.9 615.9,762.6 622,765.8 628.6,768.5 635.9,770.7 643.9,772.6" fill="none" stroke="#2b2bff" stroke-width="1.9" stroke-linejoin="round"/>
<polyline points="513.1,674.2 558,674.2 558.9,682.9 559.9,690.6 561.1,696.5 562.3,700.9 563.7,704.3 565.3,706.8 567.3,708.5 569.9,709.5 573.6,710.1 579.9,710.4 643.9,710.4" fill="none" stroke="#000" stroke-width="1.9" stroke-linejoin="round"/>
<polyline points="513.1,676.1 551,676.1 552.4,653.7 553.2,646.1 554.2,639.9 555.2,635.6 556.4,632.6 557.9,630.7 559.9,629.4 562.8,628.9 567.9,628.7 643.9,628.6" fill="none" stroke="#ff2a12" stroke-width="1.9" stroke-linejoin="round"/>
<path d="M513.1,615.8V791.7H643.9" fill="none" stroke="#000" stroke-width="1.3"/>
<path d="M508.1,791.7H513.1M508.1,733.3H513.1M508.1,674.9H513.1M508.1,616.5H513.1M510.1,762.5H513.1M510.1,704.1H513.1M510.1,645.7H513.1M513.1,791.7v4M534.9,791.7v3M556.7,791.7v4M578.5,791.7v3M600.3,791.7v4M622.1,791.7v3M643.9,791.7v4" stroke="#000" stroke-width="1.2" fill="none"/>
<text x="507.6" y="794.1" font-size="7" text-anchor="end" fill="#000" stroke="#000" stroke-width="0.3">0.0</text>
<text x="507.6" y="735.7" font-size="7" text-anchor="end" fill="#000" stroke="#000" stroke-width="0.3">0.5</text>
<text x="507.6" y="677.3" font-size="7" text-anchor="end" fill="#000" stroke="#000" stroke-width="0.3">1.0</text>
<text x="507.6" y="618.9" font-size="7" text-anchor="end" fill="#000" stroke="#000" stroke-width="0.3">1.5</text>
<text x="513.1" y="803.2" font-size="6.6" font-weight="bold" text-anchor="middle" fill="#000" >0</text>
<text x="556.7" y="803.2" font-size="6.6" font-weight="bold" text-anchor="middle" fill="#000" >10</text>
<text x="600.3" y="803.2" font-size="6.6" font-weight="bold" text-anchor="middle" fill="#000" >20</text>
<text x="643.9" y="803.2" font-size="6.6" font-weight="bold" text-anchor="middle" fill="#000" >30</text>
<text x="578.5" y="612" font-size="10.6" font-weight="bold" text-anchor="middle" fill="#000" >G123A N-M dock</text>
<text x="578.5" y="815.6" font-size="10.5" font-weight="bold" text-anchor="middle" fill="#000" >min</text>
<text transform="translate(491.1 703.8) rotate(-90)" font-size="10.2" text-anchor="middle" stroke="#000" stroke-width="0.3">Relative fluorescence</text>
<text x="647.3" y="633.4" font-size="9" text-anchor="start" fill="#ff2a12" stroke="#ff2a12" stroke-width="0.2">AMPPNP</text>
<text x="647.3" y="713.3" font-size="9" text-anchor="start" fill="#000" stroke="#000" stroke-width="0.2">ATP</text>
<text x="647.3" y="776" font-size="9" text-anchor="start" fill="#2b2bff" stroke="#2b2bff" stroke-width="0.2">ATP&#947;S</text>
<polyline points="71,913.2 75.2,907.3 119.4,948.4 100.4,936.9 180.6,967 173.2,951.6 125.2,950.9 74.2,885.4 94,895.8 55.9,893.1 139.2,945.8 102.9,973.7 173.9,957.4 93.9,923.3 164,985 104.1,969.2 138.1,979.1 99,947.9 158.5,944.5 81.8,903.4 73.4,901.1 59.2,902.4 102.4,961.3 148.6,956.2 113,953.3 162.9,964.4 129.3,968.8 122.4,965.2 117.8,947.2 57.7,904.9 129.8,938.3 77.5,902.5 63.2,880.6 65.8,915.4 74.1,908.7 133.7,951.6 89.9,892.6 91.1,901.4 106.6,930.3 177.8,957.1 86.2,895.3 91.8,907 85.3,876.7 93.7,887.6 91.4,893.6 161.3,980.3 180.8,953.2 104,964.3 166.2,952.8 66.3,886.9 115.6,968.3 160.2,955.2 64.2,887.3 183.3,955.9 104.7,962.5 117.9,972.5 176.4,967.2 173,975.3 79.8,885.9 112.2,956.7 148.8,974.6 112.7,958.2 175.6,975.6 78.6,943.7 180.3,941.8 133.9,942.3 132.9,978.1 142,967.8 87.1,896.5 110.6,963.3 81.1,910.8 158.1,965.1 95.8,935.5 71.2,906.8 169,955.3 97.5,952.8 177,968.4 110.8,957.8 137.7,980.6 155.4,938.6 120,981.7 176.2,959.3 158.5,953.6 169.3,952.6 122.1,954.6 69.4,882.2 75.1,914.5 71.6,900.2 122.4,956.2 177,964.9 124.9,966.2 108.7,940.8 67.2,908.9 101.6,964 76.5,903 112.2,961.1 112.5,956 174.9,961 104.3,953.1 168.2,956.4 57.9,892.9 97.8,932.6 147,969.6 111,936 62.8,905.4 99.2,946.4 125,956.1 177.7,962.2 83.5,925.8 64.1,877.7 151.7,968.4 133.1,968.8 98.2,938.6 103.7,957.1 95.4,898.8 139.3,935.6 165.9,948.7 91.7,896 171.7,948 107.3,975.9 116.8,955.9 86,897.4 63.8,905.7 78.8,896 85.3,919 109.8,946.1 117.2,941 163.1,975.6 99.5,954.1 152.8,937.5 85.7,893.8 115.1,972.1 62.4,912.6 169.3,946.8 98.6,929.6 136.4,972.8 126.1,957.8 116.4,968.7 83.7,903.2 160.4,954.1 114.3,958.8 69.7,908.6 65.5,871.2 118.4,960.4 126.5,960.7 88.6,884.6 83.2,899.3 161.2,961 142.1,945.6 71.2,913.3 158.3,948.3 59.9,885.7 162.9,949.4 162.1,960.7 68.6,899.5 182.3,981.2 170.4,960 75.8,895.6 138.1,946.7 113.3,956.4 71.4,904.6 79.5,910.6 79.4,900 140.5,956.5 127.4,942.2 179.7,958.2 92.5,906.1 115.4,959.7 101.2,964 102.5,961.1 128.9,987.7 155.4,979.6 142,974.2 67.5,893.2 88.6,900.5 134.5,956.4 152.3,942.8 166.2,972.2 99.7,941.1 112.6,953.2 58.7,909 120.4,938.5 92.3,918.5 121.4,973.3 131.1,961.1 74.9,894.1 62.3,902 145.9,986.8 147.1,962.3 181.9,959.4 118.4,924.4 61.2,881.2 62.5,897.8 179.6,972.9 148.8,953.8 74.1,915 107.9,955.6 78,894.6 154.2,963.7 148.3,955 173.9,962.7 138.6,965.9 105.5,937.9 171.9,950.6 102.7,962.1 148.9,968.5 81.2,897.1 88.7,891.9 131.7,947 90.9,879.9 165.1,952.2 120.1,973.2 174.1,931.4 131.3,942.9 128,947.3 118.8,940.6 77.9,919.3 98.4,958.4 169.9,965.2 141.2,942.5 153.4,974.1 106.9,962.6 78.9,879.3 156.6,949.8 107.1,963.5 154.4,933.4 61.2,917.2 98.6,948.1 137.6,961.4 174.4,951.6 78.7,903.2 181.1,969.5 140.9,955.5 78.6,917 54.4,892.5 174.1,962.6 140.9,946.1 147.1,964.3 106.6,967.3 63.9,894.2 115.1,942 136.8,985.9 88.8,897.9 178.2,950.1 153.9,977.3 54.8,911.2 91,891 170.5,969.4 150.4,966.9 157.6,935.6 77.1,912.1 167.9,969.9 138.7,989.1 105.4,972.9 141.9,974.8 84.5,876.8 170.1,942.3 62.7,916.4 87.5,873.5 146.6,948.2 107.2,960.8 168.2,947.7 160.8,953.4 141.6,968.6 99.6,979.6 110,970.5 95.8,933 93.3,904.3 54,909.4 86.3,886.6" fill="none" stroke="none" marker-start="url(#mt)" marker-mid="url(#mt)" marker-end="url(#mt)"/>
<polyline points="76.2,877.3 173.6,904.5 62.3,869.3 141,875.2 127,887.6 118,896.9 143.1,884.2 96.5,884.2 134.5,872.3 167.4,892.4 127.5,888.5 121.2,885 132.6,887.4 76.8,891.2 96.1,902.9 146.3,902.1 126.9,891.7 67.9,886.9 166.2,873.7 84.8,866 72,880.2 173.7,864.2 148.2,885.7 93,890.1 164,895.9 71.6,888.9 120.8,887.3 140,868.7 175.4,890.8 142.4,876 66.5,888.8 120.6,897.6 171.9,881.9 87.8,882.6 63.9,896.9 60.1,893.8 161.8,893 174.8,874.1 112.9,879.5 92.5,881.9 104.5,879.1 75.8,889.6 109.6,879.3 114.3,890.9 122.3,898.8 66.2,892 180.1,882.2 134.5,883.5 127.5,873 160.8,902.6 58.8,886.8 129.3,880.2 100.8,894.8 136.4,881.7 175.4,888.8 61.5,896.6 75.1,872.3 98.4,899.4 122.4,873.6 161,888.9 148.6,894.5 124.4,893.9 77.7,892.3 118.4,893.5 110.1,881.5 67.2,904.5 172.3,871 162.7,875.4 132.8,869.5 84.8,895 128,909.4 94.8,891.1 137.4,886.2 57.3,881.1 131.5,890 125.8,885.3 173.7,882.8 127.3,901.1 155,864.9 81.5,896.5 124.8,881.5 94.8,872.8 181.6,892.8 177.9,884.3 84.5,866.8 134.1,887.4 61.7,873.1 124.3,881.2 181.5,881.9 70.7,876.6 148,886.9 120,886.6 182.6,874 106,881.5 160.9,879 130.6,897.2 157.3,884.2 164.1,871.3 137.3,874.7 98.3,880.6 130.6,889.9 156,890.9 160,879.6 135.2,869 112.2,883.9 63.4,870.3 67.6,887.5 137,871.4 104.3,895.1 141.1,882.3 120.7,895.8 104.7,877.2 79.2,878.1 163.5,894.5 88,892.3 135.1,889.1 65.7,900.3 178.7,894.3 72.4,893.6 118.5,875.9 158.8,869.4 82.9,889.1 137,887.4 105.9,882 178.6,889.9 69.9,887.3 77.5,875.3 123.9,881.8 141.7,885.2 127.9,890.5 76.3,868.5 116.7,890.9 60.9,883 140.7,895.4 95.5,890.7 178.4,883.3 104.8,888.6 59.2,878.6 54,883.6 95.6,899.2 86.7,909.2 177,873.6 154.7,890.6 100.6,868.4 86.5,884.2 61.3,892.5 68.6,878.3 149.7,887.2 59.8,884.2 155.3,894.3 104.1,877.5 142,872.5 133.2,890 66.7,865.1 151.5,890.5 167.4,881.6 66.9,901.9 179.7,905 131.7,869 143.7,872 58.5,902.6 82.2,881.9 171.2,879.8 165.5,883.5 80.9,881.1 124.1,894.2 97.6,886.1 76.9,896.6 154.9,888.1 141,880.3 61.4,892.8 140,887.3 54,889 65,884.2 106.7,874.4 57,881.8 120.6,880.1 142,899.9 86.3,888.3 143.8,875.6 61.8,893.6 64,889 117.7,894.8 56.1,870 151.8,889.2 169.3,892.2 53.3,877.7 157.2,872.5 127.1,879 180.2,873.8 157.3,882.1 170.8,885.8 164.4,889.1 164.2,889.8 151.7,890.8 171.2,880.4 63.8,885.6 157.8,883.4 141.3,877.9 100,885 109.7,899.1 67.2,892.9 93.2,896.4 146.1,904.9 124.7,883.3 173.9,897.3 85.9,898.2 82.4,896 149.1,875 177.8,887.7 100.5,873.6 104,885.4 59.6,889.1 83.1,878.3 171.6,878 180.5,883.2 116.8,895.6 164.4,889.3 80.8,897.1 137.4,887.2 172.1,883.4 98.3,868.5 136,869.2 149.9,877.1 70.9,874.2 86.4,882 86.4,868 73.5,880.3 155,880 112.7,873.1 125.2,882.4 135.7,881.1 95,895.1 138.6,874.3 111.6,883 64.5,875.7 121,886.8 117.8,903.6 142.7,879.1 178.2,871.9 58.7,898.2 133.2,894.9 144.6,887.7 115.3,887.1 109,902.8 145.7,865.5 123.3,873.6 107,891.1 138.3,904 132,880.6 63.9,863.1 99.4,875.5 169.6,872 73.3,894.6 120.8,882 135.9,900.6 68.1,863.2 78.6,878.3 94.7,907.2 131,904.4 69,879.3 152.9,883 141.8,887.8 157.7,877.8 84,862.9" fill="none" stroke="none" marker-start="url(#mc)" marker-mid="url(#mc)" marker-end="url(#mc)"/>
<polyline points="72.7,903.3 115.8,1007.9 88,890.9 159,1006.2 116.8,1015.7 121.2,1001.6 71.3,898.9 176.5,1012.8 85.6,905.5 128.9,1021.6 154.2,1012.1 120.6,1020.1 94.4,897.9 136.7,1016 146.5,1011.6 70.6,886.3 85.9,886.3 76.4,883.9 55.4,891.7 133.8,1019.2 183.4,1029.1 88.1,896.9 175.3,1021.6 102.9,1017 172.1,998.3 64.7,911.1 94,890.2 163.4,1008.7 171.5,1016.2 157.6,989.4 141.8,1013.8 93.1,900.9 181.5,997.2 127.6,1021.6 159.8,1027.7 104.7,1014.3 175.3,1020.1 134,1013.6 145.7,1010.8 71.1,908.1 106.7,1005 65.1,872.3 98.8,981.4 126.8,1015.2 90.5,886.9 53.2,882.1 108.9,1017.1 151.8,1023.2 102.1,1006.3 154.3,1003.5 103.3,992.3 92.1,914 63.8,905.4 154.9,1028.3 119.7,1009.9 156.5,1011.9 155.3,995.3 154.5,1006.4 102.3,996.2 90.9,882.3 82,902.1 113.8,1026.4 131.5,1013.7 165.4,1005 183.2,1029.5 148.1,1005.4 126.8,1005.7 90.2,898.4 128.9,1012.4 89.6,896.2 166.5,1013.2 82.2,885.8 106.1,1015.2 81.8,883.6 81,885.2 152.6,1005.3 79,912.4 94.5,917 58.1,886.9 171.8,1019.6 170.2,1020.6 101.7,1001.8 173,1026.9 82.4,896.3 85.6,900.5 125.3,1020.2 80.8,889 171.2,1025.3 179.6,1003.2 68.5,914.9 111.1,988.1 108,1023 182,1008.4 181.7,1005.3 60.5,893.6 177.6,1006.9 137.2,1015 114.2,1030 109.6,1008 164.6,1003 69.2,898.9 104.6,1020.8 65.5,899.4 104.5,1001.2 157.3,1011.1 161.5,1003.4 70.9,888.2 85,888.7 144.3,1033.2 75,872.2 58.9,893.1 166.2,1005.7 55.5,896.9 169.2,1015.5 130.9,1013.4 104.2,988.6 91.8,879 103.9,996.7 170,994.9 128.4,1017.8 71.4,888.6 126.1,1018.3 93.3,881.1 170.7,1013.6 73.3,884.1 117.3,997 55.5,913.5 87,872.7 145.3,1010.9 132.9,1017 172.9,1032.4 72.8,896.4 65.8,892.7 143.6,1015.6 66.1,875.9 173.5,1017.1 116.3,1003.1 123.1,1002.6 100.7,969.1 104.7,1007 166.9,1006.6 151.9,1028.6 103.2,1011.4 159.4,1016.5 102,996.3 63,905.2 82.4,897.5 108,1003.1 110.4,1016.1 75.4,895 144.7,1022.5 83.7,880.1 137.6,996.7 121.5,1011.8 137.3,1015 169.4,997.8 145.7,1009.2 133,1020.3 141.9,1026.9 120.2,1019.4 182.6,992.6 159.4,1019.6 73,865.5 72.7,893.4 109.6,1013.2 173.3,1001.1 71.1,895.8 83.7,889.8 183.4,1023.9 150.4,1025.9 123.8,1020.9 74.2,891.3 56.6,899.8 95.7,947.1 77.3,888.8 168.3,1015.4 120.2,1016.3 118.7,1019.5 117.1,998 83.6,898 148.6,1008.7 149.1,1000.3 171.6,1002.9 116.5,1011.4 69.6,893.3 178.6,1010.9 54.4,884.6 73,887.8 145.1,1018.1 165.5,1009.5 176,1010.2 130.5,1007.1 88.6,891.4 56.4,880.1 148.7,1011.9 136.5,1005.2 67.7,893 150.3,1019.4 176.9,1023 76.8,894.9 131.5,1008.6 107.2,996.6 133,1014.7 67.8,898.4 170.1,1018.7 90.9,880.9 136.5,1012.8 83.1,898.2 76,886.2 178.1,1026.6 86.2,892.3 177.5,1014.2 165.2,1015.1 125.5,1024.9 126.1,1004.3 56.4,877.1 153.4,1026.6 141.9,1012.6 129.2,1007.5 159,992 114.1,1016.9 102.5,1007.3 149.5,1013.8 117.3,993.9 131.9,1013.1 72.4,890.8 78.7,876.2 76.3,914 182.7,1005 180.1,1006.3 124.8,1027.1 155.3,1008.8 68.2,893 95.6,922.8 175.6,1021.6 91.3,897.8 73.2,901.9 109.3,1010.4 153.1,1016 181.8,997.5 56.6,887.3 135.9,1029 162.5,1009.8 159.4,999.9 172.9,1011.1 137.1,1003.3 163.7,1014.1 105.2,998.8 129.9,1022.8 124.4,1006.1 110.4,1024.9 111.2,999.5 145.1,1028.4 72.2,913.8 161.7,1008.7 145.4,1015.5 78.9,892.3 98.1,962.6 162.7,1014.1 108,1018.3 163.5,1011.7 104.7,1001.1 182.6,1009 103.6,982.6 181.4,1020.9 102.8,998.4" fill="none" stroke="none" marker-start="url(#ms)" marker-mid="url(#ms)" marker-end="url(#ms)"/>
<polyline points="52.4,893.4 94.4,893.4 95.4,921 96.6,945.4 98,965.5 99.5,980.4 101.2,991.7 102.1,996.4 103.2,1000.4 104.2,1003.5 105.5,1006.2 106.9,1008.4 108.3,1010.1 110.4,1011.6 112.9,1012.6 115.9,1013.2 120.1,1013.6 131.2,1013.8 183.5,1013.8" fill="none" stroke="#2b2bff" stroke-width="1.9" stroke-linejoin="round"/>
<polyline points="52.4,899.7 94.4,899.7 95.3,930.9 95.9,942.7 96.6,951.5 97.4,957.6 98.4,961.8 99.6,964.5 100.3,965.3 101.2,965.9 103.4,966.5 107.3,966.6 183.5,966.6" fill="none" stroke="#000" stroke-width="1.9" stroke-linejoin="round"/>
<polyline points="52.4,887.2 183.5,887.2" fill="none" stroke="#ff2a12" stroke-width="1.9" stroke-linejoin="round"/>
<path d="M52.4,860.4V1034.6H183.5" fill="none" stroke="#000" stroke-width="1.3"/>
<path d="M47.4,1034.4H52.4M47.4,967.1H52.4M47.4,899.7H52.4M49.4,1000.7H52.4M49.4,933.4H52.4M49.4,866H52.4M52.4,1034.6v4M74.2,1034.6v3M96.1,1034.6v4M117.9,1034.6v3M139.8,1034.6v4M161.7,1034.6v3M183.5,1034.6v4" stroke="#000" stroke-width="1.2" fill="none"/>
<text x="46.9" y="1036.8" font-size="7" text-anchor="end" fill="#000" stroke="#000" stroke-width="0.3">0.0</text>
<text x="46.9" y="969.5" font-size="7" text-anchor="end" fill="#000" stroke="#000" stroke-width="0.3">0.5</text>
<text x="46.9" y="902.1" font-size="7" text-anchor="end" fill="#000" stroke="#000" stroke-width="0.3">1.0</text>
<text x="52.4" y="1046.1" font-size="6.6" font-weight="bold" text-anchor="middle" fill="#000" >0</text>
<text x="96.1" y="1046.1" font-size="6.6" font-weight="bold" text-anchor="middle" fill="#000" >10</text>
<text x="139.8" y="1046.1" font-size="6.6" font-weight="bold" text-anchor="middle" fill="#000" >20</text>
<text x="183.5" y="1046.1" font-size="6.6" font-weight="bold" text-anchor="middle" fill="#000" >30</text>
<text x="118" y="854.3" font-size="10.6" font-weight="bold" text-anchor="middle" fill="#000" >F120A N-M dock</text>
<text x="118" y="1058.5" font-size="10.5" font-weight="bold" text-anchor="middle" fill="#000" >min</text>
<text transform="translate(30.4 947.5) rotate(-90)" font-size="10.2" text-anchor="middle" stroke="#000" stroke-width="0.3">Relative fluorescence</text>
<text x="186.9" y="890.5" font-size="9" text-anchor="start" fill="#ff2a12" stroke="#ff2a12" stroke-width="0.2">AMPPNP</text>
<text x="186.9" y="968" font-size="9" text-anchor="start" fill="#000" stroke="#000" stroke-width="0.2">ATP</text>
<text x="186.9" y="1016" font-size="9" text-anchor="start" fill="#2b2bff" stroke="#2b2bff" stroke-width="0.2">ATP&#947;S</text>
<polyline points="315.1,885.9 341.5,1011.3 379.5,1028.5 290.2,886.8 417.7,1000.4 305.8,895.1 390.5,1024 324.1,889.6 295.6,882.8 390.1,1031.2 360.6,1003.9 320.8,914.3 336.3,1008.8 400,990.9 379.3,1009.1 322.9,889 317.4,897.8 360.7,1010.2 302.1,868.5 316.3,879.7 392.3,1013.6 381.7,1014.3 289.6,894.1 345.1,986 338.7,1007.8 383.5,997.9 342.3,1014.1 316.1,908.3 397,995.6 311.7,895.2 371.5,1018.8 323.4,901.9 367.7,1017.5 308.9,901 401.6,1027.1 334.9,995.6 375.8,1006 385,999.4 347.8,1013.9 357.2,1006.3 301.8,892.5 357.5,997.3 356.2,1001.2 404.1,1006.2 332.5,1009.4 306.4,907.5 339.6,1018.9 389.6,1017.1 287.7,900.2 291,907.9 417.7,991.9 359.4,1007.2 380.8,1032.3 347.6,1022.1 311.9,909 374.1,1007.5 318,882.6 345.7,1021 313.9,887.5 405.8,1013.2 338,997.4 377.7,995.2 310.2,890.9 366.4,1002.3 325.1,894.3 301.9,898.4 327.8,907 294.6,890.7 365.6,1010.9 359.4,1014.4 398.6,1011 289.8,896.3 340,1021.5 415.9,1015.9 331.9,984.7 293.9,896.9 391.5,994.9 298.5,906.9 380.2,1025 355.5,1008.8 401.7,1001.7 353.8,1017.3 375.6,1003.3 320.1,884.1 415.7,998.4 313.7,895.5 396.4,1010.7 376,1028.2 349.6,1009.9 335.4,1006.2 297.4,878.9 390.7,1024 316.2,903.6 401.1,1021.1 403.1,1000.4 313.9,921.9 324.5,906.1 379.8,987.7 386.9,1003 292.6,908.8 395,1010.8 393.7,1000.9 368.3,1004.1 403.6,1012.6 414.7,1018.8 313.2,885.2 410.4,1010.2 399.7,1001.3 363.6,1005.8 300.7,899.4 412.8,994.4 384.1,1015.6 334.9,1004.2 328.7,901.2 411.4,1012.7 316.6,897 394.2,1017.4 344.6,1007.6 378,995.9 394.4,989.9 299.3,878.7 320.5,896.2 301.2,878.5 339.2,1005.5 304.9,874.8 406.8,1023.9 389.9,994 362.8,1016.7 311.3,881.7 313.9,899.4 364.2,1000.2 405.7,1013.2 409,1030.6 408.6,1020.7 328.7,896.9 378.1,1009.9 359.4,1023.2 375.4,1018.1 325,896.6 321.5,891.9 340.5,1019.1 316.9,910.8 399.5,1006.9 334.4,1011.8 291.3,884.7 369.6,1015.9 416.1,1003.1 358.5,1019.8 323.5,891.4 405,1009.2 369.1,1005.3 367.7,1020.3 346.9,1011.5 387.8,1019.4 374.5,1011.9 358.1,1003.4 330.2,932.4 389.5,1009.8 406.1,1002.4 298.2,893.1 289.6,882 299.3,889.3 401.2,998.8 367.5,1006.3 338.5,984 414.6,995.2 410.6,1028.6 342,1006.9 334.9,1007.9 364.3,1019.5 397.1,1015.1 401.9,1018.1 323.7,892.9 398.7,1029.6 296.4,886.2 313.6,885.9 341.5,1006.3 296.2,897.8 331.9,997 289.8,899.3 392.3,997.7 375.3,1004.6 320.4,872.7 355.1,1014.1 337.5,994.2 394.1,1016.3 324.9,896.1 317.3,905.6 388.5,1004.4 385.8,1010.7 378.9,1003.4 294.6,878.1 291.6,894.9 408.7,1006 414.3,1000.4 313.2,894.9 350.9,1016 347.2,1006.2 323.6,888.8 296.6,885.8 319.5,885.2 412.8,1017.3 344.5,1005.3 313.3,880.9 296.2,899.3 371.3,1006.2 396.9,1016.8 319.4,892.4 385.6,991.3 289,892.4 303.2,904.7 370.3,1006.3 298.6,891.9 347.4,998 350,1024.9 289.9,904.1 394.5,1010.9 383.5,1026.9 390.3,997.8 372.1,1032 323.3,903.2 377.7,1026 361.5,1017.2 368.3,1001.4 385.3,1003.6 324.3,884.2 406.6,1003.6 347.1,1032 327.8,891 355.7,1030 414.4,1015.5 379,1014.3 298.8,900.1 322.5,888.9 374.9,1018.8 412.3,991.4 357.2,1003.6 357.4,997.3 286.3,886 306.4,884.6 392.3,1010.5 318.1,873 356.9,1021.4 376.1,1005.1 364.6,1010 387.1,1012.5 371.1,1006.6 327,902.3 363.3,1000.7 377.9,1001.6 295.3,893.2 413.4,1002.1 367.8,1021.3 414.7,1029.6 399.8,1016.3 290.3,896.8 297.1,867.3 398.9,1012.5 318.6,883.1 406.3,1000.9 415.2,987.3 387.5,1008.8 368.5,1003 344,1012.1 405.9,1019.4 369,1020.9 298.5,902.7 381.8,994.6" fill="none" stroke="none" marker-start="url(#mt)" marker-mid="url(#mt)" marker-end="url(#mt)"/>
<polyline points="293.4,890.5 403.4,991 319.4,890.1 329.8,953.7 302.9,891.5 352.2,969.9 313.4,889.5 294.1,885.4 411.9,980 304.4,905.7 334.5,965.2 312.6,903.9 394.7,966.6 389.1,973.9 407.3,972.8 348.7,968.1 389.8,977.4 393,962.7 396.7,990.2 306.8,894.7 350.8,967.7 372.5,980.2 326.5,929.5 389.5,964.6 369.9,976 392,991 384.3,985.7 343.6,961.3 301.5,905.2 318,884.7 351.4,959.7 411.6,975 313.5,891.9 393.7,980.8 320,900.8 363.6,979.6 404.8,967.6 345.3,983.5 315.2,898.2 327,927.2 384.5,968.3 374.4,993 368.8,989.9 314.3,905.3 385.6,975.2 396.6,971.9 347,970.1 322.4,878.1 366.2,967 389.8,967.7 346.1,976.3 360.1,965.7 384.7,966.7 407,966.9 296.7,898.2 376.9,967.4 294.6,882.8 321.7,904.6 375.9,993.5 309.2,889.4 373.8,966.3 389.3,975.4 375.9,977.4 394.7,947.4 366.6,977.6 352.4,984.2 416.1,977.7 331.1,946.7 308.9,902.9 351.4,976.3 363.4,970.3 333.9,964.1 411.7,972.1 329.9,946.7 310.8,907.1 356.8,972.4 315.5,908 368.9,964.5 324.6,911.6 334.5,963.7 376.6,990.3 375.7,977.5 292.5,908.9 360.6,959.2 360.8,974.3 333.6,954.5 335,978.8 366,984.9 389.2,974.9 389,986 397.6,962.6 356.3,976.8 320.1,895.8 382.7,970.5 307.8,898.6 288.8,890 304.5,903.5 293.3,893.8 341.8,959 338.3,965.5 413.2,972.2 398.5,976.4 395.1,972.8 383.1,967 310.1,899.5 306.7,912.9 394.2,971.8 386.6,974.7 292.6,892.9 340.8,969.2 321.8,882.6 359.1,984.4 345.7,980.8 347.6,966.2 368,982.9 388.1,970.3 403.4,973.5 350.1,990.9 336,958.1 398.8,960.6 289.4,895.3 387.6,986.4 293.4,889.9 325.1,918.9 407.8,974.5 327.1,925 292.7,904.5 302.9,913 412.2,974.7 340.2,969.6 334.7,970 405.4,980.6 397.9,966.5 318.7,898.1 302,901.6 404.1,978.9 336.4,963.5 346.8,971.3 306.9,898.9 340.3,982.1 403.9,976.8 405.9,979.2 311.2,896.7 370.8,962.7 304.8,888.5 352.8,967.1 389.5,972.4 320.3,900.3 363.7,970.3 311.8,901.7 323,900.5 370.6,981.2 330.6,950 314.8,898 328.5,921.7 386.6,968.3 341.1,973.4 365.4,966.3 320.5,901.7 368.3,964.1 291.8,890.2 293.7,870.8 314.8,907.3 390.2,974.1 309.3,898.4 341.5,967.4 417,966.9 316.9,906.3 305.5,904 322.6,894.6 356.3,964.3 404.3,983.7 290.3,911.5 356.2,962.7 288.5,889.6 416.8,963.5 346.3,980.9 375.3,975.3 320.2,895.3 348.6,968.5 394.7,974.5 301.7,897.8 314.5,888.1 326.2,924.4 394.4,978.4 404.7,977.4 385,978.1 318.5,896.1 327.8,935.7 383.1,977.4 344.8,958.7 332,952.2 417.4,976.5 320,885.8 388.9,978.4 309.4,897.3 406.3,974.3 323.7,902.5 407.5,976.9 379.8,972.7 401.3,986.4 370,976.9 299.8,895.1 338.5,965.2 415.2,970.7 302.6,876.2 356.3,967.2 354.9,974.4 343.7,972.3 323.2,897.4 326.8,922.4 313,900 320.8,883.7 291.1,907.3 384.9,967.7 403.9,968.9 315.2,907.6 293.8,891.7 336.8,960.7 300.4,903.1 342.3,949.7 319.8,890.9 362.1,976.3 383.9,977.7 401.6,980.1 380.5,971.1 395.2,972.9 417.2,986.1 339,977.6 306.8,903.8 308.6,901 347.4,975.6 377.6,979.4 395.7,967.7 308.1,888.8 355.2,972.5 296.3,917 361.6,974.8 400.1,968.4 331.6,954.2 375.5,971 369.5,972.5 373.6,986.8 310.2,920 353.3,967.5 293.4,902 340.5,965.8 293.2,900.1 413.3,975 331.7,941.8 318.8,908.1 405.1,973.6 343.1,980.8 353.6,972.5 400.5,969.2 355,967.4 337.9,965.7 383.4,985.8 325.9,915.4 306.1,889.4 380.7,964.6 351.7,953.8 417.6,968.4 358.1,982.4 404.3,978.1 291.8,896.6 289.3,888 332.4,966.5 396.1,965.3 348.8,966.8" fill="none" stroke="none" marker-start="url(#mc)" marker-mid="url(#mc)" marker-end="url(#mc)"/>
<polyline points="396,1023.6 323.7,897.4 398.3,1023.3 305.9,881.7 289.1,916.9 399.3,1030.8 403.3,1026.8 351.2,1030.9 406.5,1022.7 298,897.5 306,911.1 414.1,1012.9 409.9,1003.1 377.7,1005.3 330.3,938.4 380.2,1004.9 286.2,897.5 332.9,985 398.4,1009.3 316.3,877.7 303.2,899.2 374.9,1028.8 327.1,895.3 393.9,1010.9 405.7,1018.8 314.7,886.8 336.9,1027.2 396.2,1023.9 352.4,1006.4 384.6,1016.1 327.4,896.1 393.9,1002 396.2,1005.2 388.3,1024.8 402,1014.5 354.2,1016.7 392.5,1012.5 356.9,1000.4 290.9,876.3 314.8,891.9 346,1006.9 385.3,1001 405.3,1018.3 416.1,1005.7 336.9,1011.2 413.4,1032.4 336.5,1024.2 310.1,902.9 408.5,1005.4 300.1,896 349,1006.2 388.3,1021.4 368.7,1029.7 398.3,995.1 356.1,988.2 344.8,1012.5 330.7,972.7 368.3,1004.1 360.6,1028 353.2,1018.6 375.7,1031.4 352.9,1011.5 377.6,1013.9 352,1020.6 388.3,1023.2 313,912.7 333.6,1016.4 326.4,884.2 401.9,1020.1 362.7,1003.4 410.2,1025.5 359.6,1017.3 409.5,1021.2 383.6,1019.2 403.9,1008.5 325.5,918.3 417.3,1008.8 325.7,889.8 384.8,1016.4 367.9,1015.7 333,1006.2 299.9,889.8 292.2,896.4 287.6,905.8 358.8,1014.9 360.1,1006.6 300.5,893.1 291.2,896.7 288.8,894.9 362.5,1021.6 385.5,1021.2 348,1018.4 384,1006.3 317.5,901 292.6,906.4 362,1007.2 329.1,899.2 339,1014.6 301.3,892.1 377.3,1009.2 402.5,1016.9 384,1025.1 304.1,879 322,896.4 312,905 416.7,1014.5 337.5,1003.2 305.6,911.6 393.4,1002.9 314.2,898.4 296.6,876.4 335.1,1005.9 291.1,898.1 346.6,1003.5 343.6,1003.3 327.3,900.6 359.5,1014 390,1021.8 331.1,971.4 322,911.5 370.1,1018.3 320.3,890.9 313.8,907.9 338.8,1013.3 324.6,900.6 392.7,1021 373.7,1026.4 405.9,1021.3 321.8,915 394.8,1013.1 374.2,1008.2 301,889.1 319.2,897.3 396.7,1003.9 343.5,1011.6 307.5,887.1 303.3,892.9 324.6,896.6 371.5,1024.2 303.9,924 306.8,890.3 398.7,1017.6 320.9,876.5 395.9,1007.8 384.7,1026.2 368.8,1016.5 345.4,1025.5 379,1012.9 334.4,1011.1 386.8,1007.4 378.1,1014.9 301.2,892 287.1,883.9 373.6,1011.1 349,1017.8 366.2,1003.7 373.8,1017.6 347.9,1012.2 303.6,900.2 362.6,1023.2 324.3,927.7 352.1,1009.3 290,908.8 412.6,1008.9 310.2,878.4 416.9,1029.9 390.6,1007.4 337,1016.1 360.7,1011.8 315,909.2 287.9,896.6 351.2,1014.8 295.4,882.3 309.6,874.9 294.8,893.7 359,1020.1 374,993.7 412.8,1017.5 318.3,897.5 396.5,1015.3 363.6,1011.6 288,889.6 334.3,1016.4 415.2,1017.5 382.5,997.1 374.4,999.9 378.4,1011.8 412.3,1013.6 357.1,1018.7 304.1,886.4 292.9,902.2 361,1015.1 309.6,901.5 409.4,1022.7 414.8,1015.9 360.6,1016.3 366.7,1022.3 303.3,897.5 393,1015.6 342.3,1021.1 385.5,1023 342.6,1017.7 391.9,1009.1 302.2,885.5 414.5,1014.4 376.4,1019.1 331.6,989.6 340.3,996.5 314.5,887.5 353.3,1026.1 404.1,1016.8 349,1021.7 330,950 341,1015.9 342,1030.1 354.3,1022.3 380.9,1000.8 380.6,1006.1 289.9,905.7 410,1026.9 332.7,1010.8 354.2,1026.4 405.7,1019.1 291.6,907.6 397.3,1008.6 375.4,1016.8 356.8,1021.7 339.3,998 356.8,1009 378.5,1015.6 345.6,997.3 408.2,1002.8 361,1023.5 346.6,1013 405.8,1020.8 289.8,911.5 404.9,996.8 350.4,1000.9 304.5,909.9 377.7,1011.2 319.4,913.7 349.3,1005.3 357,1016.8 413.9,1019.3 376,1003.4 345.9,1016.2 371.9,1018.9 372.5,1006.9 305.8,899.9 336.6,1005.7 309.3,896.8 301.8,888.3 330.1,944.5 291.2,888.7 310.7,907.2 310.5,877.4 357.7,1017.9 342.4,998.1 300.6,902.9 417.2,1019.1 385.2,1019" fill="none" stroke="none" marker-start="url(#ms)" marker-mid="url(#ms)" marker-end="url(#ms)"/>
<polyline points="286.2,899.7 329,899.7 330.2,959 330.8,977.2 331.6,992.9 332.5,1003.8 333.5,1011.3 334.8,1016.2 335.6,1017.8 336.6,1018.9 337.7,1019.6 339,1020.1 343.4,1020.5 417.9,1020.5" fill="none" stroke="#2b2bff" stroke-width="1.9" stroke-linejoin="round"/>
<polyline points="286.2,899.7 329,899.7 329.9,958 330.5,977 331.1,991.4 331.8,1001.4 332.6,1008.3 333.7,1012.3 334.3,1013.5 335.1,1014.4 336,1015 337,1015.3 340.5,1015.5 417.9,1015.5" fill="none" stroke="#000" stroke-width="1.9" stroke-linejoin="round"/>
<polyline points="286.2,899.7 324.1,899.7 325.7,918.2 327.2,931.8 328.9,943.3 330.8,952.8 332.9,960.1 334.1,963 335.4,965.7 336.8,968 338.3,969.8 339.8,971.3 341.7,972.6 344.3,973.8 347.4,974.7 351.3,975.2 356.2,975.6 369.5,975.8 417.9,975.8" fill="none" stroke="#ff2a12" stroke-width="1.9" stroke-linejoin="round"/>
<path d="M286.2,860.4V1034.6H417.9" fill="none" stroke="#000" stroke-width="1.3"/>
<path d="M281.2,1034.4H286.2M281.2,967.1H286.2M281.2,899.7H286.2M283.2,1000.7H286.2M283.2,933.4H286.2M283.2,866H286.2M286.2,1034.6v4M308.1,1034.6v3M330.1,1034.6v4M352,1034.6v3M374,1034.6v4M395.9,1034.6v3M417.9,1034.6v4" stroke="#000" stroke-width="1.2" fill="none"/>
<text x="280.7" y="1036.8" font-size="7" text-anchor="end" fill="#000" stroke="#000" stroke-width="0.3">0.0</text>
<text x="280.7" y="969.5" font-size="7" text-anchor="end" fill="#000" stroke="#000" stroke-width="0.3">0.5</text>
<text x="280.7" y="902.1" font-size="7" text-anchor="end" fill="#000" stroke="#000" stroke-width="0.3">1.0</text>
<text x="286.2" y="1046.1" font-size="6.6" font-weight="bold" text-anchor="middle" fill="#000" >0</text>
<text x="330.1" y="1046.1" font-size="6.6" font-weight="bold" text-anchor="middle" fill="#000" >10</text>
<text x="374" y="1046.1" font-size="6.6" font-weight="bold" text-anchor="middle" fill="#000" >20</text>
<text x="417.9" y="1046.1" font-size="6.6" font-weight="bold" text-anchor="middle" fill="#000" >30</text>
<text x="352" y="854.3" font-size="10.6" font-weight="bold" text-anchor="middle" fill="#000" >F124A N-M dock</text>
<text x="352" y="1058.5" font-size="10.5" font-weight="bold" text-anchor="middle" fill="#000" >min</text>
<text transform="translate(264.2 947.5) rotate(-90)" font-size="10.2" text-anchor="middle" stroke="#000" stroke-width="0.3">Relative fluorescence</text>
<text x="421.3" y="979.6" font-size="9" text-anchor="start" fill="#ff2a12" stroke="#ff2a12" stroke-width="0.2">AMPPNP</text>
<text x="421.3" y="1016.3" font-size="9" text-anchor="start" fill="#000" stroke="#000" stroke-width="0.2">ATP</text>
<text x="421.3" y="1026.7" font-size="9" text-anchor="start" fill="#2b2bff" stroke="#2b2bff" stroke-width="0.2">ATP&#947;S</text>
<polyline points="610.6,999.3 617.9,1020.7 638,992.3 641.8,1002.8 516.8,871.7 632.7,986.5 629.7,1004.7 644.9,1003.8 617.9,1011.6 638.2,1015 642.8,995.1 531.4,894.5 529.5,895.9 587.5,1004 634.1,996.2 583.6,993.8 580.4,1002.4 626.4,1004.2 590.6,1001.5 622.1,983.4 593.1,1021.5 581.8,1013.1 579.2,998 618.2,1001 529.9,880.8 558.3,972.4 526.5,873.9 600.3,1009.8 567,996.7 631.4,1004.6 558.6,979.6 634.4,1000.7 554.7,884 637.8,1009.2 631.9,1000.9 551.7,896.9 583.6,1004.8 523.5,896.3 595.4,1011.9 603,992.1 574.3,999.6 570.5,992.3 578.7,1011.6 617.4,1020.4 540,898.1 623.5,1003.8 608,995.1 565.9,992.6 641.8,991.1 590.4,988.1 580.8,995.6 583.4,1001.3 558.7,997.7 583.1,996 526,896.7 593.4,1009.8 558.4,981.4 600.6,1000.3 593.1,994.4 644.2,1009 610.8,991.5 514.8,888.8 529.5,893.7 578.8,1009.3 584.7,1012.3 576.3,1015 610,989.4 636.5,1015.5 521.9,886.3 596.2,1004.6 551.7,897.4 565.1,1006.7 639.3,1003.2 522.5,883.7 540.7,886.9 580,1002.4 612.1,1015 638.9,1018.8 641.7,985.1 635.7,1011.7 616,1016.9 572.9,991.9 551.1,906 627.2,995.5 612,993.7 607.1,1000 615.2,993.4 634.2,1015.2 585.5,1013.7 547.3,893.9 515.2,892.1 545.3,892.9 600,998 562.2,1008.7 539.6,911.9 531.1,888.4 518.2,894.2 588.8,994.8 600.2,983.1 639.2,1001.6 616.5,997 534.2,900.4 540.7,883.7 640.8,999.2 551.9,889.8 584.8,993.9 619.5,1012.8 597.8,997.2 518.9,887.9 575.8,987.7 583.7,1019.1 584.3,1003.2 528.4,871.8 640.4,1006.2 579.5,1006.4 602.1,985.9 614.5,979.2 546.9,891.1 517.2,898.8 594.6,1007.9 633.4,1006 630.7,1010.2 629.1,1009.9 540.5,890.5 629.9,1002 523.7,887.7 551.2,891.9 622.3,1013.6 526,885.3 616.4,1000.1 618.3,1007.8 633,1004.9 626.3,999.4 608.1,1001.7 535.7,893.4 529,885.1 524.2,882.3 554.6,895.1 554.7,892.4 644,1012.7 626,1004 526,887.8 575.6,994.4 619.1,1000.8 565.2,1003.2 582.3,1009 629,1000.4 634.3,1012.5 536.2,891 621.6,1002.2 572.8,1010.8 516.7,889.1 553.6,894.1 630.7,996.8 537.9,896.6 535.4,887.7 639.5,988 570.6,1000.7 633.8,995.1 550.7,898.1 521.8,895.4 634.1,1019.9 555.7,893.6 637.4,1012.9 602.2,1001.4 623.5,1021.5 555.8,900.1 607.4,1001.7 621,998.8 603,1017.7 635.2,1006.3 632.9,978.7 588.3,995.1 637.7,1000.9 607.6,1027.9 633.4,1010.9 532.5,887.4 553,890 533.5,888 516.9,883.3 599.9,1001.5 641.4,994.6 596.4,1019 641.8,979.3 621.8,1005.2 595.1,1008.4 566.2,988.6 539.7,886.6 639.6,993.5 637.5,1008.2 631.9,999.8 557.6,962.7 612.2,1013 584.1,1004.5 622,1004.7 588.3,1005.1 515.2,898.7 550.2,903.9 549.2,888.3 556.9,938 559,982.8 516.1,892.9 580.9,1008.7 637.4,1015.9 594.8,1001.7 541.7,895.1 641.5,983.9 629,981.3 629.8,987.9 529.1,900.6 606.3,1015.4 557,945.3 618.5,1010.7 563,989.1 546,891.2 641.1,1006.2 626.1,1002.6 599,990.9 577,1011.2 588.2,998 600.4,1014.7 570,1004.4 567.4,1008.6 548.6,889.3 595.9,1001.1 551.3,881.2 568.6,996.2 551.6,897.8 633.9,1014.7 582,1010 533.4,896.2 529.6,894.4 615.2,1009.5 636.9,992.5 543.3,883.7 588.7,1005 577.7,1007.1 571.4,1004.7 605.5,1002.9 619.4,1002.7 621.4,1017.4 542.8,896.2 593,1019.8 534.2,892 538.2,886 559.2,1004.6 589,1001 578.4,1008.2 519.9,898.7 578.4,984.4 536,884.1 536.3,887.8 627.2,1006.5 598.9,998.7 546.2,894.1 615.3,998.3 642.8,1010.8 626,1003.2 533.2,895.9 600.5,1015.6 567.6,986.9 571.7,995 537.9,899.6 530.2,905.9 641.8,1009.2 573.8,1010.3 535.4,897.9 574.8,1016.5 573.7,1010.2 534.2,891.7" fill="none" stroke="none" marker-start="url(#mt)" marker-mid="url(#mt)" marker-end="url(#mt)"/>
<polyline points="632.8,1009.6 575.6,1015.3 579.5,1009.2 529.9,903.3 625.8,1024.2 567.5,1033.4 542.9,890.2 536,900.6 535.4,888.5 615.8,1012.6 561.9,1025.5 591.6,1011.7 559.3,1007 635.5,1015.9 581.4,1013.7 574.8,1017.7 637.8,1017.5 620.8,1008.8 642.7,1025.8 614.6,1027.5 543.8,901 574.4,1009 617.6,1020.2 544.1,878.9 530.6,900.6 572,1021.2 586.8,1015.3 536.7,883.6 592.3,1019.1 533.2,903.1 578.8,1010.6 604.8,1004.7 570.6,1012.6 536.3,892.2 642.2,1024.4 585.2,1021.5 577.8,1015.2 518.7,894.5 613.5,1019.6 617.2,1027.2 608.3,1015.2 573.8,1023 574.7,1016.8 621.9,1022.4 636.4,1015.9 591.8,1011.4 597.8,1015.6 624,1012.1 558.3,1016.4 536.8,890.9 612.6,1015.2 594.7,1022.7 558.5,1007.5 612.9,1016.9 518,898.1 606.2,1013.4 632.9,1022.9 607,1015.3 544.8,896.7 533.5,890.7 640.5,1016.9 626.7,1020 569.4,1013.3 567.8,1010.4 598.4,1017.4 548.3,899.7 577.6,1026.7 642.3,1006.8 572.8,1009.6 516.4,903.3 527.5,904 533.7,888 599.6,1022.8 562.1,1017.3 551.3,895.9 617.9,1008.2 579.1,1021.4 636.8,1018.6 614.3,1003.2 576.6,1010.3 641.6,1005.8 556.2,984.4 575.4,1007.7 560.5,1026 517.9,901.5 554.5,979.2 523.1,876.4 528.8,893.3 529.3,895.8 562.6,1021.4 586.9,1026 597.4,999.1 538.4,895.4 551.8,894.2 530.3,906.4 632.8,1018.1 534.4,891.6 596.8,1018.3 578.8,1012.5 523.5,901.7 622.9,1014.9 580.4,1010.2 587.4,1013 612.4,1014.5 553.9,952.5 564.7,1024.7 532.6,890.2 629.2,1020.9 564,1024 625.3,1011.3 625.8,1030.9 567.1,1021.8 592.2,1011.2 544.9,886.9 577,1020.7 555.2,975.9 636,1013.1 601.8,1018.2 631.8,1024 546.4,891.2 540.9,893.4 514,893.9 590.9,1008.4 552.4,895.9 549.8,898.5 573,1016.2 588.4,1001.6 612.5,1023.5 630.2,1019.8 539.3,901.4 578.6,1014.7 634.6,1028 555.5,978.3 586.6,1011.3 572.3,1023.9 612.2,1024.6 609.5,1029.9 566.2,1016.6 548.6,904 596.6,1022.8 636.6,1021.1 566.5,1022.8 579.4,1010.7 546.2,881.6 520.8,901.5 563.8,1014 525.5,903.4 571.7,1022 592.6,1015.9 528.1,883.3 601.4,1007.9 548.7,897.2 541.4,893.7 558.1,1007.4 635.9,1019.1 629.7,1027.3 553.4,951.3 517.8,897.8 526.6,886.7 573.2,1011.3 517.1,910.1 604.2,1019.2 592.5,1022.8 568,1014.9 533.4,903.8 639.4,1010.1 562.1,1016.4 546.1,890 643.3,1010.4 612.4,1033.6 585,1019.4 559.8,998.1 620,1017.4 606,1009 630,1014.1 642.2,1021.7 590,1015.3 622.5,1008.9 633.8,1007 540.7,882.8 596.3,1026.7 625.3,1010.8 618.8,1028.9 611,1018.7 574.1,1019.3 627.5,1012.4 578.3,1015 552.4,889.5 572.1,1022.6 622.1,1010.6 524.1,891.5 515.3,894.7 522,904.6 531.2,890 544.2,892.1 531.7,888.2 516.1,895 549.2,896.8 593.1,1014.4 611.5,1013.8 575.9,1011.9 635.6,1002 519.4,899.8 629.4,1001.1 520,919.1 592.6,1009.7 540.6,901.5 608.1,1001.1 612,1024.9 620.8,1008.8 552.5,911.5 534.5,904.1 613.7,1011 604.1,1010.4 573.5,1023.3 570.5,997.7 579.6,1020.2 639.3,1004.7 530.3,903.1 592,1025.5 626.6,1016.8 527.1,903.1 611.4,1013.8 546.4,893.3 558.9,1012.2 570,1025.3 643.8,1015.8 633.1,1019.4 635.8,1021.3 561.9,1007.8 630,1015.1 578.9,1014.4 592.3,1006.6 600.4,1018.2 610.7,1010.7 557.8,1005.7 562.7,1010.2 530.1,890.4 628.1,1022.1 573.3,1030 640,1028.1 548.5,902.5 596.3,1013 644.8,1018.7 605.6,1020 631.5,1013.7 636.4,1011.6 584,1006.1 537.7,899.6 596.4,1013.1 599.5,1011.8 556,995.4 537.8,893.7 559.5,1017.2 616.3,1019.4 555.6,978.7 618.3,1031.5 561.4,1020.9 619.3,1024.2 593.8,1016.8 637.3,1023.6" fill="none" stroke="none" marker-start="url(#mc)" marker-mid="url(#mc)" marker-end="url(#mc)"/>
<polyline points="614.8,1030.3 560.1,986.4 574.5,1002 619.3,1010.4 633.8,1018.2 547.7,887.6 612.7,1026.1 552.8,899.3 635.1,1009.5 578.9,1026 525.8,901.3 625.9,1028.9 603.7,1021.1 617.9,1028 581.2,1022.7 640.2,1021.4 560.6,986.9 526.7,891.9 634.7,1029.4 557.9,970.6 532,879.5 569.1,1015.6 530.9,898.2 589.3,1018.3 597.1,1023.1 545.2,884.3 525.6,899.2 625.1,1018.4 603.1,1024.8 595.2,1022.8 640.1,1024.3 528,900.4 583.1,1021.9 520.5,885.5 627.8,1028.5 624.6,1026.5 565.7,1015 591.3,1029.9 611.1,1014.8 599,1016.3 548.6,900.7 609.1,1032.9 611.7,1015.2 577.7,1014.1 567.2,1026.6 594,1023.6 633.5,1026.3 518.3,887.9 614.7,1013.8 609.6,1017.4 570.7,1011.9 541.3,885.9 596.1,1023.5 614.1,1026.9 533.9,901.5 587.9,1015.3 611.6,1014.6 548.8,885.1 622.3,1025.9 585.5,1026.5 523.7,892.1 623.3,1011.2 518.1,891.3 622.1,1020.8 586.3,1030.5 514.5,890.5 533.5,889.6 530.4,903.4 598.8,1006.5 614.6,1031.4 561.5,997.1 598.5,1024.8 587.5,1021.4 626.5,1030.2 545.4,899.8 530.4,888.1 567.5,1022.2 623.5,1026 547.5,886.3 621.1,1016.2 525.4,893 626.6,1020.7 572.5,1006.4 622.9,1024.4 574.9,1019 583,1018.9 535.6,912.5 517,893.4 564.8,1009 531.3,892.7 543.7,899.5 535.8,900.7 529.2,887 625.3,1025.6 560.2,990 630.7,1020.6 515,891 633.7,1013.2 618.8,1010.5 575.4,1017.5 636.9,1024.5 559.4,1008.1 532.1,891.8 527,896 609.8,1010.6 553,882.7 548.7,890.1 619.6,1010.1 628.3,1023.5 564.3,1016.2 559,991.6 581.4,1025.7 566.7,1017.7 629.4,1013 583.6,1029.7 548.7,887.1 514.4,872.8 558.1,972.5 637.6,1022.7 630.3,1013.5 569.8,1003.2 543.9,883.1 608.8,1023.2 526.2,902.5 521.9,895.1 517.5,894.9 588.3,1020.6 616.4,1031.2 598.8,1008.7 635.6,1029.6 524.2,888.3 610.1,1020.9 606.1,1033 608.5,1022.2 581.2,1022.6 531.5,896.3 559.1,977.7 545.6,899 639.7,999.2 615.7,1012.4 633.8,1031.4 521.3,882.9 611.8,1020.5 561.4,1004 599.5,1032 534.9,870.7 631.9,1007.9 555.1,899.7 627,1005.4 588.8,1016.4 534.9,888 566.5,1027.6 580.4,1027.1 551.9,904.3 523.6,894.2 638.9,1010.6 593.2,1013.6 581,1019 527,884.2 619.9,1004 537.5,895.1 540.4,898.2 531.1,900.7 614.7,1022 538.2,891.7 548.4,882.9 525.1,878.5 595.2,1032.6 516.2,880.8 528.1,882.9 590.7,1013.4 611.4,1007.7 623.1,1016.1 535.9,904.1 619.1,1000.7 572.8,1031.6 532,884.1 584.5,1017.1 526,894.4 536,893.4 560.1,990 586.4,1006.7 587.7,1029.6 545.7,899.9 553.7,900.1 640.9,1023.6 517.3,894.6 566.1,1031.2 625.1,1020.1 589.6,1025.9 534.3,897 547,897 644.4,1009 588.3,1007.6 551.7,884.5 636,1008.1 621.2,1025.6 613.2,1009.7 544.3,895.2 566.9,1017.8 624.7,1020.4 550.9,907.3 640.5,1028.7 568.6,1022.7 580.1,1019.5 614.4,1024.2 526.6,902.7 592.9,1022.9 535.8,905.8 536.1,905.8 517.5,895.7 562.2,1007.7 598.1,1030.8 523.4,911.5 581.6,1020.2 536.6,887 621.6,1026.8 522.9,898.2 514.4,916.6 601.3,1014.5 560.2,1006.8 633.4,1016.2 564.8,1022.6 617.6,1024.3 576.7,1024.6 564.9,991.3 518,893.7 620.5,1030.6 600.6,1025.2 610,1010 527.3,912.3 608,1024.3 581.5,1018.3 608,1021.8 582.8,1019.2 630.8,1030 643.5,1026.8 582.1,1016 559.2,985.8 627.2,1007.8 538.2,893.8 614.7,1021.1 585.8,1021.1 520.1,889.3 552.6,905.2 635.2,1026.6 590.2,1000.9" fill="none" stroke="none" marker-start="url(#ms)" marker-mid="url(#ms)" marker-end="url(#ms)"/>
<polyline points="513.7,894.7 555.3,894.7 556.2,926.6 557.2,952.6 558.2,973 559.5,989.5 560.9,1001.8 562.5,1010.3 563.3,1013.4 564.4,1016.2 565.6,1018.4 566.9,1020 568.6,1021.3 570.6,1022.1 573.2,1022.6 576.8,1022.9 645.2,1023" fill="none" stroke="#2b2bff" stroke-width="1.9" stroke-linejoin="round"/>
<polyline points="513.7,894.7 556.2,894.7 557,954.3 558,987.4 558.6,997.4 559.3,1003.8 560.2,1007.7 560.8,1009 561.5,1009.9 563.1,1010.6 566.2,1010.8 645.2,1010.8" fill="none" stroke="#000" stroke-width="1.9" stroke-linejoin="round"/>
<polyline points="513.7,894.7 552.3,894.7 553.9,950.1 554.8,970.8 555.9,986.2 557.1,997.9 558.5,1006 559.3,1009 560.3,1011.6 561.3,1013.6 562.5,1015.1 564,1016.1 565.9,1016.9 568.2,1017.3 571.6,1017.5 645.2,1017.6" fill="none" stroke="#ff2a12" stroke-width="1.9" stroke-linejoin="round"/>
<path d="M513.7,860.2V1034.9H645.2" fill="none" stroke="#000" stroke-width="1.3"/>
<path d="M508.7,1012.6H513.7M508.7,953.6H513.7M508.7,894.7H513.7M510.7,983.1H513.7M510.7,924.2H513.7M510.7,865.2H513.7M513.7,1034.9v4M535.6,1034.9v3M557.5,1034.9v4M579.5,1034.9v3M601.4,1034.9v4M623.3,1034.9v3M645.2,1034.9v4" stroke="#000" stroke-width="1.2" fill="none"/>
<text x="508.2" y="1015" font-size="7" text-anchor="end" fill="#000" stroke="#000" stroke-width="0.3">0.0</text>
<text x="508.2" y="956" font-size="7" text-anchor="end" fill="#000" stroke="#000" stroke-width="0.3">0.5</text>
<text x="508.2" y="897.1" font-size="7" text-anchor="end" fill="#000" stroke="#000" stroke-width="0.3">1.0</text>
<text x="513.7" y="1046.4" font-size="6.6" font-weight="bold" text-anchor="middle" fill="#000" >0</text>
<text x="557.5" y="1046.4" font-size="6.6" font-weight="bold" text-anchor="middle" fill="#000" >10</text>
<text x="601.4" y="1046.4" font-size="6.6" font-weight="bold" text-anchor="middle" fill="#000" >20</text>
<text x="645.2" y="1046.4" font-size="6.6" font-weight="bold" text-anchor="middle" fill="#000" >30</text>
<text x="579.5" y="854.3" font-size="10.6" font-weight="bold" text-anchor="middle" fill="#000" >A152V N-M dock</text>
<text x="579.5" y="1058.8" font-size="10.5" font-weight="bold" text-anchor="middle" fill="#000" >min</text>
<text transform="translate(491.7 947.6) rotate(-90)" font-size="10.2" text-anchor="middle" stroke="#000" stroke-width="0.3">Relative fluorescence</text>
<text x="648.6" y="1010.6" font-size="9" text-anchor="start" fill="#000" stroke="#000" stroke-width="0.2">ATP</text>
<text x="648.6" y="1018.8" font-size="9" text-anchor="start" fill="#ff2a12" stroke="#ff2a12" stroke-width="0.2">AMPPNP</text>
<text x="648.6" y="1028" font-size="9" text-anchor="start" fill="#2b2bff" stroke="#2b2bff" stroke-width="0.2">ATP&#947;S</text>
</svg></body></html>
